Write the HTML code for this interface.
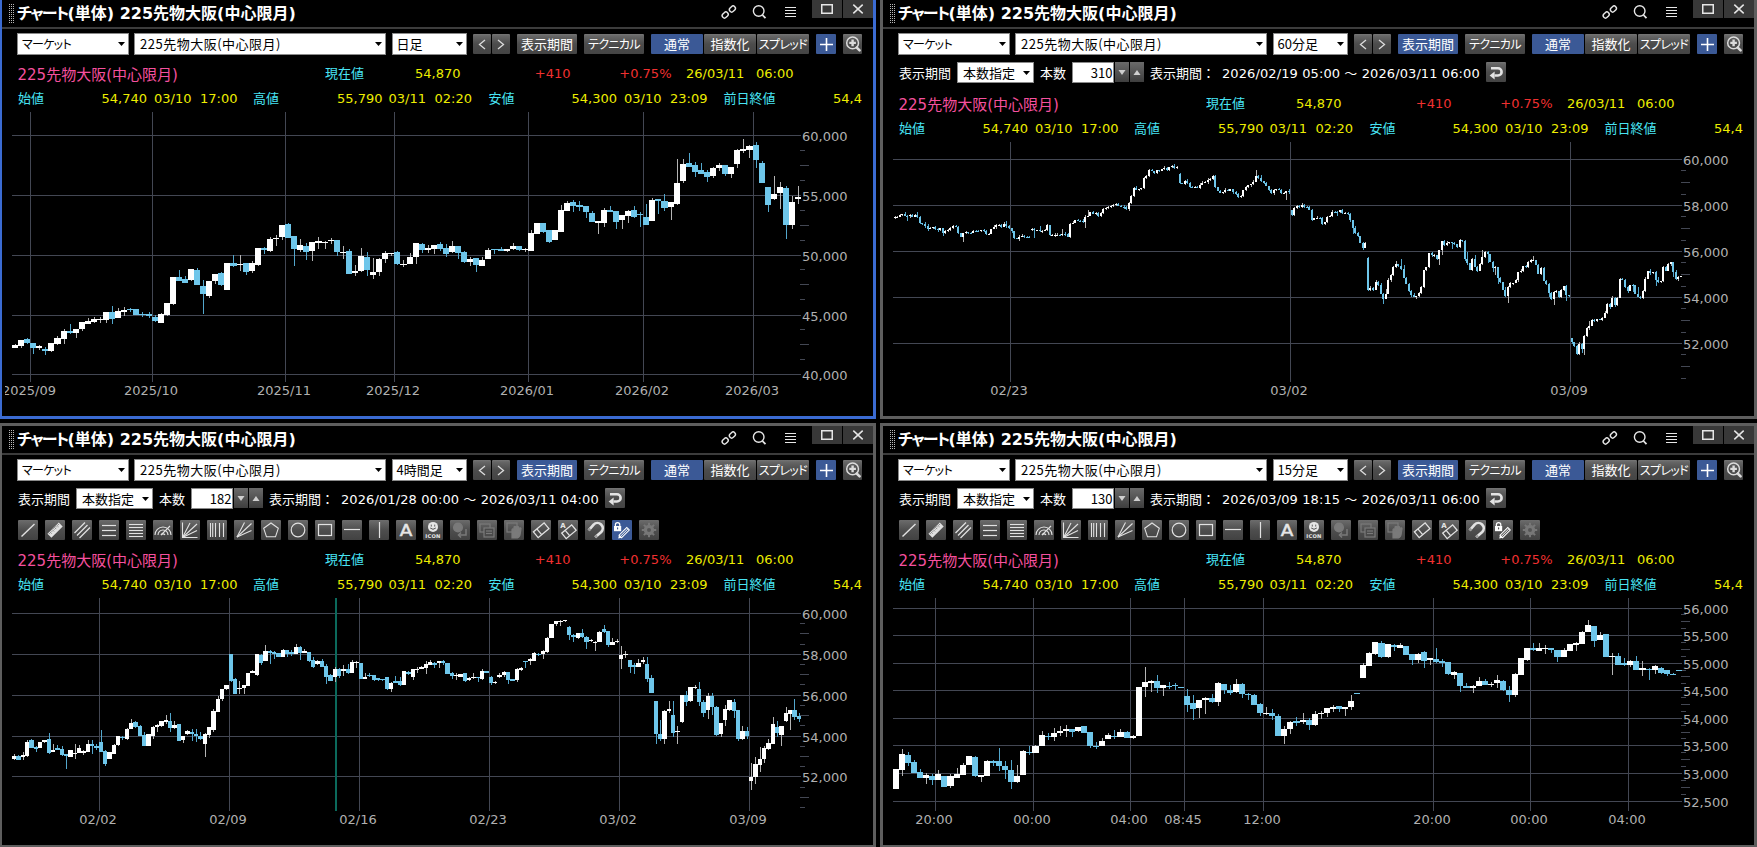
<!DOCTYPE html><html><head><meta charset="utf-8"><title>chart</title><style>html,body{margin:0;padding:0;background:#000;overflow:hidden;width:1757px;height:847px}text{white-space:pre}</style></head><body><svg width="1757" height="847" viewBox="0 0 1757 847" style="display:block"><defs><linearGradient id="gbtn" x1="0" y1="0" x2="0" y2="1"><stop offset="0" stop-color="#757575"/><stop offset="0.1" stop-color="#666"/><stop offset="0.5" stop-color="#4c4c4c"/><stop offset="1" stop-color="#444"/></linearGradient><linearGradient id="gtool" x1="0" y1="0" x2="0" y2="1"><stop offset="0" stop-color="#6c6c6c"/><stop offset="0.5" stop-color="#4e4e4e"/><stop offset="1" stop-color="#424242"/></linearGradient><linearGradient id="gspin" x1="0" y1="0" x2="0" y2="1"><stop offset="0" stop-color="#6a6a6a"/><stop offset="1" stop-color="#3e3e3e"/></linearGradient></defs><rect x="0" y="0" width="1757" height="847" fill="#000" /><rect x="-1" y="-3" width="877" height="3" fill="#3b6bd2" /><rect x="-1" y="416" width="877" height="3" fill="#3b6bd2" /><rect x="-1" y="-3" width="3" height="422" fill="#3b6bd2" /><rect x="873" y="-3" width="3" height="422" fill="#3b6bd2" /><rect x="880" y="-3" width="877" height="3" fill="#5e5e5e" /><rect x="880" y="416" width="877" height="3" fill="#5e5e5e" /><rect x="880" y="-3" width="3" height="422" fill="#5e5e5e" /><rect x="1754" y="-3" width="3" height="422" fill="#5e5e5e" /><rect x="-1" y="423" width="877" height="3" fill="#5e5e5e" /><rect x="-1" y="845" width="877" height="3" fill="#5e5e5e" /><rect x="-1" y="423" width="3" height="425" fill="#5e5e5e" /><rect x="873" y="423" width="3" height="425" fill="#5e5e5e" /><rect x="880" y="423" width="877" height="3" fill="#5e5e5e" /><rect x="880" y="845" width="877" height="3" fill="#5e5e5e" /><rect x="880" y="423" width="3" height="425" fill="#5e5e5e" /><rect x="1754" y="423" width="3" height="425" fill="#5e5e5e" /><rect x="9" y="4" width="1" height="1" fill="#b8b8b8" /><rect x="9" y="6" width="1" height="1" fill="#b8b8b8" /><rect x="9" y="8" width="1" height="1" fill="#b8b8b8" /><rect x="9" y="10" width="1" height="1" fill="#b8b8b8" /><rect x="9" y="12" width="1" height="1" fill="#b8b8b8" /><rect x="9" y="14" width="1" height="1" fill="#b8b8b8" /><rect x="9" y="16" width="1" height="1" fill="#b8b8b8" /><rect x="9" y="18" width="1" height="1" fill="#b8b8b8" /><rect x="9" y="20" width="1" height="1" fill="#b8b8b8" /><rect x="9" y="22" width="1" height="1" fill="#b8b8b8" /><rect x="11" y="4" width="1" height="1" fill="#b8b8b8" /><rect x="11" y="6" width="1" height="1" fill="#b8b8b8" /><rect x="11" y="8" width="1" height="1" fill="#b8b8b8" /><rect x="11" y="10" width="1" height="1" fill="#b8b8b8" /><rect x="11" y="12" width="1" height="1" fill="#b8b8b8" /><rect x="11" y="14" width="1" height="1" fill="#b8b8b8" /><rect x="11" y="16" width="1" height="1" fill="#b8b8b8" /><rect x="11" y="18" width="1" height="1" fill="#b8b8b8" /><rect x="11" y="20" width="1" height="1" fill="#b8b8b8" /><rect x="11" y="22" width="1" height="1" fill="#b8b8b8" /><rect x="13" y="4" width="1" height="1" fill="#b8b8b8" /><rect x="13" y="6" width="1" height="1" fill="#b8b8b8" /><rect x="13" y="8" width="1" height="1" fill="#b8b8b8" /><rect x="13" y="10" width="1" height="1" fill="#b8b8b8" /><rect x="13" y="12" width="1" height="1" fill="#b8b8b8" /><rect x="13" y="14" width="1" height="1" fill="#b8b8b8" /><rect x="13" y="16" width="1" height="1" fill="#b8b8b8" /><rect x="13" y="18" width="1" height="1" fill="#b8b8b8" /><rect x="13" y="20" width="1" height="1" fill="#b8b8b8" /><rect x="13" y="22" width="1" height="1" fill="#b8b8b8" /><text x="17" y="19" fill="#fff" style="font-size:16px;font-weight:bold;font-family:'DejaVu Sans', 'Noto Sans CJK JP', sans-serif;font-feature-settings:'palt'"><tspan style="letter-spacing:-1.7px">チャート</tspan>(単体) 225先物大阪(中心限月)</text><g fill="none" stroke="#e6e6e6" stroke-width="1.4"><rect x="729.1" y="6.7" width="6.6" height="4.6" rx="2.3" transform="rotate(-45 732.4 9)"/><rect x="721.9" y="12.7" width="6.6" height="4.6" rx="2.3" transform="rotate(-45 725.2 15)"/></g><circle cx="758.7" cy="11.0" r="5.3" fill="none" stroke="#e6e6e6" stroke-width="1.4"/><line x1="762.5" y1="15" x2="765.5" y2="18.2" stroke="#e6e6e6" stroke-width="1.8"/><line x1="785" y1="7.5" x2="796" y2="7.5" stroke="#e6e6e6" stroke-width="1"/><line x1="785" y1="10.5" x2="796" y2="10.5" stroke="#e6e6e6" stroke-width="1"/><line x1="785" y1="13.5" x2="796" y2="13.5" stroke="#e6e6e6" stroke-width="1"/><line x1="785" y1="16.5" x2="796" y2="16.5" stroke="#e6e6e6" stroke-width="1"/><rect x="812" y="0" width="30" height="18" fill="#383838" /><rect x="843" y="0" width="30" height="18" fill="#383838" /><rect x="821.75" y="4.75" width="10.5" height="8.5" fill="none" stroke="#e6e6e6" stroke-width="1.5"/><path d="M853.3 4.6 L862.7 13.4 M862.7 4.6 L853.3 13.4" stroke="#e6e6e6" stroke-width="1.5"/><rect x="2" y="27" width="871" height="2" fill="#3c3c3c" /><rect x="890" y="4" width="1" height="1" fill="#b8b8b8" /><rect x="890" y="6" width="1" height="1" fill="#b8b8b8" /><rect x="890" y="8" width="1" height="1" fill="#b8b8b8" /><rect x="890" y="10" width="1" height="1" fill="#b8b8b8" /><rect x="890" y="12" width="1" height="1" fill="#b8b8b8" /><rect x="890" y="14" width="1" height="1" fill="#b8b8b8" /><rect x="890" y="16" width="1" height="1" fill="#b8b8b8" /><rect x="890" y="18" width="1" height="1" fill="#b8b8b8" /><rect x="890" y="20" width="1" height="1" fill="#b8b8b8" /><rect x="890" y="22" width="1" height="1" fill="#b8b8b8" /><rect x="892" y="4" width="1" height="1" fill="#b8b8b8" /><rect x="892" y="6" width="1" height="1" fill="#b8b8b8" /><rect x="892" y="8" width="1" height="1" fill="#b8b8b8" /><rect x="892" y="10" width="1" height="1" fill="#b8b8b8" /><rect x="892" y="12" width="1" height="1" fill="#b8b8b8" /><rect x="892" y="14" width="1" height="1" fill="#b8b8b8" /><rect x="892" y="16" width="1" height="1" fill="#b8b8b8" /><rect x="892" y="18" width="1" height="1" fill="#b8b8b8" /><rect x="892" y="20" width="1" height="1" fill="#b8b8b8" /><rect x="892" y="22" width="1" height="1" fill="#b8b8b8" /><rect x="894" y="4" width="1" height="1" fill="#b8b8b8" /><rect x="894" y="6" width="1" height="1" fill="#b8b8b8" /><rect x="894" y="8" width="1" height="1" fill="#b8b8b8" /><rect x="894" y="10" width="1" height="1" fill="#b8b8b8" /><rect x="894" y="12" width="1" height="1" fill="#b8b8b8" /><rect x="894" y="14" width="1" height="1" fill="#b8b8b8" /><rect x="894" y="16" width="1" height="1" fill="#b8b8b8" /><rect x="894" y="18" width="1" height="1" fill="#b8b8b8" /><rect x="894" y="20" width="1" height="1" fill="#b8b8b8" /><rect x="894" y="22" width="1" height="1" fill="#b8b8b8" /><text x="898" y="19" fill="#fff" style="font-size:16px;font-weight:bold;font-family:'DejaVu Sans', 'Noto Sans CJK JP', sans-serif;font-feature-settings:'palt'"><tspan style="letter-spacing:-1.7px">チャート</tspan>(単体) 225先物大阪(中心限月)</text><g fill="none" stroke="#e6e6e6" stroke-width="1.4"><rect x="1610.1" y="6.7" width="6.6" height="4.6" rx="2.3" transform="rotate(-45 1613.4 9)"/><rect x="1602.9" y="12.7" width="6.6" height="4.6" rx="2.3" transform="rotate(-45 1606.2 15)"/></g><circle cx="1639.7" cy="11.0" r="5.3" fill="none" stroke="#e6e6e6" stroke-width="1.4"/><line x1="1643.5" y1="15" x2="1646.5" y2="18.2" stroke="#e6e6e6" stroke-width="1.8"/><line x1="1666" y1="7.5" x2="1677" y2="7.5" stroke="#e6e6e6" stroke-width="1"/><line x1="1666" y1="10.5" x2="1677" y2="10.5" stroke="#e6e6e6" stroke-width="1"/><line x1="1666" y1="13.5" x2="1677" y2="13.5" stroke="#e6e6e6" stroke-width="1"/><line x1="1666" y1="16.5" x2="1677" y2="16.5" stroke="#e6e6e6" stroke-width="1"/><rect x="1693" y="0" width="30" height="18" fill="#383838" /><rect x="1724" y="0" width="30" height="18" fill="#383838" /><rect x="1702.75" y="4.75" width="10.5" height="8.5" fill="none" stroke="#e6e6e6" stroke-width="1.5"/><path d="M1734.3 4.6 L1743.7 13.4 M1743.7 4.6 L1734.3 13.4" stroke="#e6e6e6" stroke-width="1.5"/><rect x="883" y="27" width="871" height="2" fill="#3c3c3c" /><rect x="9" y="430" width="1" height="1" fill="#b8b8b8" /><rect x="9" y="432" width="1" height="1" fill="#b8b8b8" /><rect x="9" y="434" width="1" height="1" fill="#b8b8b8" /><rect x="9" y="436" width="1" height="1" fill="#b8b8b8" /><rect x="9" y="438" width="1" height="1" fill="#b8b8b8" /><rect x="9" y="440" width="1" height="1" fill="#b8b8b8" /><rect x="9" y="442" width="1" height="1" fill="#b8b8b8" /><rect x="9" y="444" width="1" height="1" fill="#b8b8b8" /><rect x="9" y="446" width="1" height="1" fill="#b8b8b8" /><rect x="9" y="448" width="1" height="1" fill="#b8b8b8" /><rect x="11" y="430" width="1" height="1" fill="#b8b8b8" /><rect x="11" y="432" width="1" height="1" fill="#b8b8b8" /><rect x="11" y="434" width="1" height="1" fill="#b8b8b8" /><rect x="11" y="436" width="1" height="1" fill="#b8b8b8" /><rect x="11" y="438" width="1" height="1" fill="#b8b8b8" /><rect x="11" y="440" width="1" height="1" fill="#b8b8b8" /><rect x="11" y="442" width="1" height="1" fill="#b8b8b8" /><rect x="11" y="444" width="1" height="1" fill="#b8b8b8" /><rect x="11" y="446" width="1" height="1" fill="#b8b8b8" /><rect x="11" y="448" width="1" height="1" fill="#b8b8b8" /><rect x="13" y="430" width="1" height="1" fill="#b8b8b8" /><rect x="13" y="432" width="1" height="1" fill="#b8b8b8" /><rect x="13" y="434" width="1" height="1" fill="#b8b8b8" /><rect x="13" y="436" width="1" height="1" fill="#b8b8b8" /><rect x="13" y="438" width="1" height="1" fill="#b8b8b8" /><rect x="13" y="440" width="1" height="1" fill="#b8b8b8" /><rect x="13" y="442" width="1" height="1" fill="#b8b8b8" /><rect x="13" y="444" width="1" height="1" fill="#b8b8b8" /><rect x="13" y="446" width="1" height="1" fill="#b8b8b8" /><rect x="13" y="448" width="1" height="1" fill="#b8b8b8" /><text x="17" y="445" fill="#fff" style="font-size:16px;font-weight:bold;font-family:'DejaVu Sans', 'Noto Sans CJK JP', sans-serif;font-feature-settings:'palt'"><tspan style="letter-spacing:-1.7px">チャート</tspan>(単体) 225先物大阪(中心限月)</text><g fill="none" stroke="#e6e6e6" stroke-width="1.4"><rect x="729.1" y="432.7" width="6.6" height="4.6" rx="2.3" transform="rotate(-45 732.4 435)"/><rect x="721.9" y="438.7" width="6.6" height="4.6" rx="2.3" transform="rotate(-45 725.2 441)"/></g><circle cx="758.7" cy="437.0" r="5.3" fill="none" stroke="#e6e6e6" stroke-width="1.4"/><line x1="762.5" y1="441" x2="765.5" y2="444.2" stroke="#e6e6e6" stroke-width="1.8"/><line x1="785" y1="433.5" x2="796" y2="433.5" stroke="#e6e6e6" stroke-width="1"/><line x1="785" y1="436.5" x2="796" y2="436.5" stroke="#e6e6e6" stroke-width="1"/><line x1="785" y1="439.5" x2="796" y2="439.5" stroke="#e6e6e6" stroke-width="1"/><line x1="785" y1="442.5" x2="796" y2="442.5" stroke="#e6e6e6" stroke-width="1"/><rect x="812" y="426" width="30" height="18" fill="#383838" /><rect x="843" y="426" width="30" height="18" fill="#383838" /><rect x="821.75" y="430.75" width="10.5" height="8.5" fill="none" stroke="#e6e6e6" stroke-width="1.5"/><path d="M853.3 430.6 L862.7 439.4 M862.7 430.6 L853.3 439.4" stroke="#e6e6e6" stroke-width="1.5"/><rect x="2" y="453" width="871" height="2" fill="#3c3c3c" /><rect x="890" y="430" width="1" height="1" fill="#b8b8b8" /><rect x="890" y="432" width="1" height="1" fill="#b8b8b8" /><rect x="890" y="434" width="1" height="1" fill="#b8b8b8" /><rect x="890" y="436" width="1" height="1" fill="#b8b8b8" /><rect x="890" y="438" width="1" height="1" fill="#b8b8b8" /><rect x="890" y="440" width="1" height="1" fill="#b8b8b8" /><rect x="890" y="442" width="1" height="1" fill="#b8b8b8" /><rect x="890" y="444" width="1" height="1" fill="#b8b8b8" /><rect x="890" y="446" width="1" height="1" fill="#b8b8b8" /><rect x="890" y="448" width="1" height="1" fill="#b8b8b8" /><rect x="892" y="430" width="1" height="1" fill="#b8b8b8" /><rect x="892" y="432" width="1" height="1" fill="#b8b8b8" /><rect x="892" y="434" width="1" height="1" fill="#b8b8b8" /><rect x="892" y="436" width="1" height="1" fill="#b8b8b8" /><rect x="892" y="438" width="1" height="1" fill="#b8b8b8" /><rect x="892" y="440" width="1" height="1" fill="#b8b8b8" /><rect x="892" y="442" width="1" height="1" fill="#b8b8b8" /><rect x="892" y="444" width="1" height="1" fill="#b8b8b8" /><rect x="892" y="446" width="1" height="1" fill="#b8b8b8" /><rect x="892" y="448" width="1" height="1" fill="#b8b8b8" /><rect x="894" y="430" width="1" height="1" fill="#b8b8b8" /><rect x="894" y="432" width="1" height="1" fill="#b8b8b8" /><rect x="894" y="434" width="1" height="1" fill="#b8b8b8" /><rect x="894" y="436" width="1" height="1" fill="#b8b8b8" /><rect x="894" y="438" width="1" height="1" fill="#b8b8b8" /><rect x="894" y="440" width="1" height="1" fill="#b8b8b8" /><rect x="894" y="442" width="1" height="1" fill="#b8b8b8" /><rect x="894" y="444" width="1" height="1" fill="#b8b8b8" /><rect x="894" y="446" width="1" height="1" fill="#b8b8b8" /><rect x="894" y="448" width="1" height="1" fill="#b8b8b8" /><text x="898" y="445" fill="#fff" style="font-size:16px;font-weight:bold;font-family:'DejaVu Sans', 'Noto Sans CJK JP', sans-serif;font-feature-settings:'palt'"><tspan style="letter-spacing:-1.7px">チャート</tspan>(単体) 225先物大阪(中心限月)</text><g fill="none" stroke="#e6e6e6" stroke-width="1.4"><rect x="1610.1" y="432.7" width="6.6" height="4.6" rx="2.3" transform="rotate(-45 1613.4 435)"/><rect x="1602.9" y="438.7" width="6.6" height="4.6" rx="2.3" transform="rotate(-45 1606.2 441)"/></g><circle cx="1639.7" cy="437.0" r="5.3" fill="none" stroke="#e6e6e6" stroke-width="1.4"/><line x1="1643.5" y1="441" x2="1646.5" y2="444.2" stroke="#e6e6e6" stroke-width="1.8"/><line x1="1666" y1="433.5" x2="1677" y2="433.5" stroke="#e6e6e6" stroke-width="1"/><line x1="1666" y1="436.5" x2="1677" y2="436.5" stroke="#e6e6e6" stroke-width="1"/><line x1="1666" y1="439.5" x2="1677" y2="439.5" stroke="#e6e6e6" stroke-width="1"/><line x1="1666" y1="442.5" x2="1677" y2="442.5" stroke="#e6e6e6" stroke-width="1"/><rect x="1693" y="426" width="30" height="18" fill="#383838" /><rect x="1724" y="426" width="30" height="18" fill="#383838" /><rect x="1702.75" y="430.75" width="10.5" height="8.5" fill="none" stroke="#e6e6e6" stroke-width="1.5"/><path d="M1734.3 430.6 L1743.7 439.4 M1743.7 430.6 L1734.3 439.4" stroke="#e6e6e6" stroke-width="1.5"/><rect x="883" y="453" width="871" height="2" fill="#3c3c3c" /><rect x="17.5" y="33.5" width="111" height="21" fill="#ffffff" stroke="#8a8a8a" stroke-width="1"/><path d="M118 42 L125 42 L121.5 46 Z" fill="#000"/><text x="22" y="49" fill="#000" style="font-size:12px;font-family:'Noto Sans CJK JP', sans-serif;font-feature-settings:'palt';letter-spacing:-0.7px;">マーケット</text><rect x="134.5" y="33.5" width="251" height="21" fill="#ffffff" stroke="#8a8a8a" stroke-width="1"/><path d="M375 42 L382 42 L378.5 46 Z" fill="#000"/><text x="140" y="49" fill="#000" style="font-size:13px;font-family:'Noto Sans CJK JP', sans-serif;letter-spacing:0.5px;">225先物大阪(中心限月)</text><rect x="392.5" y="33.5" width="74" height="21" fill="#ffffff" stroke="#8a8a8a" stroke-width="1"/><path d="M456 42 L463 42 L459.5 46 Z" fill="#000"/><text x="396.5" y="49" fill="#000" style="font-size:13px;font-family:'Noto Sans CJK JP', sans-serif;">日足</text><rect x="473" y="34" width="18" height="20" rx="1" fill="url(#gbtn)"/><rect x="492" y="34" width="18" height="20" rx="1" fill="url(#gbtn)"/><path d="M485 40 L479.5 44.5 L485 49" fill="none" stroke="#dcdcdc" stroke-width="1.3"/><path d="M498 40 L503.5 44.5 L498 49" fill="none" stroke="#dcdcdc" stroke-width="1.3"/><rect x="517" y="34" width="60" height="20" rx="1" fill="url(#gbtn)"/><text x="547.0" y="49" fill="#fff" text-anchor="middle" style="font-size:13px;font-family:'Noto Sans CJK JP', sans-serif;">表示期間</text><rect x="584" y="34" width="60" height="20" rx="1" fill="url(#gbtn)"/><text x="614.0" y="49" fill="#fff" text-anchor="middle" style="font-size:12px;font-family:'Noto Sans CJK JP', sans-serif;font-feature-settings:'palt';letter-spacing:-0.6px;">テクニカル</text><rect x="651" y="34" width="52" height="20" rx="1" fill="#3b5996"/><text x="677.0" y="49" fill="#fff" text-anchor="middle" style="font-size:13px;font-family:'Noto Sans CJK JP', sans-serif;">通常</text><rect x="704" y="34" width="52" height="20" rx="1" fill="url(#gbtn)"/><text x="730.0" y="49" fill="#fff" text-anchor="middle" style="font-size:13px;font-family:'Noto Sans CJK JP', sans-serif;">指数化</text><rect x="757" y="34" width="52" height="20" rx="1" fill="url(#gbtn)"/><text x="783.0" y="49" fill="#fff" text-anchor="middle" style="font-size:12px;font-family:'Noto Sans CJK JP', sans-serif;font-feature-settings:'palt';letter-spacing:-0.6px;">スプレッド</text><rect x="816" y="34" width="20" height="20" rx="1" fill="#3b5996"/><path d="M820 44.5 L833 44.5 M826.5 38 L826.5 51" stroke="#fff" stroke-width="1.6"/><rect x="843" y="34" width="19" height="20" rx="1" fill="url(#gbtn)"/><circle cx="852.6" cy="42.9" r="5.9" fill="none" stroke="#dcdcdc" stroke-width="1.5"/><path d="M849.3 42.9 L855.9 42.9 M852.6 39.6 L852.6 46.2" stroke="#dcdcdc" stroke-width="2.4"/><line x1="856.8" y1="47.6" x2="859.6" y2="50.4" stroke="#dcdcdc" stroke-width="2.6" stroke-linecap="round"/><rect x="898.5" y="33.5" width="111" height="21" fill="#ffffff" stroke="#8a8a8a" stroke-width="1"/><path d="M999 42 L1006 42 L1002.5 46 Z" fill="#000"/><text x="903" y="49" fill="#000" style="font-size:12px;font-family:'Noto Sans CJK JP', sans-serif;font-feature-settings:'palt';letter-spacing:-0.7px;">マーケット</text><rect x="1015.5" y="33.5" width="251" height="21" fill="#ffffff" stroke="#8a8a8a" stroke-width="1"/><path d="M1256 42 L1263 42 L1259.5 46 Z" fill="#000"/><text x="1021" y="49" fill="#000" style="font-size:13px;font-family:'Noto Sans CJK JP', sans-serif;letter-spacing:0.5px;">225先物大阪(中心限月)</text><rect x="1273.5" y="33.5" width="74" height="21" fill="#ffffff" stroke="#8a8a8a" stroke-width="1"/><path d="M1337 42 L1344 42 L1340.5 46 Z" fill="#000"/><text x="1277.5" y="49" fill="#000" style="font-size:13px;font-family:'Noto Sans CJK JP', sans-serif;">60分足</text><rect x="1354" y="34" width="18" height="20" rx="1" fill="url(#gbtn)"/><rect x="1373" y="34" width="18" height="20" rx="1" fill="url(#gbtn)"/><path d="M1366 40 L1360.5 44.5 L1366 49" fill="none" stroke="#dcdcdc" stroke-width="1.3"/><path d="M1379 40 L1384.5 44.5 L1379 49" fill="none" stroke="#dcdcdc" stroke-width="1.3"/><rect x="1398" y="34" width="60" height="20" rx="1" fill="#3b5996"/><text x="1428.0" y="49" fill="#fff" text-anchor="middle" style="font-size:13px;font-family:'Noto Sans CJK JP', sans-serif;">表示期間</text><rect x="1465" y="34" width="60" height="20" rx="1" fill="url(#gbtn)"/><text x="1495.0" y="49" fill="#fff" text-anchor="middle" style="font-size:12px;font-family:'Noto Sans CJK JP', sans-serif;font-feature-settings:'palt';letter-spacing:-0.6px;">テクニカル</text><rect x="1532" y="34" width="52" height="20" rx="1" fill="#3b5996"/><text x="1558.0" y="49" fill="#fff" text-anchor="middle" style="font-size:13px;font-family:'Noto Sans CJK JP', sans-serif;">通常</text><rect x="1585" y="34" width="52" height="20" rx="1" fill="url(#gbtn)"/><text x="1611.0" y="49" fill="#fff" text-anchor="middle" style="font-size:13px;font-family:'Noto Sans CJK JP', sans-serif;">指数化</text><rect x="1638" y="34" width="52" height="20" rx="1" fill="url(#gbtn)"/><text x="1664.0" y="49" fill="#fff" text-anchor="middle" style="font-size:12px;font-family:'Noto Sans CJK JP', sans-serif;font-feature-settings:'palt';letter-spacing:-0.6px;">スプレッド</text><rect x="1697" y="34" width="20" height="20" rx="1" fill="#3b5996"/><path d="M1701 44.5 L1714 44.5 M1707.5 38 L1707.5 51" stroke="#fff" stroke-width="1.6"/><rect x="1724" y="34" width="19" height="20" rx="1" fill="url(#gbtn)"/><circle cx="1733.6" cy="42.9" r="5.9" fill="none" stroke="#dcdcdc" stroke-width="1.5"/><path d="M1730.3 42.9 L1736.9 42.9 M1733.6 39.6 L1733.6 46.2" stroke="#dcdcdc" stroke-width="2.4"/><line x1="1737.8" y1="47.6" x2="1740.6" y2="50.4" stroke="#dcdcdc" stroke-width="2.6" stroke-linecap="round"/><rect x="17.5" y="459.5" width="111" height="21" fill="#ffffff" stroke="#8a8a8a" stroke-width="1"/><path d="M118 468 L125 468 L121.5 472 Z" fill="#000"/><text x="22" y="475" fill="#000" style="font-size:12px;font-family:'Noto Sans CJK JP', sans-serif;font-feature-settings:'palt';letter-spacing:-0.7px;">マーケット</text><rect x="134.5" y="459.5" width="251" height="21" fill="#ffffff" stroke="#8a8a8a" stroke-width="1"/><path d="M375 468 L382 468 L378.5 472 Z" fill="#000"/><text x="140" y="475" fill="#000" style="font-size:13px;font-family:'Noto Sans CJK JP', sans-serif;letter-spacing:0.5px;">225先物大阪(中心限月)</text><rect x="392.5" y="459.5" width="74" height="21" fill="#ffffff" stroke="#8a8a8a" stroke-width="1"/><path d="M456 468 L463 468 L459.5 472 Z" fill="#000"/><text x="396.5" y="475" fill="#000" style="font-size:13px;font-family:'Noto Sans CJK JP', sans-serif;">4時間足</text><rect x="473" y="460" width="18" height="20" rx="1" fill="url(#gbtn)"/><rect x="492" y="460" width="18" height="20" rx="1" fill="url(#gbtn)"/><path d="M485 466 L479.5 470.5 L485 475" fill="none" stroke="#dcdcdc" stroke-width="1.3"/><path d="M498 466 L503.5 470.5 L498 475" fill="none" stroke="#dcdcdc" stroke-width="1.3"/><rect x="517" y="460" width="60" height="20" rx="1" fill="#3b5996"/><text x="547.0" y="475" fill="#fff" text-anchor="middle" style="font-size:13px;font-family:'Noto Sans CJK JP', sans-serif;">表示期間</text><rect x="584" y="460" width="60" height="20" rx="1" fill="url(#gbtn)"/><text x="614.0" y="475" fill="#fff" text-anchor="middle" style="font-size:12px;font-family:'Noto Sans CJK JP', sans-serif;font-feature-settings:'palt';letter-spacing:-0.6px;">テクニカル</text><rect x="651" y="460" width="52" height="20" rx="1" fill="#3b5996"/><text x="677.0" y="475" fill="#fff" text-anchor="middle" style="font-size:13px;font-family:'Noto Sans CJK JP', sans-serif;">通常</text><rect x="704" y="460" width="52" height="20" rx="1" fill="url(#gbtn)"/><text x="730.0" y="475" fill="#fff" text-anchor="middle" style="font-size:13px;font-family:'Noto Sans CJK JP', sans-serif;">指数化</text><rect x="757" y="460" width="52" height="20" rx="1" fill="url(#gbtn)"/><text x="783.0" y="475" fill="#fff" text-anchor="middle" style="font-size:12px;font-family:'Noto Sans CJK JP', sans-serif;font-feature-settings:'palt';letter-spacing:-0.6px;">スプレッド</text><rect x="816" y="460" width="20" height="20" rx="1" fill="#3b5996"/><path d="M820 470.5 L833 470.5 M826.5 464 L826.5 477" stroke="#fff" stroke-width="1.6"/><rect x="843" y="460" width="19" height="20" rx="1" fill="url(#gbtn)"/><circle cx="852.6" cy="468.9" r="5.9" fill="none" stroke="#dcdcdc" stroke-width="1.5"/><path d="M849.3 468.9 L855.9 468.9 M852.6 465.6 L852.6 472.2" stroke="#dcdcdc" stroke-width="2.4"/><line x1="856.8" y1="473.6" x2="859.6" y2="476.4" stroke="#dcdcdc" stroke-width="2.6" stroke-linecap="round"/><rect x="898.5" y="459.5" width="111" height="21" fill="#ffffff" stroke="#8a8a8a" stroke-width="1"/><path d="M999 468 L1006 468 L1002.5 472 Z" fill="#000"/><text x="903" y="475" fill="#000" style="font-size:12px;font-family:'Noto Sans CJK JP', sans-serif;font-feature-settings:'palt';letter-spacing:-0.7px;">マーケット</text><rect x="1015.5" y="459.5" width="251" height="21" fill="#ffffff" stroke="#8a8a8a" stroke-width="1"/><path d="M1256 468 L1263 468 L1259.5 472 Z" fill="#000"/><text x="1021" y="475" fill="#000" style="font-size:13px;font-family:'Noto Sans CJK JP', sans-serif;letter-spacing:0.5px;">225先物大阪(中心限月)</text><rect x="1273.5" y="459.5" width="74" height="21" fill="#ffffff" stroke="#8a8a8a" stroke-width="1"/><path d="M1337 468 L1344 468 L1340.5 472 Z" fill="#000"/><text x="1277.5" y="475" fill="#000" style="font-size:13px;font-family:'Noto Sans CJK JP', sans-serif;">15分足</text><rect x="1354" y="460" width="18" height="20" rx="1" fill="url(#gbtn)"/><rect x="1373" y="460" width="18" height="20" rx="1" fill="url(#gbtn)"/><path d="M1366 466 L1360.5 470.5 L1366 475" fill="none" stroke="#dcdcdc" stroke-width="1.3"/><path d="M1379 466 L1384.5 470.5 L1379 475" fill="none" stroke="#dcdcdc" stroke-width="1.3"/><rect x="1398" y="460" width="60" height="20" rx="1" fill="#3b5996"/><text x="1428.0" y="475" fill="#fff" text-anchor="middle" style="font-size:13px;font-family:'Noto Sans CJK JP', sans-serif;">表示期間</text><rect x="1465" y="460" width="60" height="20" rx="1" fill="url(#gbtn)"/><text x="1495.0" y="475" fill="#fff" text-anchor="middle" style="font-size:12px;font-family:'Noto Sans CJK JP', sans-serif;font-feature-settings:'palt';letter-spacing:-0.6px;">テクニカル</text><rect x="1532" y="460" width="52" height="20" rx="1" fill="#3b5996"/><text x="1558.0" y="475" fill="#fff" text-anchor="middle" style="font-size:13px;font-family:'Noto Sans CJK JP', sans-serif;">通常</text><rect x="1585" y="460" width="52" height="20" rx="1" fill="url(#gbtn)"/><text x="1611.0" y="475" fill="#fff" text-anchor="middle" style="font-size:13px;font-family:'Noto Sans CJK JP', sans-serif;">指数化</text><rect x="1638" y="460" width="52" height="20" rx="1" fill="url(#gbtn)"/><text x="1664.0" y="475" fill="#fff" text-anchor="middle" style="font-size:12px;font-family:'Noto Sans CJK JP', sans-serif;font-feature-settings:'palt';letter-spacing:-0.6px;">スプレッド</text><rect x="1697" y="460" width="20" height="20" rx="1" fill="#3b5996"/><path d="M1701 470.5 L1714 470.5 M1707.5 464 L1707.5 477" stroke="#fff" stroke-width="1.6"/><rect x="1724" y="460" width="19" height="20" rx="1" fill="url(#gbtn)"/><circle cx="1733.6" cy="468.9" r="5.9" fill="none" stroke="#dcdcdc" stroke-width="1.5"/><path d="M1730.3 468.9 L1736.9 468.9 M1733.6 465.6 L1733.6 472.2" stroke="#dcdcdc" stroke-width="2.4"/><line x1="1737.8" y1="473.6" x2="1740.6" y2="476.4" stroke="#dcdcdc" stroke-width="2.6" stroke-linecap="round"/><text x="899" y="78" fill="#fff" style="font-size:13px;font-family:'Noto Sans CJK JP', sans-serif;" >表示期間</text><rect x="957.5" y="62.5" width="76" height="20" fill="#ffffff" stroke="#8a8a8a" stroke-width="1"/><path d="M1023 71 L1030 71 L1026.5 75 Z" fill="#000"/><text x="963" y="78" fill="#000" style="font-size:13px;font-family:'Noto Sans CJK JP', sans-serif;">本数指定</text><text x="1040" y="78" fill="#fff" style="font-size:13px;font-family:'Noto Sans CJK JP', sans-serif;" >本数</text><rect x="1072.5" y="62.5" width="41" height="20" fill="#fff" stroke="#8a8a8a"/><text x="1112.5" y="78" fill="#000" style="font-size:13px;font-family:'Noto Sans CJK JP', sans-serif;" text-anchor="end" >310</text><rect x="1115" y="62" width="14" height="20" fill="url(#gspin)"/><rect x="1130" y="62" width="14" height="20" fill="url(#gspin)"/><path d="M1118.5 70 L1125.5 70 L1122 75 Z" fill="#cfcfcf"/><path d="M1133.5 75 L1140.5 75 L1137 70 Z" fill="#cfcfcf"/><text x="1150" y="78" fill="#fff" style="font-size:13px;font-family:'Noto Sans CJK JP', sans-serif;" >表示期間：</text><text x="1222" y="78" fill="#fff" style="font-size:13px;font-family:'DejaVu Sans', 'Noto Sans CJK JP', sans-serif;" letter-spacing="0.1">2026/02/19 05:00 ～ 2026/03/11 06:00</text><rect x="1486" y="62" width="20" height="20" rx="1" fill="url(#gbtn)"/><path d="M1491 68.3 L1498 68.3 A3.6 3.6 0 0 1 1498 75.5 L1494.5 75.5" fill="none" stroke="#e4e4e4" stroke-width="2.6"/><path d="M1489.6 75.5 L1494.6 71.6 L1494.6 79.4 Z" fill="#e4e4e4"/><text x="18" y="504" fill="#fff" style="font-size:13px;font-family:'Noto Sans CJK JP', sans-serif;" >表示期間</text><rect x="76.5" y="488.5" width="76" height="20" fill="#ffffff" stroke="#8a8a8a" stroke-width="1"/><path d="M142 497 L149 497 L145.5 501 Z" fill="#000"/><text x="82" y="504" fill="#000" style="font-size:13px;font-family:'Noto Sans CJK JP', sans-serif;">本数指定</text><text x="159" y="504" fill="#fff" style="font-size:13px;font-family:'Noto Sans CJK JP', sans-serif;" >本数</text><rect x="191.5" y="488.5" width="41" height="20" fill="#fff" stroke="#8a8a8a"/><text x="231.5" y="504" fill="#000" style="font-size:13px;font-family:'Noto Sans CJK JP', sans-serif;" text-anchor="end" >182</text><rect x="234" y="488" width="14" height="20" fill="url(#gspin)"/><rect x="249" y="488" width="14" height="20" fill="url(#gspin)"/><path d="M237.5 496 L244.5 496 L241 501 Z" fill="#cfcfcf"/><path d="M252.5 501 L259.5 501 L256 496 Z" fill="#cfcfcf"/><text x="269" y="504" fill="#fff" style="font-size:13px;font-family:'Noto Sans CJK JP', sans-serif;" >表示期間：</text><text x="341" y="504" fill="#fff" style="font-size:13px;font-family:'DejaVu Sans', 'Noto Sans CJK JP', sans-serif;" letter-spacing="0.1">2026/01/28 00:00 ～ 2026/03/11 04:00</text><rect x="605" y="488" width="20" height="20" rx="1" fill="url(#gbtn)"/><path d="M610 494.3 L617 494.3 A3.6 3.6 0 0 1 617 501.5 L613.5 501.5" fill="none" stroke="#e4e4e4" stroke-width="2.6"/><path d="M608.6 501.5 L613.6 497.6 L613.6 505.4 Z" fill="#e4e4e4"/><text x="899" y="504" fill="#fff" style="font-size:13px;font-family:'Noto Sans CJK JP', sans-serif;" >表示期間</text><rect x="957.5" y="488.5" width="76" height="20" fill="#ffffff" stroke="#8a8a8a" stroke-width="1"/><path d="M1023 497 L1030 497 L1026.5 501 Z" fill="#000"/><text x="963" y="504" fill="#000" style="font-size:13px;font-family:'Noto Sans CJK JP', sans-serif;">本数指定</text><text x="1040" y="504" fill="#fff" style="font-size:13px;font-family:'Noto Sans CJK JP', sans-serif;" >本数</text><rect x="1072.5" y="488.5" width="41" height="20" fill="#fff" stroke="#8a8a8a"/><text x="1112.5" y="504" fill="#000" style="font-size:13px;font-family:'Noto Sans CJK JP', sans-serif;" text-anchor="end" >130</text><rect x="1115" y="488" width="14" height="20" fill="url(#gspin)"/><rect x="1130" y="488" width="14" height="20" fill="url(#gspin)"/><path d="M1118.5 496 L1125.5 496 L1122 501 Z" fill="#cfcfcf"/><path d="M1133.5 501 L1140.5 501 L1137 496 Z" fill="#cfcfcf"/><text x="1150" y="504" fill="#fff" style="font-size:13px;font-family:'Noto Sans CJK JP', sans-serif;" >表示期間：</text><text x="1222" y="504" fill="#fff" style="font-size:13px;font-family:'DejaVu Sans', 'Noto Sans CJK JP', sans-serif;" letter-spacing="0.1">2026/03/09 18:15 ～ 2026/03/11 06:00</text><rect x="1486" y="488" width="20" height="20" rx="1" fill="url(#gbtn)"/><path d="M1491 494.3 L1498 494.3 A3.6 3.6 0 0 1 1498 501.5 L1494.5 501.5" fill="none" stroke="#e4e4e4" stroke-width="2.6"/><path d="M1489.6 501.5 L1494.6 497.6 L1494.6 505.4 Z" fill="#e4e4e4"/><text x="17.5" y="80" fill="#f5509e" style="font-size:15px;font-family:'DejaVu Sans', 'Noto Sans CJK JP', sans-serif;" >225先物大阪(中心限月)</text><text x="325" y="78" fill="#48e4f4" style="font-size:13px;font-family:'DejaVu Sans', 'Noto Sans CJK JP', sans-serif;" >現在値</text><text x="460.5" y="78" fill="#eded00" style="font-size:13px;font-family:'DejaVu Sans', 'Noto Sans CJK JP', sans-serif;" text-anchor="end" >54,870</text><text x="570.5" y="78" fill="#f03030" style="font-size:13px;font-family:'DejaVu Sans', 'Noto Sans CJK JP', sans-serif;" text-anchor="end" >+410</text><text x="671.5" y="78" fill="#f03030" style="font-size:13px;font-family:'DejaVu Sans', 'Noto Sans CJK JP', sans-serif;" text-anchor="end" >+0.75%</text><text x="686" y="78" fill="#eded00" style="font-size:13px;font-family:'DejaVu Sans', 'Noto Sans CJK JP', sans-serif;" >26/03/11</text><text x="756" y="78" fill="#eded00" style="font-size:13px;font-family:'DejaVu Sans', 'Noto Sans CJK JP', sans-serif;" >06:00</text><svg x="0" y="83" width="862" height="30" overflow="hidden"><text x="18" y="20" fill="#48e4f4" style="font-size:13px;font-family:'DejaVu Sans', 'Noto Sans CJK JP', sans-serif;" >始値</text><text x="147" y="20" fill="#eded00" style="font-size:13px;font-family:'DejaVu Sans', 'Noto Sans CJK JP', sans-serif;" text-anchor="end" >54,740</text><text x="154" y="20" fill="#eded00" style="font-size:13px;font-family:'DejaVu Sans', 'Noto Sans CJK JP', sans-serif;" >03/10</text><text x="200" y="20" fill="#eded00" style="font-size:13px;font-family:'DejaVu Sans', 'Noto Sans CJK JP', sans-serif;" >17:00</text><text x="253" y="20" fill="#48e4f4" style="font-size:13px;font-family:'DejaVu Sans', 'Noto Sans CJK JP', sans-serif;" >高値</text><text x="382.5" y="20" fill="#eded00" style="font-size:13px;font-family:'DejaVu Sans', 'Noto Sans CJK JP', sans-serif;" text-anchor="end" >55,790</text><text x="388.5" y="20" fill="#eded00" style="font-size:13px;font-family:'DejaVu Sans', 'Noto Sans CJK JP', sans-serif;" >03/11</text><text x="434.5" y="20" fill="#eded00" style="font-size:13px;font-family:'DejaVu Sans', 'Noto Sans CJK JP', sans-serif;" >02:20</text><text x="488.5" y="20" fill="#48e4f4" style="font-size:13px;font-family:'DejaVu Sans', 'Noto Sans CJK JP', sans-serif;" >安値</text><text x="617" y="20" fill="#eded00" style="font-size:13px;font-family:'DejaVu Sans', 'Noto Sans CJK JP', sans-serif;" text-anchor="end" >54,300</text><text x="624" y="20" fill="#eded00" style="font-size:13px;font-family:'DejaVu Sans', 'Noto Sans CJK JP', sans-serif;" >03/10</text><text x="670" y="20" fill="#eded00" style="font-size:13px;font-family:'DejaVu Sans', 'Noto Sans CJK JP', sans-serif;" >23:09</text><text x="723.5" y="20" fill="#48e4f4" style="font-size:13px;font-family:'DejaVu Sans', 'Noto Sans CJK JP', sans-serif;" >前日終値</text><text x="833" y="20" fill="#eded00" style="font-size:13px;font-family:'DejaVu Sans', 'Noto Sans CJK JP', sans-serif;" >54,460</text></svg><text x="898.5" y="110" fill="#f5509e" style="font-size:15px;font-family:'DejaVu Sans', 'Noto Sans CJK JP', sans-serif;" >225先物大阪(中心限月)</text><text x="1206" y="108" fill="#48e4f4" style="font-size:13px;font-family:'DejaVu Sans', 'Noto Sans CJK JP', sans-serif;" >現在値</text><text x="1341.5" y="108" fill="#eded00" style="font-size:13px;font-family:'DejaVu Sans', 'Noto Sans CJK JP', sans-serif;" text-anchor="end" >54,870</text><text x="1451.5" y="108" fill="#f03030" style="font-size:13px;font-family:'DejaVu Sans', 'Noto Sans CJK JP', sans-serif;" text-anchor="end" >+410</text><text x="1552.5" y="108" fill="#f03030" style="font-size:13px;font-family:'DejaVu Sans', 'Noto Sans CJK JP', sans-serif;" text-anchor="end" >+0.75%</text><text x="1567" y="108" fill="#eded00" style="font-size:13px;font-family:'DejaVu Sans', 'Noto Sans CJK JP', sans-serif;" >26/03/11</text><text x="1637" y="108" fill="#eded00" style="font-size:13px;font-family:'DejaVu Sans', 'Noto Sans CJK JP', sans-serif;" >06:00</text><svg x="881" y="113" width="862" height="30" overflow="hidden"><text x="18" y="20" fill="#48e4f4" style="font-size:13px;font-family:'DejaVu Sans', 'Noto Sans CJK JP', sans-serif;" >始値</text><text x="147" y="20" fill="#eded00" style="font-size:13px;font-family:'DejaVu Sans', 'Noto Sans CJK JP', sans-serif;" text-anchor="end" >54,740</text><text x="154" y="20" fill="#eded00" style="font-size:13px;font-family:'DejaVu Sans', 'Noto Sans CJK JP', sans-serif;" >03/10</text><text x="200" y="20" fill="#eded00" style="font-size:13px;font-family:'DejaVu Sans', 'Noto Sans CJK JP', sans-serif;" >17:00</text><text x="253" y="20" fill="#48e4f4" style="font-size:13px;font-family:'DejaVu Sans', 'Noto Sans CJK JP', sans-serif;" >高値</text><text x="382.5" y="20" fill="#eded00" style="font-size:13px;font-family:'DejaVu Sans', 'Noto Sans CJK JP', sans-serif;" text-anchor="end" >55,790</text><text x="388.5" y="20" fill="#eded00" style="font-size:13px;font-family:'DejaVu Sans', 'Noto Sans CJK JP', sans-serif;" >03/11</text><text x="434.5" y="20" fill="#eded00" style="font-size:13px;font-family:'DejaVu Sans', 'Noto Sans CJK JP', sans-serif;" >02:20</text><text x="488.5" y="20" fill="#48e4f4" style="font-size:13px;font-family:'DejaVu Sans', 'Noto Sans CJK JP', sans-serif;" >安値</text><text x="617" y="20" fill="#eded00" style="font-size:13px;font-family:'DejaVu Sans', 'Noto Sans CJK JP', sans-serif;" text-anchor="end" >54,300</text><text x="624" y="20" fill="#eded00" style="font-size:13px;font-family:'DejaVu Sans', 'Noto Sans CJK JP', sans-serif;" >03/10</text><text x="670" y="20" fill="#eded00" style="font-size:13px;font-family:'DejaVu Sans', 'Noto Sans CJK JP', sans-serif;" >23:09</text><text x="723.5" y="20" fill="#48e4f4" style="font-size:13px;font-family:'DejaVu Sans', 'Noto Sans CJK JP', sans-serif;" >前日終値</text><text x="833" y="20" fill="#eded00" style="font-size:13px;font-family:'DejaVu Sans', 'Noto Sans CJK JP', sans-serif;" >54,460</text></svg><text x="17.5" y="566" fill="#f5509e" style="font-size:15px;font-family:'DejaVu Sans', 'Noto Sans CJK JP', sans-serif;" >225先物大阪(中心限月)</text><text x="325" y="564" fill="#48e4f4" style="font-size:13px;font-family:'DejaVu Sans', 'Noto Sans CJK JP', sans-serif;" >現在値</text><text x="460.5" y="564" fill="#eded00" style="font-size:13px;font-family:'DejaVu Sans', 'Noto Sans CJK JP', sans-serif;" text-anchor="end" >54,870</text><text x="570.5" y="564" fill="#f03030" style="font-size:13px;font-family:'DejaVu Sans', 'Noto Sans CJK JP', sans-serif;" text-anchor="end" >+410</text><text x="671.5" y="564" fill="#f03030" style="font-size:13px;font-family:'DejaVu Sans', 'Noto Sans CJK JP', sans-serif;" text-anchor="end" >+0.75%</text><text x="686" y="564" fill="#eded00" style="font-size:13px;font-family:'DejaVu Sans', 'Noto Sans CJK JP', sans-serif;" >26/03/11</text><text x="756" y="564" fill="#eded00" style="font-size:13px;font-family:'DejaVu Sans', 'Noto Sans CJK JP', sans-serif;" >06:00</text><svg x="0" y="569" width="862" height="30" overflow="hidden"><text x="18" y="20" fill="#48e4f4" style="font-size:13px;font-family:'DejaVu Sans', 'Noto Sans CJK JP', sans-serif;" >始値</text><text x="147" y="20" fill="#eded00" style="font-size:13px;font-family:'DejaVu Sans', 'Noto Sans CJK JP', sans-serif;" text-anchor="end" >54,740</text><text x="154" y="20" fill="#eded00" style="font-size:13px;font-family:'DejaVu Sans', 'Noto Sans CJK JP', sans-serif;" >03/10</text><text x="200" y="20" fill="#eded00" style="font-size:13px;font-family:'DejaVu Sans', 'Noto Sans CJK JP', sans-serif;" >17:00</text><text x="253" y="20" fill="#48e4f4" style="font-size:13px;font-family:'DejaVu Sans', 'Noto Sans CJK JP', sans-serif;" >高値</text><text x="382.5" y="20" fill="#eded00" style="font-size:13px;font-family:'DejaVu Sans', 'Noto Sans CJK JP', sans-serif;" text-anchor="end" >55,790</text><text x="388.5" y="20" fill="#eded00" style="font-size:13px;font-family:'DejaVu Sans', 'Noto Sans CJK JP', sans-serif;" >03/11</text><text x="434.5" y="20" fill="#eded00" style="font-size:13px;font-family:'DejaVu Sans', 'Noto Sans CJK JP', sans-serif;" >02:20</text><text x="488.5" y="20" fill="#48e4f4" style="font-size:13px;font-family:'DejaVu Sans', 'Noto Sans CJK JP', sans-serif;" >安値</text><text x="617" y="20" fill="#eded00" style="font-size:13px;font-family:'DejaVu Sans', 'Noto Sans CJK JP', sans-serif;" text-anchor="end" >54,300</text><text x="624" y="20" fill="#eded00" style="font-size:13px;font-family:'DejaVu Sans', 'Noto Sans CJK JP', sans-serif;" >03/10</text><text x="670" y="20" fill="#eded00" style="font-size:13px;font-family:'DejaVu Sans', 'Noto Sans CJK JP', sans-serif;" >23:09</text><text x="723.5" y="20" fill="#48e4f4" style="font-size:13px;font-family:'DejaVu Sans', 'Noto Sans CJK JP', sans-serif;" >前日終値</text><text x="833" y="20" fill="#eded00" style="font-size:13px;font-family:'DejaVu Sans', 'Noto Sans CJK JP', sans-serif;" >54,460</text></svg><text x="898.5" y="566" fill="#f5509e" style="font-size:15px;font-family:'DejaVu Sans', 'Noto Sans CJK JP', sans-serif;" >225先物大阪(中心限月)</text><text x="1206" y="564" fill="#48e4f4" style="font-size:13px;font-family:'DejaVu Sans', 'Noto Sans CJK JP', sans-serif;" >現在値</text><text x="1341.5" y="564" fill="#eded00" style="font-size:13px;font-family:'DejaVu Sans', 'Noto Sans CJK JP', sans-serif;" text-anchor="end" >54,870</text><text x="1451.5" y="564" fill="#f03030" style="font-size:13px;font-family:'DejaVu Sans', 'Noto Sans CJK JP', sans-serif;" text-anchor="end" >+410</text><text x="1552.5" y="564" fill="#f03030" style="font-size:13px;font-family:'DejaVu Sans', 'Noto Sans CJK JP', sans-serif;" text-anchor="end" >+0.75%</text><text x="1567" y="564" fill="#eded00" style="font-size:13px;font-family:'DejaVu Sans', 'Noto Sans CJK JP', sans-serif;" >26/03/11</text><text x="1637" y="564" fill="#eded00" style="font-size:13px;font-family:'DejaVu Sans', 'Noto Sans CJK JP', sans-serif;" >06:00</text><svg x="881" y="569" width="862" height="30" overflow="hidden"><text x="18" y="20" fill="#48e4f4" style="font-size:13px;font-family:'DejaVu Sans', 'Noto Sans CJK JP', sans-serif;" >始値</text><text x="147" y="20" fill="#eded00" style="font-size:13px;font-family:'DejaVu Sans', 'Noto Sans CJK JP', sans-serif;" text-anchor="end" >54,740</text><text x="154" y="20" fill="#eded00" style="font-size:13px;font-family:'DejaVu Sans', 'Noto Sans CJK JP', sans-serif;" >03/10</text><text x="200" y="20" fill="#eded00" style="font-size:13px;font-family:'DejaVu Sans', 'Noto Sans CJK JP', sans-serif;" >17:00</text><text x="253" y="20" fill="#48e4f4" style="font-size:13px;font-family:'DejaVu Sans', 'Noto Sans CJK JP', sans-serif;" >高値</text><text x="382.5" y="20" fill="#eded00" style="font-size:13px;font-family:'DejaVu Sans', 'Noto Sans CJK JP', sans-serif;" text-anchor="end" >55,790</text><text x="388.5" y="20" fill="#eded00" style="font-size:13px;font-family:'DejaVu Sans', 'Noto Sans CJK JP', sans-serif;" >03/11</text><text x="434.5" y="20" fill="#eded00" style="font-size:13px;font-family:'DejaVu Sans', 'Noto Sans CJK JP', sans-serif;" >02:20</text><text x="488.5" y="20" fill="#48e4f4" style="font-size:13px;font-family:'DejaVu Sans', 'Noto Sans CJK JP', sans-serif;" >安値</text><text x="617" y="20" fill="#eded00" style="font-size:13px;font-family:'DejaVu Sans', 'Noto Sans CJK JP', sans-serif;" text-anchor="end" >54,300</text><text x="624" y="20" fill="#eded00" style="font-size:13px;font-family:'DejaVu Sans', 'Noto Sans CJK JP', sans-serif;" >03/10</text><text x="670" y="20" fill="#eded00" style="font-size:13px;font-family:'DejaVu Sans', 'Noto Sans CJK JP', sans-serif;" >23:09</text><text x="723.5" y="20" fill="#48e4f4" style="font-size:13px;font-family:'DejaVu Sans', 'Noto Sans CJK JP', sans-serif;" >前日終値</text><text x="833" y="20" fill="#eded00" style="font-size:13px;font-family:'DejaVu Sans', 'Noto Sans CJK JP', sans-serif;" >54,460</text></svg><rect x="18" y="520" width="20" height="20" rx="1" fill="url(#gtool)"/><g transform="translate(18,520)"><line x1="3.5" y1="16.5" x2="16.5" y2="4" stroke="#e2e2e2" fill="none" stroke-width="1.4"/></g><rect x="45" y="520" width="20" height="20" rx="1" fill="url(#gtool)"/><g transform="translate(45,520)"><g transform="rotate(-45 10 10)"><rect x="2" y="7.3" width="16" height="5.6" fill="#e2e2e2"/><line x1="3.5" y1="7.3" x2="3.5" y2="9.3" stroke="#555" stroke-width="0.6"/><line x1="5.1" y1="7.3" x2="5.1" y2="10.3" stroke="#555" stroke-width="0.6"/><line x1="6.7" y1="7.3" x2="6.7" y2="9.3" stroke="#555" stroke-width="0.6"/><line x1="8.3" y1="7.3" x2="8.3" y2="10.3" stroke="#555" stroke-width="0.6"/><line x1="9.9" y1="7.3" x2="9.9" y2="9.3" stroke="#555" stroke-width="0.6"/><line x1="11.5" y1="7.3" x2="11.5" y2="10.3" stroke="#555" stroke-width="0.6"/><line x1="13.100000000000001" y1="7.3" x2="13.100000000000001" y2="9.3" stroke="#555" stroke-width="0.6"/><line x1="14.700000000000001" y1="7.3" x2="14.700000000000001" y2="10.3" stroke="#555" stroke-width="0.6"/><line x1="16.3" y1="7.3" x2="16.3" y2="9.3" stroke="#555" stroke-width="0.6"/></g></g><rect x="72" y="520" width="20" height="20" rx="1" fill="url(#gtool)"/><g transform="translate(72,520)"><g stroke="#e2e2e2" fill="none" stroke-width="1.3"><line x1="2.5" y1="13" x2="13" y2="2.5"/><line x1="5" y1="15.5" x2="15.5" y2="5"/><line x1="7.5" y1="18" x2="18" y2="7.5"/></g></g><rect x="99" y="520" width="20" height="20" rx="1" fill="url(#gtool)"/><g transform="translate(99,520)"><g stroke="#e2e2e2" fill="none" stroke-width="1.2"><line x1="3" y1="5.5" x2="17" y2="5.5"/><line x1="3" y1="10.5" x2="17" y2="10.5"/><line x1="3" y1="15.5" x2="17" y2="15.5"/></g></g><rect x="126" y="520" width="20" height="20" rx="1" fill="url(#gtool)"/><g transform="translate(126,520)"><g stroke="#e2e2e2" fill="none" stroke-width="1.1"><line x1="3" y1="4.5" x2="17" y2="4.5"/><line x1="3" y1="7.5" x2="17" y2="7.5"/><line x1="3" y1="10.5" x2="17" y2="10.5"/><line x1="3" y1="13.5" x2="17" y2="13.5"/><line x1="3" y1="16.5" x2="17" y2="16.5"/></g></g><rect x="153" y="520" width="20" height="20" rx="1" fill="url(#gtool)"/><g transform="translate(153,520)"><g stroke="#e2e2e2" fill="none" stroke-width="1.1"><path d="M2 15 A8 8 0 0 1 18 15"/><path d="M5 15 A5 5 0 0 1 15 15"/><path d="M8 15 A2.3 2.3 0 0 1 12 15"/><line x1="8" y1="15" x2="17" y2="6"/></g></g><rect x="180" y="520" width="20" height="20" rx="1" fill="url(#gtool)"/><g transform="translate(180,520)"><g stroke="#e2e2e2" fill="none" stroke-width="1.1"><path d="M2.5 2.5 L2.5 17.5 L17.5 17.5"/><line x1="2.5" y1="17.5" x2="10" y2="3"/><line x1="2.5" y1="17.5" x2="17" y2="4"/><line x1="2.5" y1="17.5" x2="17" y2="10.5"/></g></g><rect x="207" y="520" width="20" height="20" rx="1" fill="url(#gtool)"/><g transform="translate(207,520)"><g stroke="#e2e2e2" fill="none" stroke-width="1.1"><line x1="3.5" y1="3" x2="3.5" y2="17"/><line x1="5.7" y1="3" x2="5.7" y2="17"/><line x1="8.5" y1="3" x2="8.5" y2="17"/><line x1="12.5" y1="3" x2="12.5" y2="17"/><line x1="16.5" y1="3" x2="16.5" y2="17"/></g></g><rect x="234" y="520" width="20" height="20" rx="1" fill="url(#gtool)"/><g transform="translate(234,520)"><g stroke="#e2e2e2" fill="none" stroke-width="1.1"><line x1="3" y1="17" x2="10.5" y2="2.5"/><line x1="3" y1="17" x2="17.5" y2="3.5"/><line x1="3" y1="17" x2="17.5" y2="10.5"/></g></g><rect x="261" y="520" width="20" height="20" rx="1" fill="url(#gtool)"/><g transform="translate(261,520)"><path d="M10 3 L17.3 8.3 L14.5 16.8 L5.5 16.8 L2.7 8.3 Z" stroke="#e2e2e2" fill="none" stroke-width="1.1"/></g><rect x="288" y="520" width="20" height="20" rx="1" fill="url(#gtool)"/><g transform="translate(288,520)"><circle cx="10" cy="10" r="6.8" stroke="#e2e2e2" fill="none" stroke-width="1.2"/></g><rect x="315" y="520" width="20" height="20" rx="1" fill="url(#gtool)"/><g transform="translate(315,520)"><rect x="3.5" y="4.5" width="13" height="11" stroke="#e2e2e2" fill="none" stroke-width="1.2"/></g><rect x="342" y="520" width="20" height="20" rx="1" fill="url(#gtool)"/><g transform="translate(342,520)"><line x1="2" y1="9.5" x2="18" y2="9.5" stroke="#e2e2e2" fill="none" stroke-width="1.2"/></g><rect x="369" y="520" width="20" height="20" rx="1" fill="url(#gtool)"/><g transform="translate(369,520)"><line x1="10.5" y1="2" x2="10.5" y2="18" stroke="#e2e2e2" fill="none" stroke-width="1.2"/></g><rect x="396" y="520" width="20" height="20" rx="1" fill="url(#gtool)"/><g transform="translate(396,520)"><text x="10" y="16" text-anchor="middle" fill="#e6e6e6" stroke="#e6e6e6" stroke-width="0.5" transform="translate(10 0) scale(1.15 1) translate(-10 0)" style="font-size:16px;font-family:'DejaVu Sans',sans-serif">A</text></g><rect x="423" y="520" width="20" height="20" rx="1" fill="url(#gtool)"/><g transform="translate(423,520)"><circle cx="10" cy="6.9" r="5" fill="#e6e6e6"/><rect x="7.8" y="4.6" width="0.9" height="2" fill="#555"/><rect x="11.3" y="4.6" width="0.9" height="2" fill="#555"/><path d="M7.2 8 Q10 10.6 12.8 8" stroke="#555" fill="none" stroke-width="1"/><text x="10" y="18" text-anchor="middle" fill="#e6e6e6" style="font-size:5.2px;font-weight:bold;letter-spacing:0.2px;font-family:'DejaVu Sans',sans-serif">ICON</text></g><rect x="450" y="520" width="20" height="20" rx="1" fill="url(#gtool)"/><g transform="translate(450,520)"><g stroke="#7a7a7a" fill="none" stroke-width="1.5"><circle cx="8" cy="7.5" r="4.3" fill="#7a7a7a"/><path d="M16 9 L16 15 L9 15"/><path d="M11 12.5 L8.5 15 L11 17.5"/></g></g><rect x="477" y="520" width="20" height="20" rx="1" fill="url(#gtool)"/><g transform="translate(477,520)"><g stroke="#7a7a7a" fill="none" stroke-width="1.2"><rect x="3" y="4" width="10" height="8"/><rect x="7" y="8" width="10" height="9" fill="#4a4a4a"/><line x1="9" y1="11" x2="15" y2="11"/><line x1="9" y1="13.5" x2="15" y2="13.5"/></g></g><rect x="504" y="520" width="20" height="20" rx="1" fill="url(#gtool)"/><g transform="translate(504,520)"><g stroke="#7a7a7a" fill="none" stroke-width="1.2"><rect x="3" y="3" width="10" height="9"/><path d="M8 18 L8 10 Q8 8.5 9.5 9 L10 12 L10 7 Q11 6 12 7 L12 11 L13 6.5 Q14 6 14.5 7 L14.5 11 L15.5 8 Q16.5 7.5 17 8.5 L16 15 Q15 18 12 18 Z" fill="#7a7a7a"/></g></g><rect x="531" y="520" width="20" height="20" rx="1" fill="url(#gtool)"/><g transform="translate(531,520)"><g transform="rotate(-40 10 10)"><rect x="3" y="6.5" width="14" height="7.5" stroke="#e2e2e2" fill="none" stroke-width="1.3"/><line x1="7.5" y1="6.5" x2="7.5" y2="14" stroke="#e2e2e2" fill="none" stroke-width="1.3"/></g></g><rect x="558" y="520" width="20" height="20" rx="1" fill="url(#gtool)"/><g transform="translate(558,520)"><g transform="rotate(-40 11 11)"><rect x="4" y="8" width="13" height="7" stroke="#e2e2e2" fill="none" stroke-width="1.3"/><line x1="8.5" y1="8" x2="8.5" y2="15" stroke="#e2e2e2" fill="none" stroke-width="1.3"/></g><text x="5" y="8" text-anchor="middle" fill="#e6e6e6" style="font-size:7px;font-weight:bold;font-family:'DejaVu Sans',sans-serif">A</text></g><rect x="585" y="520" width="20" height="20" rx="1" fill="url(#gtool)"/><g transform="translate(585,520)"><path d="M3.6 10.4 L8.6 4.6 A5.3 5.3 0 0 1 16.2 12 L10.2 17.2" stroke="#e2e2e2" stroke-width="2.7" fill="none"/><path d="M3.6 10.4 L5.2 8.6 M10.2 17.2 L12 15.6" stroke="#9a9a9a" stroke-width="2.7" fill="none"/></g><rect x="612" y="520" width="20" height="20" rx="1" fill="#3b5996"/><g transform="translate(612,520)"><rect x="2" y="6" width="7.2" height="5.2" fill="#fff"/><ellipse cx="5.6" cy="8.4" rx="0.6" ry="1.1" fill="#3b5996"/><path d="M3.4 6 L3.4 4.8 A2.2 2.2 0 0 1 7.8 4.8 L7.8 6" stroke="#fff" stroke-width="1.2" fill="none"/><g transform="translate(1.3 -0.6) rotate(-45 10.5 13.6)"><rect x="5.5" y="11.8" width="11" height="3.6" fill="#3b5996" stroke="#fff" stroke-width="1"/><line x1="5.5" y1="13.6" x2="16.5" y2="13.6" stroke="#fff" stroke-width="0.9"/><path d="M5.5 11.8 L2.6 13.6 L5.5 15.4 Z" fill="#fff"/></g></g><rect x="639" y="520" width="20" height="20" rx="1" fill="url(#gtool)"/><g transform="translate(639,520)"><g fill="#777"><circle cx="10" cy="10" r="5.2"/><rect x="9" y="2.8" width="2" height="3" transform="rotate(0 10 10)"/><rect x="9" y="2.8" width="2" height="3" transform="rotate(45 10 10)"/><rect x="9" y="2.8" width="2" height="3" transform="rotate(90 10 10)"/><rect x="9" y="2.8" width="2" height="3" transform="rotate(135 10 10)"/><rect x="9" y="2.8" width="2" height="3" transform="rotate(180 10 10)"/><rect x="9" y="2.8" width="2" height="3" transform="rotate(225 10 10)"/><rect x="9" y="2.8" width="2" height="3" transform="rotate(270 10 10)"/><rect x="9" y="2.8" width="2" height="3" transform="rotate(315 10 10)"/><circle cx="10" cy="10" r="2" fill="#555"/></g></g><rect x="899" y="520" width="20" height="20" rx="1" fill="url(#gtool)"/><g transform="translate(899,520)"><line x1="3.5" y1="16.5" x2="16.5" y2="4" stroke="#e2e2e2" fill="none" stroke-width="1.4"/></g><rect x="926" y="520" width="20" height="20" rx="1" fill="url(#gtool)"/><g transform="translate(926,520)"><g transform="rotate(-45 10 10)"><rect x="2" y="7.3" width="16" height="5.6" fill="#e2e2e2"/><line x1="3.5" y1="7.3" x2="3.5" y2="9.3" stroke="#555" stroke-width="0.6"/><line x1="5.1" y1="7.3" x2="5.1" y2="10.3" stroke="#555" stroke-width="0.6"/><line x1="6.7" y1="7.3" x2="6.7" y2="9.3" stroke="#555" stroke-width="0.6"/><line x1="8.3" y1="7.3" x2="8.3" y2="10.3" stroke="#555" stroke-width="0.6"/><line x1="9.9" y1="7.3" x2="9.9" y2="9.3" stroke="#555" stroke-width="0.6"/><line x1="11.5" y1="7.3" x2="11.5" y2="10.3" stroke="#555" stroke-width="0.6"/><line x1="13.100000000000001" y1="7.3" x2="13.100000000000001" y2="9.3" stroke="#555" stroke-width="0.6"/><line x1="14.700000000000001" y1="7.3" x2="14.700000000000001" y2="10.3" stroke="#555" stroke-width="0.6"/><line x1="16.3" y1="7.3" x2="16.3" y2="9.3" stroke="#555" stroke-width="0.6"/></g></g><rect x="953" y="520" width="20" height="20" rx="1" fill="url(#gtool)"/><g transform="translate(953,520)"><g stroke="#e2e2e2" fill="none" stroke-width="1.3"><line x1="2.5" y1="13" x2="13" y2="2.5"/><line x1="5" y1="15.5" x2="15.5" y2="5"/><line x1="7.5" y1="18" x2="18" y2="7.5"/></g></g><rect x="980" y="520" width="20" height="20" rx="1" fill="url(#gtool)"/><g transform="translate(980,520)"><g stroke="#e2e2e2" fill="none" stroke-width="1.2"><line x1="3" y1="5.5" x2="17" y2="5.5"/><line x1="3" y1="10.5" x2="17" y2="10.5"/><line x1="3" y1="15.5" x2="17" y2="15.5"/></g></g><rect x="1007" y="520" width="20" height="20" rx="1" fill="url(#gtool)"/><g transform="translate(1007,520)"><g stroke="#e2e2e2" fill="none" stroke-width="1.1"><line x1="3" y1="4.5" x2="17" y2="4.5"/><line x1="3" y1="7.5" x2="17" y2="7.5"/><line x1="3" y1="10.5" x2="17" y2="10.5"/><line x1="3" y1="13.5" x2="17" y2="13.5"/><line x1="3" y1="16.5" x2="17" y2="16.5"/></g></g><rect x="1034" y="520" width="20" height="20" rx="1" fill="url(#gtool)"/><g transform="translate(1034,520)"><g stroke="#e2e2e2" fill="none" stroke-width="1.1"><path d="M2 15 A8 8 0 0 1 18 15"/><path d="M5 15 A5 5 0 0 1 15 15"/><path d="M8 15 A2.3 2.3 0 0 1 12 15"/><line x1="8" y1="15" x2="17" y2="6"/></g></g><rect x="1061" y="520" width="20" height="20" rx="1" fill="url(#gtool)"/><g transform="translate(1061,520)"><g stroke="#e2e2e2" fill="none" stroke-width="1.1"><path d="M2.5 2.5 L2.5 17.5 L17.5 17.5"/><line x1="2.5" y1="17.5" x2="10" y2="3"/><line x1="2.5" y1="17.5" x2="17" y2="4"/><line x1="2.5" y1="17.5" x2="17" y2="10.5"/></g></g><rect x="1088" y="520" width="20" height="20" rx="1" fill="url(#gtool)"/><g transform="translate(1088,520)"><g stroke="#e2e2e2" fill="none" stroke-width="1.1"><line x1="3.5" y1="3" x2="3.5" y2="17"/><line x1="5.7" y1="3" x2="5.7" y2="17"/><line x1="8.5" y1="3" x2="8.5" y2="17"/><line x1="12.5" y1="3" x2="12.5" y2="17"/><line x1="16.5" y1="3" x2="16.5" y2="17"/></g></g><rect x="1115" y="520" width="20" height="20" rx="1" fill="url(#gtool)"/><g transform="translate(1115,520)"><g stroke="#e2e2e2" fill="none" stroke-width="1.1"><line x1="3" y1="17" x2="10.5" y2="2.5"/><line x1="3" y1="17" x2="17.5" y2="3.5"/><line x1="3" y1="17" x2="17.5" y2="10.5"/></g></g><rect x="1142" y="520" width="20" height="20" rx="1" fill="url(#gtool)"/><g transform="translate(1142,520)"><path d="M10 3 L17.3 8.3 L14.5 16.8 L5.5 16.8 L2.7 8.3 Z" stroke="#e2e2e2" fill="none" stroke-width="1.1"/></g><rect x="1169" y="520" width="20" height="20" rx="1" fill="url(#gtool)"/><g transform="translate(1169,520)"><circle cx="10" cy="10" r="6.8" stroke="#e2e2e2" fill="none" stroke-width="1.2"/></g><rect x="1196" y="520" width="20" height="20" rx="1" fill="url(#gtool)"/><g transform="translate(1196,520)"><rect x="3.5" y="4.5" width="13" height="11" stroke="#e2e2e2" fill="none" stroke-width="1.2"/></g><rect x="1223" y="520" width="20" height="20" rx="1" fill="url(#gtool)"/><g transform="translate(1223,520)"><line x1="2" y1="9.5" x2="18" y2="9.5" stroke="#e2e2e2" fill="none" stroke-width="1.2"/></g><rect x="1250" y="520" width="20" height="20" rx="1" fill="url(#gtool)"/><g transform="translate(1250,520)"><line x1="10.5" y1="2" x2="10.5" y2="18" stroke="#e2e2e2" fill="none" stroke-width="1.2"/></g><rect x="1277" y="520" width="20" height="20" rx="1" fill="url(#gtool)"/><g transform="translate(1277,520)"><text x="10" y="16" text-anchor="middle" fill="#e6e6e6" stroke="#e6e6e6" stroke-width="0.5" transform="translate(10 0) scale(1.15 1) translate(-10 0)" style="font-size:16px;font-family:'DejaVu Sans',sans-serif">A</text></g><rect x="1304" y="520" width="20" height="20" rx="1" fill="url(#gtool)"/><g transform="translate(1304,520)"><circle cx="10" cy="6.9" r="5" fill="#e6e6e6"/><rect x="7.8" y="4.6" width="0.9" height="2" fill="#555"/><rect x="11.3" y="4.6" width="0.9" height="2" fill="#555"/><path d="M7.2 8 Q10 10.6 12.8 8" stroke="#555" fill="none" stroke-width="1"/><text x="10" y="18" text-anchor="middle" fill="#e6e6e6" style="font-size:5.2px;font-weight:bold;letter-spacing:0.2px;font-family:'DejaVu Sans',sans-serif">ICON</text></g><rect x="1331" y="520" width="20" height="20" rx="1" fill="url(#gtool)"/><g transform="translate(1331,520)"><g stroke="#7a7a7a" fill="none" stroke-width="1.5"><circle cx="8" cy="7.5" r="4.3" fill="#7a7a7a"/><path d="M16 9 L16 15 L9 15"/><path d="M11 12.5 L8.5 15 L11 17.5"/></g></g><rect x="1358" y="520" width="20" height="20" rx="1" fill="url(#gtool)"/><g transform="translate(1358,520)"><g stroke="#7a7a7a" fill="none" stroke-width="1.2"><rect x="3" y="4" width="10" height="8"/><rect x="7" y="8" width="10" height="9" fill="#4a4a4a"/><line x1="9" y1="11" x2="15" y2="11"/><line x1="9" y1="13.5" x2="15" y2="13.5"/></g></g><rect x="1385" y="520" width="20" height="20" rx="1" fill="url(#gtool)"/><g transform="translate(1385,520)"><g stroke="#7a7a7a" fill="none" stroke-width="1.2"><rect x="3" y="3" width="10" height="9"/><path d="M8 18 L8 10 Q8 8.5 9.5 9 L10 12 L10 7 Q11 6 12 7 L12 11 L13 6.5 Q14 6 14.5 7 L14.5 11 L15.5 8 Q16.5 7.5 17 8.5 L16 15 Q15 18 12 18 Z" fill="#7a7a7a"/></g></g><rect x="1412" y="520" width="20" height="20" rx="1" fill="url(#gtool)"/><g transform="translate(1412,520)"><g transform="rotate(-40 10 10)"><rect x="3" y="6.5" width="14" height="7.5" stroke="#e2e2e2" fill="none" stroke-width="1.3"/><line x1="7.5" y1="6.5" x2="7.5" y2="14" stroke="#e2e2e2" fill="none" stroke-width="1.3"/></g></g><rect x="1439" y="520" width="20" height="20" rx="1" fill="url(#gtool)"/><g transform="translate(1439,520)"><g transform="rotate(-40 11 11)"><rect x="4" y="8" width="13" height="7" stroke="#e2e2e2" fill="none" stroke-width="1.3"/><line x1="8.5" y1="8" x2="8.5" y2="15" stroke="#e2e2e2" fill="none" stroke-width="1.3"/></g><text x="5" y="8" text-anchor="middle" fill="#e6e6e6" style="font-size:7px;font-weight:bold;font-family:'DejaVu Sans',sans-serif">A</text></g><rect x="1466" y="520" width="20" height="20" rx="1" fill="url(#gtool)"/><g transform="translate(1466,520)"><path d="M3.6 10.4 L8.6 4.6 A5.3 5.3 0 0 1 16.2 12 L10.2 17.2" stroke="#e2e2e2" stroke-width="2.7" fill="none"/><path d="M3.6 10.4 L5.2 8.6 M10.2 17.2 L12 15.6" stroke="#9a9a9a" stroke-width="2.7" fill="none"/></g><rect x="1493" y="520" width="20" height="20" rx="1" fill="url(#gtool)"/><g transform="translate(1493,520)"><rect x="2" y="6" width="7.2" height="5.2" fill="#fff"/><ellipse cx="5.6" cy="8.4" rx="0.6" ry="1.1" fill="#555"/><path d="M3.4 6 L3.4 4.8 A2.2 2.2 0 0 1 7.8 4.8 L7.8 6" stroke="#fff" stroke-width="1.2" fill="none"/><g transform="translate(1.3 -0.6) rotate(-45 10.5 13.6)"><rect x="5.5" y="11.8" width="11" height="3.6" fill="#555" stroke="#fff" stroke-width="1"/><line x1="5.5" y1="13.6" x2="16.5" y2="13.6" stroke="#fff" stroke-width="0.9"/><path d="M5.5 11.8 L2.6 13.6 L5.5 15.4 Z" fill="#fff"/></g></g><rect x="1520" y="520" width="20" height="20" rx="1" fill="url(#gtool)"/><g transform="translate(1520,520)"><g fill="#777"><circle cx="10" cy="10" r="5.2"/><rect x="9" y="2.8" width="2" height="3" transform="rotate(0 10 10)"/><rect x="9" y="2.8" width="2" height="3" transform="rotate(45 10 10)"/><rect x="9" y="2.8" width="2" height="3" transform="rotate(90 10 10)"/><rect x="9" y="2.8" width="2" height="3" transform="rotate(135 10 10)"/><rect x="9" y="2.8" width="2" height="3" transform="rotate(180 10 10)"/><rect x="9" y="2.8" width="2" height="3" transform="rotate(225 10 10)"/><rect x="9" y="2.8" width="2" height="3" transform="rotate(270 10 10)"/><rect x="9" y="2.8" width="2" height="3" transform="rotate(315 10 10)"/><circle cx="10" cy="10" r="2" fill="#555"/></g></g><svg x="5" y="0" width="868" height="416" overflow="hidden"><rect x="7" y="135" width="789" height="1" fill="#434753" /><rect x="7" y="195" width="789" height="1" fill="#434753" /><rect x="7" y="255" width="789" height="1" fill="#434753" /><rect x="7" y="315" width="789" height="1" fill="#434753" /><rect x="7" y="374" width="789" height="1" fill="#434753" /><rect x="25" y="112" width="1" height="270" fill="#434753" /><rect x="147" y="112" width="1" height="270" fill="#434753" /><rect x="280" y="112" width="1" height="270" fill="#434753" /><rect x="389" y="112" width="1" height="270" fill="#434753" /><rect x="523" y="112" width="1" height="270" fill="#434753" /><rect x="638" y="112" width="1" height="270" fill="#434753" /><rect x="748" y="112" width="1" height="270" fill="#434753" /><text x="24" y="395" fill="#b0b0b0" style="font-size:13px;font-family:'DejaVu Sans', 'Noto Sans CJK JP', sans-serif;" text-anchor="middle" >2025/09</text><text x="146" y="395" fill="#b0b0b0" style="font-size:13px;font-family:'DejaVu Sans', 'Noto Sans CJK JP', sans-serif;" text-anchor="middle" >2025/10</text><text x="279" y="395" fill="#b0b0b0" style="font-size:13px;font-family:'DejaVu Sans', 'Noto Sans CJK JP', sans-serif;" text-anchor="middle" >2025/11</text><text x="388" y="395" fill="#b0b0b0" style="font-size:13px;font-family:'DejaVu Sans', 'Noto Sans CJK JP', sans-serif;" text-anchor="middle" >2025/12</text><text x="522" y="395" fill="#b0b0b0" style="font-size:13px;font-family:'DejaVu Sans', 'Noto Sans CJK JP', sans-serif;" text-anchor="middle" >2026/01</text><text x="637" y="395" fill="#b0b0b0" style="font-size:13px;font-family:'DejaVu Sans', 'Noto Sans CJK JP', sans-serif;" text-anchor="middle" >2026/02</text><text x="747" y="395" fill="#b0b0b0" style="font-size:13px;font-family:'DejaVu Sans', 'Noto Sans CJK JP', sans-serif;" text-anchor="middle" >2026/03</text><text x="797" y="141" fill="#b0b0b0" style="font-size:13px;font-family:'DejaVu Sans', 'Noto Sans CJK JP', sans-serif;" >60,000</text><text x="797" y="201" fill="#b0b0b0" style="font-size:13px;font-family:'DejaVu Sans', 'Noto Sans CJK JP', sans-serif;" >55,000</text><text x="797" y="261" fill="#b0b0b0" style="font-size:13px;font-family:'DejaVu Sans', 'Noto Sans CJK JP', sans-serif;" >50,000</text><text x="797" y="321" fill="#b0b0b0" style="font-size:13px;font-family:'DejaVu Sans', 'Noto Sans CJK JP', sans-serif;" >45,000</text><text x="797" y="380" fill="#b0b0b0" style="font-size:13px;font-family:'DejaVu Sans', 'Noto Sans CJK JP', sans-serif;" >40,000</text><rect x="795" y="150" width="5" height="1" fill="#434753" /><rect x="795" y="165" width="9" height="1" fill="#434753" /><rect x="795" y="180" width="5" height="1" fill="#434753" /><rect x="795" y="210" width="5" height="1" fill="#434753" /><rect x="795" y="225" width="9" height="1" fill="#434753" /><rect x="795" y="240" width="5" height="1" fill="#434753" /><rect x="795" y="269" width="5" height="1" fill="#434753" /><rect x="795" y="284" width="9" height="1" fill="#434753" /><rect x="795" y="299" width="5" height="1" fill="#434753" /><rect x="795" y="329" width="5" height="1" fill="#434753" /><rect x="795" y="344" width="9" height="1" fill="#434753" /><rect x="795" y="359" width="5" height="1" fill="#434753" /></svg><rect x="893" y="159" width="789" height="1" fill="#434753" /><rect x="893" y="205" width="789" height="1" fill="#434753" /><rect x="893" y="251" width="789" height="1" fill="#434753" /><rect x="893" y="297" width="789" height="1" fill="#434753" /><rect x="893" y="343" width="789" height="1" fill="#434753" /><rect x="1010" y="142" width="1" height="240" fill="#434753" /><rect x="1290" y="142" width="1" height="240" fill="#434753" /><rect x="1570" y="142" width="1" height="240" fill="#434753" /><text x="1009" y="395" fill="#b0b0b0" style="font-size:13px;font-family:'DejaVu Sans', 'Noto Sans CJK JP', sans-serif;" text-anchor="middle" >02/23</text><text x="1289" y="395" fill="#b0b0b0" style="font-size:13px;font-family:'DejaVu Sans', 'Noto Sans CJK JP', sans-serif;" text-anchor="middle" >03/02</text><text x="1569" y="395" fill="#b0b0b0" style="font-size:13px;font-family:'DejaVu Sans', 'Noto Sans CJK JP', sans-serif;" text-anchor="middle" >03/09</text><text x="1683" y="165" fill="#b0b0b0" style="font-size:13px;font-family:'DejaVu Sans', 'Noto Sans CJK JP', sans-serif;" >60,000</text><text x="1683" y="211" fill="#b0b0b0" style="font-size:13px;font-family:'DejaVu Sans', 'Noto Sans CJK JP', sans-serif;" >58,000</text><text x="1683" y="257" fill="#b0b0b0" style="font-size:13px;font-family:'DejaVu Sans', 'Noto Sans CJK JP', sans-serif;" >56,000</text><text x="1683" y="303" fill="#b0b0b0" style="font-size:13px;font-family:'DejaVu Sans', 'Noto Sans CJK JP', sans-serif;" >54,000</text><text x="1683" y="349" fill="#b0b0b0" style="font-size:13px;font-family:'DejaVu Sans', 'Noto Sans CJK JP', sans-serif;" >52,000</text><rect x="1681" y="170" width="5" height="1" fill="#434753" /><rect x="1681" y="182" width="9" height="1" fill="#434753" /><rect x="1681" y="194" width="5" height="1" fill="#434753" /><rect x="1681" y="216" width="5" height="1" fill="#434753" /><rect x="1681" y="228" width="9" height="1" fill="#434753" /><rect x="1681" y="240" width="5" height="1" fill="#434753" /><rect x="1681" y="262" width="5" height="1" fill="#434753" /><rect x="1681" y="274" width="9" height="1" fill="#434753" /><rect x="1681" y="286" width="5" height="1" fill="#434753" /><rect x="1681" y="308" width="5" height="1" fill="#434753" /><rect x="1681" y="320" width="9" height="1" fill="#434753" /><rect x="1681" y="332" width="5" height="1" fill="#434753" /><rect x="1681" y="354" width="5" height="1" fill="#434753" /><rect x="1681" y="366" width="9" height="1" fill="#434753" /><rect x="1681" y="378" width="5" height="1" fill="#434753" /><rect x="12" y="613" width="789" height="1" fill="#434753" /><rect x="12" y="654" width="789" height="1" fill="#434753" /><rect x="12" y="695" width="789" height="1" fill="#434753" /><rect x="12" y="736" width="789" height="1" fill="#434753" /><rect x="12" y="776" width="789" height="1" fill="#434753" /><rect x="99" y="598" width="1" height="213" fill="#434753" /><rect x="229" y="598" width="1" height="213" fill="#434753" /><rect x="359" y="598" width="1" height="213" fill="#434753" /><rect x="489" y="598" width="1" height="213" fill="#434753" /><rect x="619" y="598" width="1" height="213" fill="#434753" /><rect x="749" y="598" width="1" height="213" fill="#434753" /><text x="98" y="824" fill="#b0b0b0" style="font-size:13px;font-family:'DejaVu Sans', 'Noto Sans CJK JP', sans-serif;" text-anchor="middle" >02/02</text><text x="228" y="824" fill="#b0b0b0" style="font-size:13px;font-family:'DejaVu Sans', 'Noto Sans CJK JP', sans-serif;" text-anchor="middle" >02/09</text><text x="358" y="824" fill="#b0b0b0" style="font-size:13px;font-family:'DejaVu Sans', 'Noto Sans CJK JP', sans-serif;" text-anchor="middle" >02/16</text><text x="488" y="824" fill="#b0b0b0" style="font-size:13px;font-family:'DejaVu Sans', 'Noto Sans CJK JP', sans-serif;" text-anchor="middle" >02/23</text><text x="618" y="824" fill="#b0b0b0" style="font-size:13px;font-family:'DejaVu Sans', 'Noto Sans CJK JP', sans-serif;" text-anchor="middle" >03/02</text><text x="748" y="824" fill="#b0b0b0" style="font-size:13px;font-family:'DejaVu Sans', 'Noto Sans CJK JP', sans-serif;" text-anchor="middle" >03/09</text><text x="802" y="619" fill="#b0b0b0" style="font-size:13px;font-family:'DejaVu Sans', 'Noto Sans CJK JP', sans-serif;" >60,000</text><text x="802" y="660" fill="#b0b0b0" style="font-size:13px;font-family:'DejaVu Sans', 'Noto Sans CJK JP', sans-serif;" >58,000</text><text x="802" y="701" fill="#b0b0b0" style="font-size:13px;font-family:'DejaVu Sans', 'Noto Sans CJK JP', sans-serif;" >56,000</text><text x="802" y="742" fill="#b0b0b0" style="font-size:13px;font-family:'DejaVu Sans', 'Noto Sans CJK JP', sans-serif;" >54,000</text><text x="802" y="782" fill="#b0b0b0" style="font-size:13px;font-family:'DejaVu Sans', 'Noto Sans CJK JP', sans-serif;" >52,000</text><rect x="800" y="623" width="5" height="1" fill="#434753" /><rect x="800" y="633" width="9" height="1" fill="#434753" /><rect x="800" y="644" width="5" height="1" fill="#434753" /><rect x="800" y="664" width="5" height="1" fill="#434753" /><rect x="800" y="674" width="9" height="1" fill="#434753" /><rect x="800" y="684" width="5" height="1" fill="#434753" /><rect x="800" y="705" width="5" height="1" fill="#434753" /><rect x="800" y="715" width="9" height="1" fill="#434753" /><rect x="800" y="725" width="5" height="1" fill="#434753" /><rect x="800" y="746" width="5" height="1" fill="#434753" /><rect x="800" y="756" width="9" height="1" fill="#434753" /><rect x="800" y="766" width="5" height="1" fill="#434753" /><rect x="800" y="787" width="5" height="1" fill="#434753" /><rect x="800" y="797" width="9" height="1" fill="#434753" /><rect x="800" y="807" width="5" height="1" fill="#434753" /><rect x="335" y="598" width="2" height="213" fill="#0b6a5c" /><rect x="893" y="608" width="789" height="1" fill="#434753" /><rect x="893" y="635" width="789" height="1" fill="#434753" /><rect x="893" y="663" width="789" height="1" fill="#434753" /><rect x="893" y="690" width="789" height="1" fill="#434753" /><rect x="893" y="718" width="789" height="1" fill="#434753" /><rect x="893" y="745" width="789" height="1" fill="#434753" /><rect x="893" y="773" width="789" height="1" fill="#434753" /><rect x="893" y="801" width="789" height="1" fill="#434753" /><rect x="935" y="598" width="1" height="213" fill="#434753" /><rect x="1033" y="598" width="1" height="213" fill="#434753" /><rect x="1130" y="598" width="1" height="213" fill="#434753" /><rect x="1184" y="598" width="1" height="213" fill="#434753" /><rect x="1263" y="598" width="1" height="213" fill="#434753" /><rect x="1433" y="598" width="1" height="213" fill="#434753" /><rect x="1530" y="598" width="1" height="213" fill="#434753" /><rect x="1628" y="598" width="1" height="213" fill="#434753" /><text x="934" y="824" fill="#b0b0b0" style="font-size:13px;font-family:'DejaVu Sans', 'Noto Sans CJK JP', sans-serif;" text-anchor="middle" >20:00</text><text x="1032" y="824" fill="#b0b0b0" style="font-size:13px;font-family:'DejaVu Sans', 'Noto Sans CJK JP', sans-serif;" text-anchor="middle" >00:00</text><text x="1129" y="824" fill="#b0b0b0" style="font-size:13px;font-family:'DejaVu Sans', 'Noto Sans CJK JP', sans-serif;" text-anchor="middle" >04:00</text><text x="1183" y="824" fill="#b0b0b0" style="font-size:13px;font-family:'DejaVu Sans', 'Noto Sans CJK JP', sans-serif;" text-anchor="middle" >08:45</text><text x="1262" y="824" fill="#b0b0b0" style="font-size:13px;font-family:'DejaVu Sans', 'Noto Sans CJK JP', sans-serif;" text-anchor="middle" >12:00</text><text x="1432" y="824" fill="#b0b0b0" style="font-size:13px;font-family:'DejaVu Sans', 'Noto Sans CJK JP', sans-serif;" text-anchor="middle" >20:00</text><text x="1529" y="824" fill="#b0b0b0" style="font-size:13px;font-family:'DejaVu Sans', 'Noto Sans CJK JP', sans-serif;" text-anchor="middle" >00:00</text><text x="1627" y="824" fill="#b0b0b0" style="font-size:13px;font-family:'DejaVu Sans', 'Noto Sans CJK JP', sans-serif;" text-anchor="middle" >04:00</text><text x="1683" y="614" fill="#b0b0b0" style="font-size:13px;font-family:'DejaVu Sans', 'Noto Sans CJK JP', sans-serif;" >56,000</text><text x="1683" y="641" fill="#b0b0b0" style="font-size:13px;font-family:'DejaVu Sans', 'Noto Sans CJK JP', sans-serif;" >55,500</text><text x="1683" y="669" fill="#b0b0b0" style="font-size:13px;font-family:'DejaVu Sans', 'Noto Sans CJK JP', sans-serif;" >55,000</text><text x="1683" y="696" fill="#b0b0b0" style="font-size:13px;font-family:'DejaVu Sans', 'Noto Sans CJK JP', sans-serif;" >54,500</text><text x="1683" y="724" fill="#b0b0b0" style="font-size:13px;font-family:'DejaVu Sans', 'Noto Sans CJK JP', sans-serif;" >54,000</text><text x="1683" y="751" fill="#b0b0b0" style="font-size:13px;font-family:'DejaVu Sans', 'Noto Sans CJK JP', sans-serif;" >53,500</text><text x="1683" y="779" fill="#b0b0b0" style="font-size:13px;font-family:'DejaVu Sans', 'Noto Sans CJK JP', sans-serif;" >53,000</text><text x="1683" y="807" fill="#b0b0b0" style="font-size:13px;font-family:'DejaVu Sans', 'Noto Sans CJK JP', sans-serif;" >52,500</text><rect x="1681" y="614" width="5" height="1" fill="#434753" /><rect x="1681" y="621" width="9" height="1" fill="#434753" /><rect x="1681" y="628" width="5" height="1" fill="#434753" /><rect x="1681" y="642" width="5" height="1" fill="#434753" /><rect x="1681" y="649" width="9" height="1" fill="#434753" /><rect x="1681" y="656" width="5" height="1" fill="#434753" /><rect x="1681" y="670" width="5" height="1" fill="#434753" /><rect x="1681" y="676" width="9" height="1" fill="#434753" /><rect x="1681" y="683" width="5" height="1" fill="#434753" /><rect x="1681" y="697" width="5" height="1" fill="#434753" /><rect x="1681" y="704" width="9" height="1" fill="#434753" /><rect x="1681" y="711" width="5" height="1" fill="#434753" /><rect x="1681" y="725" width="5" height="1" fill="#434753" /><rect x="1681" y="732" width="9" height="1" fill="#434753" /><rect x="1681" y="738" width="5" height="1" fill="#434753" /><rect x="1681" y="752" width="5" height="1" fill="#434753" /><rect x="1681" y="759" width="9" height="1" fill="#434753" /><rect x="1681" y="766" width="5" height="1" fill="#434753" /><rect x="1681" y="780" width="5" height="1" fill="#434753" /><rect x="1681" y="787" width="9" height="1" fill="#434753" /><rect x="1681" y="794" width="5" height="1" fill="#434753" /><rect x="15" y="344" width="1" height="4" fill="#b4b4b4"/><rect x="12" y="345" width="6" height="3" fill="#ffffff"/><rect x="21" y="340" width="1" height="8" fill="#b4b4b4"/><rect x="18" y="340" width="6" height="6" fill="#ffffff"/><rect x="27" y="338" width="1" height="6" fill="#52a6cc"/><rect x="24" y="339" width="6" height="4" fill="#6ec6ea"/><rect x="33" y="343" width="1" height="11" fill="#52a6cc"/><rect x="30" y="343" width="6" height="5" fill="#6ec6ea"/><rect x="39" y="345" width="1" height="5" fill="#b4b4b4"/><rect x="36" y="346" width="6" height="2" fill="#ffffff"/><rect x="45" y="347" width="1" height="8" fill="#52a6cc"/><rect x="42" y="349" width="6" height="2" fill="#6ec6ea"/><rect x="51" y="343" width="1" height="9" fill="#b4b4b4"/><rect x="48" y="343" width="6" height="8" fill="#ffffff"/><rect x="57" y="336" width="1" height="9" fill="#b4b4b4"/><rect x="54" y="338" width="7" height="6" fill="#ffffff"/><rect x="64" y="329" width="1" height="15" fill="#b4b4b4"/><rect x="61" y="331" width="6" height="8" fill="#ffffff"/><rect x="70" y="324" width="1" height="10" fill="#52a6cc"/><rect x="67" y="331" width="6" height="2" fill="#6ec6ea"/><rect x="76" y="329" width="1" height="9" fill="#b4b4b4"/><rect x="73" y="329" width="6" height="4" fill="#ffffff"/><rect x="82" y="322" width="1" height="9" fill="#b4b4b4"/><rect x="79" y="322" width="6" height="7" fill="#ffffff"/><rect x="88" y="318" width="1" height="6" fill="#b4b4b4"/><rect x="85" y="321" width="6" height="3" fill="#ffffff"/><rect x="94" y="317" width="1" height="6" fill="#b4b4b4"/><rect x="91" y="319" width="6" height="3" fill="#ffffff"/><rect x="100" y="317" width="1" height="6" fill="#b4b4b4"/><rect x="97" y="319" width="6" height="1" fill="#ffffff"/><rect x="106" y="312" width="1" height="11" fill="#b4b4b4"/><rect x="103" y="312" width="6" height="8" fill="#ffffff"/><rect x="112" y="306" width="1" height="18" fill="#52a6cc"/><rect x="109" y="312" width="6" height="7" fill="#6ec6ea"/><rect x="118" y="308" width="1" height="10" fill="#b4b4b4"/><rect x="115" y="311" width="6" height="7" fill="#ffffff"/><rect x="124" y="307" width="1" height="9" fill="#b4b4b4"/><rect x="121" y="310" width="6" height="2" fill="#ffffff"/><rect x="130" y="308" width="1" height="4" fill="#52a6cc"/><rect x="127" y="309" width="6" height="1" fill="#6ec6ea"/><rect x="136" y="309" width="1" height="6" fill="#52a6cc"/><rect x="133" y="309" width="6" height="6" fill="#6ec6ea"/><rect x="142" y="312" width="1" height="5" fill="#52a6cc"/><rect x="139" y="314" width="7" height="1" fill="#6ec6ea"/><rect x="149" y="312" width="1" height="6" fill="#52a6cc"/><rect x="146" y="314" width="6" height="2" fill="#6ec6ea"/><rect x="155" y="315" width="1" height="7" fill="#52a6cc"/><rect x="152" y="317" width="6" height="4" fill="#6ec6ea"/><rect x="161" y="313" width="1" height="10" fill="#b4b4b4"/><rect x="158" y="314" width="6" height="9" fill="#ffffff"/><rect x="167" y="303" width="1" height="13" fill="#b4b4b4"/><rect x="164" y="303" width="6" height="12" fill="#ffffff"/><rect x="173" y="277" width="1" height="28" fill="#b4b4b4"/><rect x="170" y="277" width="6" height="27" fill="#ffffff"/><rect x="179" y="270" width="1" height="11" fill="#52a6cc"/><rect x="176" y="277" width="6" height="4" fill="#6ec6ea"/><rect x="185" y="276" width="1" height="7" fill="#52a6cc"/><rect x="182" y="279" width="6" height="4" fill="#6ec6ea"/><rect x="191" y="269" width="1" height="12" fill="#b4b4b4"/><rect x="188" y="269" width="6" height="11" fill="#ffffff"/><rect x="197" y="268" width="1" height="17" fill="#52a6cc"/><rect x="194" y="270" width="6" height="15" fill="#6ec6ea"/><rect x="203" y="280" width="1" height="34" fill="#52a6cc"/><rect x="200" y="286" width="6" height="8" fill="#6ec6ea"/><rect x="209" y="281" width="1" height="17" fill="#b4b4b4"/><rect x="206" y="281" width="6" height="15" fill="#ffffff"/><rect x="215" y="274" width="1" height="10" fill="#b4b4b4"/><rect x="212" y="274" width="6" height="7" fill="#ffffff"/><rect x="221" y="272" width="1" height="14" fill="#52a6cc"/><rect x="218" y="273" width="6" height="12" fill="#6ec6ea"/><rect x="227" y="263" width="1" height="27" fill="#b4b4b4"/><rect x="224" y="263" width="6" height="27" fill="#ffffff"/><rect x="233" y="255" width="1" height="12" fill="#52a6cc"/><rect x="230" y="263" width="7" height="3" fill="#6ec6ea"/><rect x="240" y="255" width="1" height="16" fill="#b4b4b4"/><rect x="237" y="264" width="6" height="1" fill="#ffffff"/><rect x="246" y="263" width="1" height="12" fill="#52a6cc"/><rect x="243" y="263" width="6" height="9" fill="#6ec6ea"/><rect x="252" y="261" width="1" height="12" fill="#b4b4b4"/><rect x="249" y="263" width="6" height="8" fill="#ffffff"/><rect x="258" y="248" width="1" height="18" fill="#b4b4b4"/><rect x="255" y="248" width="6" height="17" fill="#ffffff"/><rect x="264" y="247" width="1" height="7" fill="#52a6cc"/><rect x="261" y="248" width="6" height="2" fill="#6ec6ea"/><rect x="270" y="237" width="1" height="15" fill="#b4b4b4"/><rect x="267" y="239" width="6" height="12" fill="#ffffff"/><rect x="276" y="235" width="1" height="11" fill="#b4b4b4"/><rect x="273" y="238" width="6" height="1" fill="#ffffff"/><rect x="282" y="225" width="1" height="15" fill="#b4b4b4"/><rect x="279" y="225" width="6" height="12" fill="#ffffff"/><rect x="288" y="223" width="1" height="15" fill="#52a6cc"/><rect x="285" y="224" width="6" height="14" fill="#6ec6ea"/><rect x="294" y="236" width="1" height="30" fill="#52a6cc"/><rect x="291" y="236" width="6" height="13" fill="#6ec6ea"/><rect x="300" y="239" width="1" height="13" fill="#b4b4b4"/><rect x="297" y="245" width="6" height="5" fill="#ffffff"/><rect x="306" y="243" width="1" height="17" fill="#52a6cc"/><rect x="303" y="246" width="6" height="6" fill="#6ec6ea"/><rect x="312" y="242" width="1" height="19" fill="#b4b4b4"/><rect x="309" y="242" width="6" height="9" fill="#ffffff"/><rect x="318" y="237" width="1" height="12" fill="#b4b4b4"/><rect x="315" y="241" width="7" height="2" fill="#ffffff"/><rect x="325" y="241" width="1" height="8" fill="#b4b4b4"/><rect x="322" y="242" width="6" height="1" fill="#ffffff"/><rect x="331" y="238" width="1" height="6" fill="#b4b4b4"/><rect x="328" y="240" width="6" height="1" fill="#ffffff"/><rect x="337" y="240" width="1" height="16" fill="#52a6cc"/><rect x="334" y="240" width="6" height="12" fill="#6ec6ea"/><rect x="343" y="246" width="1" height="13" fill="#b4b4b4"/><rect x="340" y="252" width="6" height="1" fill="#ffffff"/><rect x="349" y="249" width="1" height="25" fill="#52a6cc"/><rect x="346" y="251" width="6" height="23" fill="#6ec6ea"/><rect x="355" y="265" width="1" height="11" fill="#b4b4b4"/><rect x="352" y="271" width="6" height="2" fill="#ffffff"/><rect x="361" y="248" width="1" height="24" fill="#b4b4b4"/><rect x="358" y="256" width="6" height="15" fill="#ffffff"/><rect x="367" y="252" width="1" height="24" fill="#52a6cc"/><rect x="364" y="257" width="6" height="13" fill="#6ec6ea"/><rect x="373" y="258" width="1" height="21" fill="#b4b4b4"/><rect x="370" y="272" width="6" height="3" fill="#ffffff"/><rect x="379" y="258" width="1" height="18" fill="#b4b4b4"/><rect x="376" y="259" width="6" height="13" fill="#ffffff"/><rect x="385" y="251" width="1" height="12" fill="#b4b4b4"/><rect x="382" y="253" width="6" height="6" fill="#ffffff"/><rect x="391" y="253" width="1" height="3" fill="#b4b4b4"/><rect x="388" y="253" width="6" height="1" fill="#ffffff"/><rect x="397" y="251" width="1" height="14" fill="#52a6cc"/><rect x="394" y="252" width="6" height="12" fill="#6ec6ea"/><rect x="403" y="260" width="1" height="7" fill="#b4b4b4"/><rect x="400" y="264" width="7" height="1" fill="#ffffff"/><rect x="410" y="253" width="1" height="11" fill="#b4b4b4"/><rect x="407" y="257" width="6" height="7" fill="#ffffff"/><rect x="416" y="243" width="1" height="21" fill="#b4b4b4"/><rect x="413" y="243" width="6" height="14" fill="#ffffff"/><rect x="422" y="243" width="1" height="10" fill="#52a6cc"/><rect x="419" y="244" width="6" height="6" fill="#6ec6ea"/><rect x="428" y="245" width="1" height="8" fill="#b4b4b4"/><rect x="425" y="248" width="6" height="2" fill="#ffffff"/><rect x="434" y="245" width="1" height="9" fill="#b4b4b4"/><rect x="431" y="245" width="6" height="4" fill="#ffffff"/><rect x="440" y="242" width="1" height="9" fill="#52a6cc"/><rect x="437" y="244" width="6" height="5" fill="#6ec6ea"/><rect x="446" y="244" width="1" height="13" fill="#52a6cc"/><rect x="443" y="248" width="6" height="6" fill="#6ec6ea"/><rect x="452" y="241" width="1" height="12" fill="#b4b4b4"/><rect x="449" y="246" width="6" height="6" fill="#ffffff"/><rect x="458" y="246" width="1" height="13" fill="#52a6cc"/><rect x="455" y="246" width="6" height="7" fill="#6ec6ea"/><rect x="464" y="251" width="1" height="12" fill="#52a6cc"/><rect x="461" y="252" width="6" height="10" fill="#6ec6ea"/><rect x="470" y="257" width="1" height="9" fill="#b4b4b4"/><rect x="467" y="259" width="6" height="3" fill="#ffffff"/><rect x="476" y="258" width="1" height="14" fill="#52a6cc"/><rect x="473" y="258" width="6" height="7" fill="#6ec6ea"/><rect x="482" y="257" width="1" height="9" fill="#b4b4b4"/><rect x="479" y="260" width="6" height="6" fill="#ffffff"/><rect x="488" y="248" width="1" height="11" fill="#b4b4b4"/><rect x="485" y="250" width="6" height="9" fill="#ffffff"/><rect x="494" y="249" width="1" height="5" fill="#52a6cc"/><rect x="491" y="249" width="7" height="1" fill="#6ec6ea"/><rect x="501" y="247" width="1" height="4" fill="#52a6cc"/><rect x="498" y="249" width="6" height="2" fill="#6ec6ea"/><rect x="507" y="249" width="1" height="3" fill="#b4b4b4"/><rect x="504" y="249" width="6" height="2" fill="#ffffff"/><rect x="513" y="243" width="1" height="7" fill="#b4b4b4"/><rect x="510" y="246" width="6" height="3" fill="#ffffff"/><rect x="519" y="246" width="1" height="5" fill="#52a6cc"/><rect x="516" y="246" width="6" height="4" fill="#6ec6ea"/><rect x="525" y="248" width="1" height="4" fill="#b4b4b4"/><rect x="522" y="249" width="6" height="1" fill="#ffffff"/><rect x="531" y="230" width="1" height="21" fill="#b4b4b4"/><rect x="528" y="233" width="6" height="18" fill="#ffffff"/><rect x="537" y="223" width="1" height="11" fill="#b4b4b4"/><rect x="534" y="223" width="6" height="11" fill="#ffffff"/><rect x="543" y="223" width="1" height="10" fill="#52a6cc"/><rect x="540" y="223" width="6" height="9" fill="#6ec6ea"/><rect x="549" y="230" width="1" height="13" fill="#52a6cc"/><rect x="546" y="230" width="6" height="12" fill="#6ec6ea"/><rect x="555" y="230" width="1" height="10" fill="#b4b4b4"/><rect x="552" y="230" width="6" height="10" fill="#ffffff"/><rect x="561" y="205" width="1" height="27" fill="#b4b4b4"/><rect x="558" y="210" width="6" height="22" fill="#ffffff"/><rect x="567" y="201" width="1" height="10" fill="#b4b4b4"/><rect x="564" y="203" width="6" height="8" fill="#ffffff"/><rect x="573" y="200" width="1" height="12" fill="#52a6cc"/><rect x="570" y="202" width="6" height="4" fill="#6ec6ea"/><rect x="579" y="201" width="1" height="10" fill="#52a6cc"/><rect x="576" y="205" width="7" height="2" fill="#6ec6ea"/><rect x="586" y="206" width="1" height="12" fill="#52a6cc"/><rect x="583" y="206" width="6" height="6" fill="#6ec6ea"/><rect x="592" y="211" width="1" height="11" fill="#52a6cc"/><rect x="589" y="213" width="6" height="9" fill="#6ec6ea"/><rect x="598" y="221" width="1" height="13" fill="#b4b4b4"/><rect x="595" y="221" width="6" height="2" fill="#ffffff"/><rect x="604" y="208" width="1" height="19" fill="#b4b4b4"/><rect x="601" y="210" width="6" height="13" fill="#ffffff"/><rect x="610" y="206" width="1" height="6" fill="#52a6cc"/><rect x="607" y="210" width="6" height="2" fill="#6ec6ea"/><rect x="616" y="211" width="1" height="18" fill="#52a6cc"/><rect x="613" y="211" width="6" height="11" fill="#6ec6ea"/><rect x="622" y="215" width="1" height="14" fill="#b4b4b4"/><rect x="619" y="215" width="6" height="5" fill="#ffffff"/><rect x="628" y="210" width="1" height="13" fill="#b4b4b4"/><rect x="625" y="211" width="6" height="5" fill="#ffffff"/><rect x="634" y="206" width="1" height="12" fill="#52a6cc"/><rect x="631" y="210" width="6" height="7" fill="#6ec6ea"/><rect x="640" y="212" width="1" height="15" fill="#52a6cc"/><rect x="637" y="214" width="6" height="1" fill="#6ec6ea"/><rect x="646" y="204" width="1" height="21" fill="#52a6cc"/><rect x="643" y="217" width="6" height="8" fill="#6ec6ea"/><rect x="652" y="198" width="1" height="23" fill="#b4b4b4"/><rect x="649" y="200" width="6" height="21" fill="#ffffff"/><rect x="658" y="199" width="1" height="15" fill="#52a6cc"/><rect x="655" y="199" width="6" height="2" fill="#6ec6ea"/><rect x="664" y="194" width="1" height="17" fill="#52a6cc"/><rect x="661" y="201" width="7" height="7" fill="#6ec6ea"/><rect x="671" y="202" width="1" height="18" fill="#b4b4b4"/><rect x="668" y="202" width="6" height="5" fill="#ffffff"/><rect x="677" y="159" width="1" height="46" fill="#b4b4b4"/><rect x="674" y="183" width="6" height="21" fill="#ffffff"/><rect x="683" y="159" width="1" height="24" fill="#b4b4b4"/><rect x="680" y="164" width="6" height="17" fill="#ffffff"/><rect x="689" y="153" width="1" height="14" fill="#52a6cc"/><rect x="686" y="163" width="6" height="4" fill="#6ec6ea"/><rect x="695" y="162" width="1" height="15" fill="#52a6cc"/><rect x="692" y="165" width="6" height="7" fill="#6ec6ea"/><rect x="701" y="163" width="1" height="11" fill="#52a6cc"/><rect x="698" y="170" width="6" height="4" fill="#6ec6ea"/><rect x="707" y="170" width="1" height="12" fill="#52a6cc"/><rect x="704" y="172" width="6" height="5" fill="#6ec6ea"/><rect x="713" y="167" width="1" height="11" fill="#b4b4b4"/><rect x="710" y="168" width="6" height="8" fill="#ffffff"/><rect x="719" y="163" width="1" height="8" fill="#b4b4b4"/><rect x="716" y="165" width="6" height="3" fill="#ffffff"/><rect x="725" y="165" width="1" height="11" fill="#52a6cc"/><rect x="722" y="165" width="6" height="9" fill="#6ec6ea"/><rect x="731" y="167" width="1" height="11" fill="#b4b4b4"/><rect x="728" y="167" width="6" height="7" fill="#ffffff"/><rect x="737" y="149" width="1" height="19" fill="#b4b4b4"/><rect x="734" y="150" width="6" height="14" fill="#ffffff"/><rect x="743" y="139" width="1" height="14" fill="#b4b4b4"/><rect x="740" y="149" width="6" height="2" fill="#ffffff"/><rect x="749" y="145" width="1" height="13" fill="#b4b4b4"/><rect x="746" y="146" width="7" height="4" fill="#ffffff"/><rect x="756" y="142" width="1" height="26" fill="#52a6cc"/><rect x="753" y="145" width="6" height="15" fill="#6ec6ea"/><rect x="762" y="161" width="1" height="22" fill="#52a6cc"/><rect x="759" y="163" width="6" height="20" fill="#6ec6ea"/><rect x="768" y="187" width="1" height="25" fill="#52a6cc"/><rect x="765" y="187" width="6" height="18" fill="#6ec6ea"/><rect x="774" y="176" width="1" height="24" fill="#b4b4b4"/><rect x="771" y="194" width="6" height="5" fill="#ffffff"/><rect x="780" y="182" width="1" height="27" fill="#b4b4b4"/><rect x="777" y="187" width="6" height="6" fill="#ffffff"/><rect x="786" y="186" width="1" height="53" fill="#52a6cc"/><rect x="783" y="188" width="6" height="37" fill="#6ec6ea"/><rect x="792" y="196" width="1" height="33" fill="#b4b4b4"/><rect x="789" y="202" width="6" height="23" fill="#ffffff"/><rect x="798" y="186" width="1" height="18" fill="#b4b4b4"/><rect x="795" y="197" width="6" height="2" fill="#ffffff"/><rect x="895" y="216" width="1" height="3" fill="#b4b4b4"/><rect x="894" y="217" width="2" height="1" fill="#ffffff"/><rect x="897" y="216" width="1" height="1" fill="#b4b4b4"/><rect x="896" y="217" width="2" height="1" fill="#ffffff"/><rect x="900" y="214" width="1" height="3" fill="#b4b4b4"/><rect x="899" y="215" width="2" height="2" fill="#ffffff"/><rect x="902" y="214" width="1" height="2" fill="#b4b4b4"/><rect x="901" y="214" width="2" height="1" fill="#ffffff"/><rect x="905" y="212" width="1" height="4" fill="#52a6cc"/><rect x="904" y="214" width="2" height="2" fill="#6ec6ea"/><rect x="907" y="215" width="1" height="6" fill="#52a6cc"/><rect x="906" y="216" width="2" height="1" fill="#6ec6ea"/><rect x="910" y="214" width="1" height="4" fill="#b4b4b4"/><rect x="909" y="215" width="2" height="1" fill="#ffffff"/><rect x="912" y="214" width="1" height="3" fill="#52a6cc"/><rect x="911" y="215" width="2" height="2" fill="#6ec6ea"/><rect x="915" y="214" width="1" height="3" fill="#b4b4b4"/><rect x="914" y="215" width="2" height="2" fill="#ffffff"/><rect x="917" y="212" width="1" height="6" fill="#52a6cc"/><rect x="916" y="215" width="2" height="2" fill="#6ec6ea"/><rect x="920" y="216" width="1" height="8" fill="#52a6cc"/><rect x="919" y="217" width="2" height="6" fill="#6ec6ea"/><rect x="922" y="223" width="1" height="2" fill="#52a6cc"/><rect x="921" y="223" width="2" height="1" fill="#6ec6ea"/><rect x="925" y="222" width="1" height="6" fill="#52a6cc"/><rect x="924" y="224" width="2" height="2" fill="#6ec6ea"/><rect x="928" y="224" width="1" height="7" fill="#52a6cc"/><rect x="927" y="226" width="2" height="3" fill="#6ec6ea"/><rect x="930" y="227" width="1" height="2" fill="#b4b4b4"/><rect x="929" y="228" width="2" height="1" fill="#ffffff"/><rect x="933" y="227" width="1" height="2" fill="#b4b4b4"/><rect x="932" y="227" width="2" height="1" fill="#ffffff"/><rect x="935" y="226" width="1" height="4" fill="#52a6cc"/><rect x="934" y="227" width="2" height="2" fill="#6ec6ea"/><rect x="938" y="228" width="1" height="4" fill="#52a6cc"/><rect x="937" y="229" width="2" height="1" fill="#6ec6ea"/><rect x="940" y="228" width="1" height="3" fill="#b4b4b4"/><rect x="939" y="228" width="2" height="2" fill="#ffffff"/><rect x="943" y="228" width="1" height="8" fill="#52a6cc"/><rect x="942" y="228" width="2" height="5" fill="#6ec6ea"/><rect x="945" y="230" width="1" height="4" fill="#b4b4b4"/><rect x="944" y="231" width="2" height="2" fill="#ffffff"/><rect x="948" y="229" width="1" height="3" fill="#b4b4b4"/><rect x="947" y="230" width="2" height="1" fill="#ffffff"/><rect x="950" y="227" width="1" height="4" fill="#b4b4b4"/><rect x="949" y="228" width="2" height="2" fill="#ffffff"/><rect x="953" y="225" width="1" height="4" fill="#b4b4b4"/><rect x="952" y="226" width="2" height="2" fill="#ffffff"/><rect x="956" y="225" width="1" height="2" fill="#52a6cc"/><rect x="955" y="226" width="2" height="1" fill="#6ec6ea"/><rect x="958" y="226" width="1" height="8" fill="#52a6cc"/><rect x="957" y="227" width="2" height="6" fill="#6ec6ea"/><rect x="961" y="233" width="1" height="4" fill="#52a6cc"/><rect x="960" y="233" width="2" height="4" fill="#6ec6ea"/><rect x="963" y="233" width="1" height="9" fill="#b4b4b4"/><rect x="962" y="233" width="2" height="4" fill="#ffffff"/><rect x="966" y="231" width="1" height="3" fill="#b4b4b4"/><rect x="965" y="232" width="2" height="1" fill="#ffffff"/><rect x="968" y="232" width="1" height="2" fill="#52a6cc"/><rect x="967" y="232" width="2" height="1" fill="#6ec6ea"/><rect x="971" y="232" width="1" height="2" fill="#52a6cc"/><rect x="970" y="233" width="2" height="1" fill="#6ec6ea"/><rect x="973" y="230" width="1" height="3" fill="#b4b4b4"/><rect x="972" y="231" width="2" height="2" fill="#ffffff"/><rect x="976" y="230" width="1" height="2" fill="#52a6cc"/><rect x="975" y="231" width="2" height="1" fill="#6ec6ea"/><rect x="978" y="230" width="1" height="1" fill="#52a6cc"/><rect x="977" y="231" width="2" height="1" fill="#6ec6ea"/><rect x="981" y="230" width="1" height="2" fill="#b4b4b4"/><rect x="980" y="230" width="2" height="1" fill="#ffffff"/><rect x="984" y="229" width="1" height="3" fill="#52a6cc"/><rect x="983" y="230" width="2" height="1" fill="#6ec6ea"/><rect x="986" y="230" width="1" height="5" fill="#52a6cc"/><rect x="985" y="231" width="2" height="3" fill="#6ec6ea"/><rect x="989" y="233" width="1" height="2" fill="#b4b4b4"/><rect x="988" y="234" width="2" height="1" fill="#ffffff"/><rect x="991" y="229" width="1" height="5" fill="#b4b4b4"/><rect x="990" y="229" width="2" height="5" fill="#ffffff"/><rect x="994" y="225" width="1" height="4" fill="#b4b4b4"/><rect x="993" y="227" width="2" height="2" fill="#ffffff"/><rect x="996" y="224" width="1" height="5" fill="#b4b4b4"/><rect x="995" y="225" width="2" height="2" fill="#ffffff"/><rect x="999" y="224" width="1" height="1" fill="#b4b4b4"/><rect x="998" y="225" width="2" height="1" fill="#ffffff"/><rect x="1001" y="224" width="1" height="4" fill="#52a6cc"/><rect x="1000" y="225" width="2" height="2" fill="#6ec6ea"/><rect x="1004" y="222" width="1" height="5" fill="#b4b4b4"/><rect x="1003" y="224" width="2" height="3" fill="#ffffff"/><rect x="1006" y="221" width="1" height="7" fill="#52a6cc"/><rect x="1005" y="224" width="2" height="2" fill="#6ec6ea"/><rect x="1009" y="225" width="1" height="4" fill="#52a6cc"/><rect x="1008" y="226" width="2" height="2" fill="#6ec6ea"/><rect x="1012" y="228" width="1" height="5" fill="#52a6cc"/><rect x="1011" y="228" width="2" height="3" fill="#6ec6ea"/><rect x="1014" y="231" width="1" height="8" fill="#52a6cc"/><rect x="1013" y="231" width="2" height="7" fill="#6ec6ea"/><rect x="1017" y="238" width="1" height="1" fill="#52a6cc"/><rect x="1016" y="238" width="2" height="1" fill="#6ec6ea"/><rect x="1019" y="235" width="1" height="6" fill="#b4b4b4"/><rect x="1018" y="237" width="2" height="2" fill="#ffffff"/><rect x="1022" y="234" width="1" height="3" fill="#b4b4b4"/><rect x="1021" y="236" width="2" height="1" fill="#ffffff"/><rect x="1024" y="235" width="1" height="3" fill="#52a6cc"/><rect x="1023" y="236" width="2" height="1" fill="#6ec6ea"/><rect x="1027" y="236" width="1" height="2" fill="#52a6cc"/><rect x="1026" y="237" width="2" height="1" fill="#6ec6ea"/><rect x="1029" y="236" width="1" height="2" fill="#52a6cc"/><rect x="1028" y="237" width="2" height="1" fill="#6ec6ea"/><rect x="1032" y="228" width="1" height="3" fill="#b4b4b4"/><rect x="1031" y="229" width="2" height="1" fill="#ffffff"/><rect x="1034" y="228" width="1" height="10" fill="#52a6cc"/><rect x="1033" y="229" width="2" height="1" fill="#6ec6ea"/><rect x="1037" y="230" width="1" height="1" fill="#b4b4b4"/><rect x="1036" y="230" width="2" height="1" fill="#ffffff"/><rect x="1040" y="226" width="1" height="6" fill="#52a6cc"/><rect x="1039" y="230" width="2" height="1" fill="#6ec6ea"/><rect x="1042" y="230" width="1" height="3" fill="#b4b4b4"/><rect x="1041" y="231" width="2" height="1" fill="#ffffff"/><rect x="1045" y="229" width="1" height="2" fill="#b4b4b4"/><rect x="1044" y="230" width="2" height="1" fill="#ffffff"/><rect x="1047" y="224" width="1" height="7" fill="#b4b4b4"/><rect x="1046" y="225" width="2" height="5" fill="#ffffff"/><rect x="1050" y="225" width="1" height="11" fill="#52a6cc"/><rect x="1049" y="225" width="2" height="10" fill="#6ec6ea"/><rect x="1052" y="234" width="1" height="2" fill="#b4b4b4"/><rect x="1051" y="235" width="2" height="1" fill="#ffffff"/><rect x="1055" y="233" width="1" height="4" fill="#b4b4b4"/><rect x="1054" y="235" width="2" height="1" fill="#ffffff"/><rect x="1057" y="233" width="1" height="3" fill="#b4b4b4"/><rect x="1056" y="235" width="2" height="1" fill="#ffffff"/><rect x="1060" y="234" width="1" height="2" fill="#52a6cc"/><rect x="1059" y="235" width="2" height="1" fill="#6ec6ea"/><rect x="1062" y="229" width="1" height="7" fill="#b4b4b4"/><rect x="1061" y="234" width="2" height="1" fill="#ffffff"/><rect x="1065" y="232" width="1" height="4" fill="#52a6cc"/><rect x="1064" y="234" width="2" height="1" fill="#6ec6ea"/><rect x="1068" y="233" width="1" height="4" fill="#52a6cc"/><rect x="1067" y="234" width="2" height="3" fill="#6ec6ea"/><rect x="1070" y="223" width="1" height="15" fill="#b4b4b4"/><rect x="1069" y="224" width="2" height="13" fill="#ffffff"/><rect x="1073" y="221" width="1" height="3" fill="#b4b4b4"/><rect x="1072" y="223" width="2" height="1" fill="#ffffff"/><rect x="1075" y="220" width="1" height="3" fill="#b4b4b4"/><rect x="1074" y="220" width="2" height="3" fill="#ffffff"/><rect x="1078" y="219" width="1" height="2" fill="#52a6cc"/><rect x="1077" y="220" width="2" height="1" fill="#6ec6ea"/><rect x="1080" y="220" width="1" height="1" fill="#52a6cc"/><rect x="1079" y="221" width="2" height="1" fill="#6ec6ea"/><rect x="1083" y="219" width="1" height="4" fill="#52a6cc"/><rect x="1082" y="221" width="2" height="1" fill="#6ec6ea"/><rect x="1085" y="215" width="1" height="13" fill="#b4b4b4"/><rect x="1084" y="217" width="2" height="5" fill="#ffffff"/><rect x="1088" y="210" width="1" height="7" fill="#b4b4b4"/><rect x="1087" y="216" width="2" height="1" fill="#ffffff"/><rect x="1090" y="212" width="1" height="4" fill="#b4b4b4"/><rect x="1089" y="212" width="2" height="4" fill="#ffffff"/><rect x="1093" y="211" width="1" height="3" fill="#52a6cc"/><rect x="1092" y="212" width="2" height="2" fill="#6ec6ea"/><rect x="1096" y="212" width="1" height="3" fill="#b4b4b4"/><rect x="1095" y="213" width="2" height="1" fill="#ffffff"/><rect x="1098" y="212" width="1" height="5" fill="#52a6cc"/><rect x="1097" y="213" width="2" height="3" fill="#6ec6ea"/><rect x="1101" y="212" width="1" height="5" fill="#b4b4b4"/><rect x="1100" y="213" width="2" height="3" fill="#ffffff"/><rect x="1103" y="208" width="1" height="6" fill="#b4b4b4"/><rect x="1102" y="209" width="2" height="4" fill="#ffffff"/><rect x="1106" y="207" width="1" height="3" fill="#b4b4b4"/><rect x="1105" y="208" width="2" height="1" fill="#ffffff"/><rect x="1108" y="206" width="1" height="3" fill="#b4b4b4"/><rect x="1107" y="207" width="2" height="1" fill="#ffffff"/><rect x="1111" y="205" width="1" height="3" fill="#b4b4b4"/><rect x="1110" y="206" width="2" height="1" fill="#ffffff"/><rect x="1113" y="204" width="1" height="3" fill="#b4b4b4"/><rect x="1112" y="205" width="2" height="1" fill="#ffffff"/><rect x="1116" y="203" width="1" height="3" fill="#b4b4b4"/><rect x="1115" y="204" width="2" height="1" fill="#ffffff"/><rect x="1118" y="203" width="1" height="3" fill="#52a6cc"/><rect x="1117" y="204" width="2" height="2" fill="#6ec6ea"/><rect x="1121" y="205" width="1" height="2" fill="#52a6cc"/><rect x="1120" y="206" width="2" height="1" fill="#6ec6ea"/><rect x="1124" y="205" width="1" height="4" fill="#52a6cc"/><rect x="1123" y="207" width="2" height="1" fill="#6ec6ea"/><rect x="1126" y="206" width="1" height="4" fill="#52a6cc"/><rect x="1125" y="207" width="2" height="2" fill="#6ec6ea"/><rect x="1129" y="202" width="1" height="9" fill="#b4b4b4"/><rect x="1128" y="203" width="2" height="6" fill="#ffffff"/><rect x="1131" y="195" width="1" height="9" fill="#b4b4b4"/><rect x="1130" y="196" width="2" height="7" fill="#ffffff"/><rect x="1134" y="187" width="1" height="10" fill="#b4b4b4"/><rect x="1133" y="188" width="2" height="8" fill="#ffffff"/><rect x="1136" y="186" width="1" height="4" fill="#52a6cc"/><rect x="1135" y="188" width="2" height="2" fill="#6ec6ea"/><rect x="1139" y="189" width="1" height="2" fill="#b4b4b4"/><rect x="1138" y="189" width="2" height="1" fill="#ffffff"/><rect x="1141" y="188" width="1" height="2" fill="#b4b4b4"/><rect x="1140" y="188" width="2" height="1" fill="#ffffff"/><rect x="1144" y="177" width="1" height="12" fill="#b4b4b4"/><rect x="1143" y="178" width="2" height="10" fill="#ffffff"/><rect x="1146" y="175" width="1" height="4" fill="#b4b4b4"/><rect x="1145" y="176" width="2" height="2" fill="#ffffff"/><rect x="1149" y="169" width="1" height="8" fill="#b4b4b4"/><rect x="1148" y="170" width="2" height="6" fill="#ffffff"/><rect x="1152" y="169" width="1" height="2" fill="#52a6cc"/><rect x="1151" y="170" width="2" height="1" fill="#6ec6ea"/><rect x="1154" y="171" width="1" height="3" fill="#52a6cc"/><rect x="1153" y="171" width="2" height="2" fill="#6ec6ea"/><rect x="1157" y="170" width="1" height="4" fill="#b4b4b4"/><rect x="1156" y="170" width="2" height="3" fill="#ffffff"/><rect x="1159" y="170" width="1" height="2" fill="#52a6cc"/><rect x="1158" y="170" width="2" height="1" fill="#6ec6ea"/><rect x="1162" y="169" width="1" height="2" fill="#b4b4b4"/><rect x="1161" y="169" width="2" height="2" fill="#ffffff"/><rect x="1164" y="166" width="1" height="4" fill="#b4b4b4"/><rect x="1163" y="168" width="2" height="1" fill="#ffffff"/><rect x="1167" y="167" width="1" height="4" fill="#52a6cc"/><rect x="1166" y="168" width="2" height="2" fill="#6ec6ea"/><rect x="1169" y="167" width="1" height="4" fill="#b4b4b4"/><rect x="1168" y="167" width="2" height="3" fill="#ffffff"/><rect x="1172" y="165" width="1" height="3" fill="#b4b4b4"/><rect x="1171" y="166" width="2" height="1" fill="#ffffff"/><rect x="1174" y="164" width="1" height="5" fill="#52a6cc"/><rect x="1173" y="166" width="2" height="2" fill="#6ec6ea"/><rect x="1177" y="166" width="1" height="3" fill="#b4b4b4"/><rect x="1176" y="167" width="2" height="1" fill="#ffffff"/><rect x="1180" y="173" width="1" height="11" fill="#52a6cc"/><rect x="1179" y="174" width="2" height="9" fill="#6ec6ea"/><rect x="1182" y="183" width="1" height="1" fill="#52a6cc"/><rect x="1181" y="183" width="2" height="1" fill="#6ec6ea"/><rect x="1185" y="180" width="1" height="5" fill="#b4b4b4"/><rect x="1184" y="181" width="2" height="3" fill="#ffffff"/><rect x="1187" y="179" width="1" height="5" fill="#52a6cc"/><rect x="1186" y="181" width="2" height="2" fill="#6ec6ea"/><rect x="1190" y="182" width="1" height="6" fill="#52a6cc"/><rect x="1189" y="183" width="2" height="4" fill="#6ec6ea"/><rect x="1192" y="186" width="1" height="2" fill="#52a6cc"/><rect x="1191" y="187" width="2" height="1" fill="#6ec6ea"/><rect x="1195" y="186" width="1" height="2" fill="#b4b4b4"/><rect x="1194" y="187" width="2" height="1" fill="#ffffff"/><rect x="1197" y="186" width="1" height="2" fill="#52a6cc"/><rect x="1196" y="187" width="2" height="1" fill="#6ec6ea"/><rect x="1200" y="183" width="1" height="6" fill="#b4b4b4"/><rect x="1199" y="185" width="2" height="3" fill="#ffffff"/><rect x="1202" y="181" width="1" height="4" fill="#b4b4b4"/><rect x="1201" y="183" width="2" height="2" fill="#ffffff"/><rect x="1205" y="181" width="1" height="2" fill="#b4b4b4"/><rect x="1204" y="182" width="2" height="1" fill="#ffffff"/><rect x="1208" y="178" width="1" height="6" fill="#b4b4b4"/><rect x="1207" y="180" width="2" height="2" fill="#ffffff"/><rect x="1210" y="178" width="1" height="3" fill="#b4b4b4"/><rect x="1209" y="179" width="2" height="1" fill="#ffffff"/><rect x="1213" y="175" width="1" height="5" fill="#b4b4b4"/><rect x="1212" y="176" width="2" height="3" fill="#ffffff"/><rect x="1215" y="175" width="1" height="13" fill="#52a6cc"/><rect x="1214" y="176" width="2" height="11" fill="#6ec6ea"/><rect x="1218" y="187" width="1" height="4" fill="#52a6cc"/><rect x="1217" y="187" width="2" height="4" fill="#6ec6ea"/><rect x="1220" y="190" width="1" height="3" fill="#52a6cc"/><rect x="1219" y="191" width="2" height="2" fill="#6ec6ea"/><rect x="1223" y="192" width="1" height="2" fill="#b4b4b4"/><rect x="1222" y="192" width="2" height="1" fill="#ffffff"/><rect x="1225" y="188" width="1" height="5" fill="#b4b4b4"/><rect x="1224" y="190" width="2" height="2" fill="#ffffff"/><rect x="1228" y="189" width="1" height="2" fill="#52a6cc"/><rect x="1227" y="190" width="2" height="1" fill="#6ec6ea"/><rect x="1230" y="189" width="1" height="2" fill="#b4b4b4"/><rect x="1229" y="189" width="2" height="2" fill="#ffffff"/><rect x="1233" y="189" width="1" height="5" fill="#52a6cc"/><rect x="1232" y="189" width="2" height="3" fill="#6ec6ea"/><rect x="1236" y="191" width="1" height="4" fill="#52a6cc"/><rect x="1235" y="192" width="2" height="2" fill="#6ec6ea"/><rect x="1238" y="193" width="1" height="5" fill="#52a6cc"/><rect x="1237" y="194" width="2" height="3" fill="#6ec6ea"/><rect x="1241" y="195" width="1" height="3" fill="#b4b4b4"/><rect x="1240" y="196" width="2" height="1" fill="#ffffff"/><rect x="1243" y="190" width="1" height="7" fill="#b4b4b4"/><rect x="1242" y="190" width="2" height="6" fill="#ffffff"/><rect x="1246" y="186" width="1" height="5" fill="#b4b4b4"/><rect x="1245" y="187" width="2" height="3" fill="#ffffff"/><rect x="1248" y="185" width="1" height="3" fill="#b4b4b4"/><rect x="1247" y="185" width="2" height="2" fill="#ffffff"/><rect x="1251" y="184" width="1" height="3" fill="#b4b4b4"/><rect x="1250" y="184" width="2" height="1" fill="#ffffff"/><rect x="1253" y="180" width="1" height="5" fill="#b4b4b4"/><rect x="1252" y="182" width="2" height="2" fill="#ffffff"/><rect x="1256" y="170" width="1" height="12" fill="#b4b4b4"/><rect x="1255" y="176" width="2" height="6" fill="#ffffff"/><rect x="1258" y="175" width="1" height="4" fill="#52a6cc"/><rect x="1257" y="176" width="2" height="2" fill="#6ec6ea"/><rect x="1261" y="175" width="1" height="7" fill="#52a6cc"/><rect x="1260" y="178" width="2" height="3" fill="#6ec6ea"/><rect x="1264" y="181" width="1" height="3" fill="#52a6cc"/><rect x="1263" y="181" width="2" height="2" fill="#6ec6ea"/><rect x="1266" y="182" width="1" height="4" fill="#52a6cc"/><rect x="1265" y="183" width="2" height="3" fill="#6ec6ea"/><rect x="1269" y="186" width="1" height="5" fill="#52a6cc"/><rect x="1268" y="186" width="2" height="4" fill="#6ec6ea"/><rect x="1271" y="189" width="1" height="5" fill="#52a6cc"/><rect x="1270" y="190" width="2" height="3" fill="#6ec6ea"/><rect x="1274" y="189" width="1" height="6" fill="#b4b4b4"/><rect x="1273" y="190" width="2" height="3" fill="#ffffff"/><rect x="1276" y="189" width="1" height="2" fill="#b4b4b4"/><rect x="1275" y="189" width="2" height="1" fill="#ffffff"/><rect x="1279" y="188" width="1" height="2" fill="#52a6cc"/><rect x="1278" y="189" width="2" height="1" fill="#6ec6ea"/><rect x="1281" y="189" width="1" height="5" fill="#52a6cc"/><rect x="1280" y="190" width="2" height="3" fill="#6ec6ea"/><rect x="1284" y="192" width="1" height="2" fill="#b4b4b4"/><rect x="1283" y="193" width="2" height="1" fill="#ffffff"/><rect x="1286" y="191" width="1" height="9" fill="#b4b4b4"/><rect x="1285" y="191" width="2" height="2" fill="#ffffff"/><rect x="1289" y="189" width="1" height="5" fill="#52a6cc"/><rect x="1288" y="191" width="2" height="1" fill="#6ec6ea"/><rect x="1292" y="210" width="1" height="6" fill="#52a6cc"/><rect x="1291" y="210" width="2" height="5" fill="#6ec6ea"/><rect x="1294" y="207" width="1" height="9" fill="#b4b4b4"/><rect x="1293" y="208" width="2" height="7" fill="#ffffff"/><rect x="1297" y="205" width="1" height="4" fill="#b4b4b4"/><rect x="1296" y="206" width="2" height="2" fill="#ffffff"/><rect x="1299" y="205" width="1" height="3" fill="#52a6cc"/><rect x="1298" y="206" width="2" height="1" fill="#6ec6ea"/><rect x="1302" y="203" width="1" height="5" fill="#b4b4b4"/><rect x="1301" y="205" width="2" height="2" fill="#ffffff"/><rect x="1304" y="204" width="1" height="4" fill="#52a6cc"/><rect x="1303" y="205" width="2" height="2" fill="#6ec6ea"/><rect x="1307" y="206" width="1" height="1" fill="#52a6cc"/><rect x="1306" y="207" width="2" height="1" fill="#6ec6ea"/><rect x="1309" y="206" width="1" height="4" fill="#52a6cc"/><rect x="1308" y="207" width="2" height="3" fill="#6ec6ea"/><rect x="1312" y="209" width="1" height="12" fill="#52a6cc"/><rect x="1311" y="210" width="2" height="10" fill="#6ec6ea"/><rect x="1314" y="218" width="1" height="2" fill="#b4b4b4"/><rect x="1313" y="218" width="2" height="2" fill="#ffffff"/><rect x="1317" y="216" width="1" height="3" fill="#b4b4b4"/><rect x="1316" y="218" width="2" height="1" fill="#ffffff"/><rect x="1320" y="217" width="1" height="2" fill="#52a6cc"/><rect x="1319" y="218" width="2" height="1" fill="#6ec6ea"/><rect x="1322" y="217" width="1" height="8" fill="#52a6cc"/><rect x="1321" y="218" width="2" height="6" fill="#6ec6ea"/><rect x="1325" y="222" width="1" height="3" fill="#b4b4b4"/><rect x="1324" y="222" width="2" height="2" fill="#ffffff"/><rect x="1327" y="216" width="1" height="7" fill="#b4b4b4"/><rect x="1326" y="217" width="2" height="5" fill="#ffffff"/><rect x="1330" y="215" width="1" height="2" fill="#b4b4b4"/><rect x="1329" y="216" width="2" height="1" fill="#ffffff"/><rect x="1332" y="210" width="1" height="7" fill="#b4b4b4"/><rect x="1331" y="212" width="2" height="4" fill="#ffffff"/><rect x="1335" y="211" width="1" height="2" fill="#52a6cc"/><rect x="1334" y="212" width="2" height="1" fill="#6ec6ea"/><rect x="1337" y="211" width="1" height="5" fill="#52a6cc"/><rect x="1336" y="212" width="2" height="1" fill="#6ec6ea"/><rect x="1340" y="210" width="1" height="3" fill="#b4b4b4"/><rect x="1339" y="210" width="2" height="2" fill="#ffffff"/><rect x="1342" y="209" width="1" height="5" fill="#52a6cc"/><rect x="1341" y="210" width="2" height="3" fill="#6ec6ea"/><rect x="1345" y="212" width="1" height="2" fill="#b4b4b4"/><rect x="1344" y="213" width="2" height="1" fill="#ffffff"/><rect x="1348" y="212" width="1" height="3" fill="#52a6cc"/><rect x="1347" y="213" width="2" height="1" fill="#6ec6ea"/><rect x="1350" y="213" width="1" height="9" fill="#52a6cc"/><rect x="1349" y="214" width="2" height="6" fill="#6ec6ea"/><rect x="1353" y="220" width="1" height="14" fill="#52a6cc"/><rect x="1352" y="220" width="2" height="8" fill="#6ec6ea"/><rect x="1355" y="226" width="1" height="8" fill="#52a6cc"/><rect x="1354" y="228" width="2" height="5" fill="#6ec6ea"/><rect x="1358" y="232" width="1" height="5" fill="#52a6cc"/><rect x="1357" y="233" width="2" height="3" fill="#6ec6ea"/><rect x="1360" y="236" width="1" height="7" fill="#52a6cc"/><rect x="1359" y="236" width="2" height="7" fill="#6ec6ea"/><rect x="1363" y="242" width="1" height="8" fill="#52a6cc"/><rect x="1362" y="243" width="2" height="5" fill="#6ec6ea"/><rect x="1365" y="242" width="1" height="6" fill="#b4b4b4"/><rect x="1364" y="243" width="2" height="5" fill="#ffffff"/><rect x="1368" y="257" width="1" height="34" fill="#52a6cc"/><rect x="1367" y="258" width="2" height="32" fill="#6ec6ea"/><rect x="1370" y="286" width="1" height="5" fill="#b4b4b4"/><rect x="1369" y="288" width="2" height="2" fill="#ffffff"/><rect x="1373" y="287" width="1" height="4" fill="#52a6cc"/><rect x="1372" y="288" width="2" height="2" fill="#6ec6ea"/><rect x="1376" y="280" width="1" height="10" fill="#b4b4b4"/><rect x="1375" y="282" width="2" height="8" fill="#ffffff"/><rect x="1378" y="281" width="1" height="5" fill="#52a6cc"/><rect x="1377" y="282" width="2" height="3" fill="#6ec6ea"/><rect x="1381" y="283" width="1" height="11" fill="#52a6cc"/><rect x="1380" y="285" width="2" height="9" fill="#6ec6ea"/><rect x="1383" y="293" width="1" height="11" fill="#52a6cc"/><rect x="1382" y="294" width="2" height="5" fill="#6ec6ea"/><rect x="1386" y="289" width="1" height="10" fill="#b4b4b4"/><rect x="1385" y="294" width="2" height="5" fill="#ffffff"/><rect x="1388" y="278" width="1" height="16" fill="#b4b4b4"/><rect x="1387" y="280" width="2" height="14" fill="#ffffff"/><rect x="1391" y="274" width="1" height="8" fill="#b4b4b4"/><rect x="1390" y="275" width="2" height="5" fill="#ffffff"/><rect x="1393" y="266" width="1" height="10" fill="#b4b4b4"/><rect x="1392" y="267" width="2" height="8" fill="#ffffff"/><rect x="1396" y="261" width="1" height="7" fill="#b4b4b4"/><rect x="1395" y="264" width="2" height="3" fill="#ffffff"/><rect x="1398" y="264" width="1" height="3" fill="#52a6cc"/><rect x="1397" y="264" width="2" height="2" fill="#6ec6ea"/><rect x="1401" y="259" width="1" height="11" fill="#52a6cc"/><rect x="1400" y="266" width="2" height="3" fill="#6ec6ea"/><rect x="1404" y="265" width="1" height="13" fill="#52a6cc"/><rect x="1403" y="269" width="2" height="9" fill="#6ec6ea"/><rect x="1406" y="277" width="1" height="7" fill="#52a6cc"/><rect x="1405" y="278" width="2" height="6" fill="#6ec6ea"/><rect x="1409" y="283" width="1" height="9" fill="#52a6cc"/><rect x="1408" y="284" width="2" height="7" fill="#6ec6ea"/><rect x="1411" y="290" width="1" height="7" fill="#52a6cc"/><rect x="1410" y="291" width="2" height="4" fill="#6ec6ea"/><rect x="1414" y="293" width="1" height="4" fill="#52a6cc"/><rect x="1413" y="295" width="2" height="2" fill="#6ec6ea"/><rect x="1416" y="296" width="1" height="3" fill="#b4b4b4"/><rect x="1415" y="296" width="2" height="1" fill="#ffffff"/><rect x="1419" y="292" width="1" height="5" fill="#b4b4b4"/><rect x="1418" y="293" width="2" height="3" fill="#ffffff"/><rect x="1421" y="286" width="1" height="8" fill="#b4b4b4"/><rect x="1420" y="287" width="2" height="6" fill="#ffffff"/><rect x="1424" y="270" width="1" height="18" fill="#b4b4b4"/><rect x="1423" y="270" width="2" height="17" fill="#ffffff"/><rect x="1426" y="267" width="1" height="4" fill="#b4b4b4"/><rect x="1425" y="267" width="2" height="3" fill="#ffffff"/><rect x="1429" y="253" width="1" height="15" fill="#b4b4b4"/><rect x="1428" y="253" width="2" height="14" fill="#ffffff"/><rect x="1432" y="252" width="1" height="5" fill="#52a6cc"/><rect x="1431" y="253" width="2" height="2" fill="#6ec6ea"/><rect x="1434" y="254" width="1" height="3" fill="#b4b4b4"/><rect x="1433" y="255" width="2" height="1" fill="#ffffff"/><rect x="1437" y="255" width="1" height="5" fill="#52a6cc"/><rect x="1436" y="255" width="2" height="4" fill="#6ec6ea"/><rect x="1439" y="250" width="1" height="15" fill="#b4b4b4"/><rect x="1438" y="250" width="2" height="9" fill="#ffffff"/><rect x="1442" y="241" width="1" height="14" fill="#b4b4b4"/><rect x="1441" y="241" width="2" height="9" fill="#ffffff"/><rect x="1444" y="240" width="1" height="6" fill="#52a6cc"/><rect x="1443" y="241" width="2" height="4" fill="#6ec6ea"/><rect x="1447" y="241" width="1" height="5" fill="#b4b4b4"/><rect x="1446" y="243" width="2" height="2" fill="#ffffff"/><rect x="1449" y="242" width="1" height="2" fill="#b4b4b4"/><rect x="1448" y="242" width="2" height="1" fill="#ffffff"/><rect x="1452" y="242" width="1" height="7" fill="#52a6cc"/><rect x="1451" y="242" width="2" height="1" fill="#6ec6ea"/><rect x="1454" y="242" width="1" height="3" fill="#52a6cc"/><rect x="1453" y="243" width="2" height="1" fill="#6ec6ea"/><rect x="1457" y="244" width="1" height="4" fill="#52a6cc"/><rect x="1456" y="244" width="2" height="3" fill="#6ec6ea"/><rect x="1460" y="239" width="1" height="9" fill="#b4b4b4"/><rect x="1459" y="240" width="2" height="7" fill="#ffffff"/><rect x="1462" y="240" width="1" height="2" fill="#52a6cc"/><rect x="1461" y="240" width="2" height="1" fill="#6ec6ea"/><rect x="1465" y="240" width="1" height="21" fill="#52a6cc"/><rect x="1464" y="241" width="2" height="18" fill="#6ec6ea"/><rect x="1467" y="252" width="1" height="13" fill="#52a6cc"/><rect x="1466" y="259" width="2" height="4" fill="#6ec6ea"/><rect x="1470" y="263" width="1" height="7" fill="#52a6cc"/><rect x="1469" y="263" width="2" height="7" fill="#6ec6ea"/><rect x="1472" y="258" width="1" height="13" fill="#b4b4b4"/><rect x="1471" y="259" width="2" height="11" fill="#ffffff"/><rect x="1475" y="255" width="1" height="12" fill="#52a6cc"/><rect x="1474" y="259" width="2" height="8" fill="#6ec6ea"/><rect x="1477" y="266" width="1" height="6" fill="#52a6cc"/><rect x="1476" y="267" width="2" height="4" fill="#6ec6ea"/><rect x="1480" y="263" width="1" height="8" fill="#b4b4b4"/><rect x="1479" y="264" width="2" height="7" fill="#ffffff"/><rect x="1482" y="250" width="1" height="15" fill="#b4b4b4"/><rect x="1481" y="257" width="2" height="7" fill="#ffffff"/><rect x="1485" y="251" width="1" height="7" fill="#b4b4b4"/><rect x="1484" y="252" width="2" height="5" fill="#ffffff"/><rect x="1488" y="251" width="1" height="12" fill="#52a6cc"/><rect x="1487" y="252" width="2" height="2" fill="#6ec6ea"/><rect x="1490" y="254" width="1" height="8" fill="#52a6cc"/><rect x="1489" y="254" width="2" height="8" fill="#6ec6ea"/><rect x="1493" y="261" width="1" height="11" fill="#52a6cc"/><rect x="1492" y="262" width="2" height="6" fill="#6ec6ea"/><rect x="1495" y="266" width="1" height="9" fill="#b4b4b4"/><rect x="1494" y="267" width="2" height="1" fill="#ffffff"/><rect x="1498" y="267" width="1" height="17" fill="#52a6cc"/><rect x="1497" y="267" width="2" height="11" fill="#6ec6ea"/><rect x="1500" y="277" width="1" height="6" fill="#52a6cc"/><rect x="1499" y="278" width="2" height="4" fill="#6ec6ea"/><rect x="1503" y="282" width="1" height="8" fill="#52a6cc"/><rect x="1502" y="282" width="2" height="8" fill="#6ec6ea"/><rect x="1505" y="287" width="1" height="10" fill="#52a6cc"/><rect x="1504" y="290" width="2" height="6" fill="#6ec6ea"/><rect x="1508" y="286" width="1" height="17" fill="#b4b4b4"/><rect x="1507" y="287" width="2" height="9" fill="#ffffff"/><rect x="1510" y="282" width="1" height="6" fill="#b4b4b4"/><rect x="1509" y="283" width="2" height="4" fill="#ffffff"/><rect x="1513" y="283" width="1" height="2" fill="#b4b4b4"/><rect x="1512" y="283" width="2" height="1" fill="#ffffff"/><rect x="1516" y="279" width="1" height="4" fill="#b4b4b4"/><rect x="1515" y="280" width="2" height="3" fill="#ffffff"/><rect x="1518" y="272" width="1" height="10" fill="#b4b4b4"/><rect x="1517" y="272" width="2" height="8" fill="#ffffff"/><rect x="1521" y="269" width="1" height="4" fill="#b4b4b4"/><rect x="1520" y="271" width="2" height="1" fill="#ffffff"/><rect x="1523" y="266" width="1" height="6" fill="#b4b4b4"/><rect x="1522" y="266" width="2" height="5" fill="#ffffff"/><rect x="1526" y="265" width="1" height="3" fill="#52a6cc"/><rect x="1525" y="266" width="2" height="1" fill="#6ec6ea"/><rect x="1528" y="261" width="1" height="7" fill="#b4b4b4"/><rect x="1527" y="262" width="2" height="5" fill="#ffffff"/><rect x="1531" y="259" width="1" height="4" fill="#b4b4b4"/><rect x="1530" y="260" width="2" height="2" fill="#ffffff"/><rect x="1533" y="256" width="1" height="5" fill="#b4b4b4"/><rect x="1532" y="260" width="2" height="1" fill="#ffffff"/><rect x="1536" y="260" width="1" height="5" fill="#52a6cc"/><rect x="1535" y="260" width="2" height="5" fill="#6ec6ea"/><rect x="1538" y="264" width="1" height="10" fill="#52a6cc"/><rect x="1537" y="265" width="2" height="9" fill="#6ec6ea"/><rect x="1541" y="267" width="1" height="8" fill="#b4b4b4"/><rect x="1540" y="268" width="2" height="6" fill="#ffffff"/><rect x="1544" y="267" width="1" height="14" fill="#52a6cc"/><rect x="1543" y="268" width="2" height="13" fill="#6ec6ea"/><rect x="1546" y="280" width="1" height="5" fill="#52a6cc"/><rect x="1545" y="281" width="2" height="3" fill="#6ec6ea"/><rect x="1549" y="283" width="1" height="14" fill="#52a6cc"/><rect x="1548" y="284" width="2" height="9" fill="#6ec6ea"/><rect x="1551" y="292" width="1" height="8" fill="#52a6cc"/><rect x="1550" y="293" width="2" height="6" fill="#6ec6ea"/><rect x="1554" y="291" width="1" height="14" fill="#b4b4b4"/><rect x="1553" y="292" width="2" height="7" fill="#ffffff"/><rect x="1556" y="290" width="1" height="3" fill="#b4b4b4"/><rect x="1555" y="291" width="2" height="1" fill="#ffffff"/><rect x="1559" y="291" width="1" height="7" fill="#52a6cc"/><rect x="1558" y="291" width="2" height="6" fill="#6ec6ea"/><rect x="1561" y="289" width="1" height="9" fill="#b4b4b4"/><rect x="1560" y="290" width="2" height="7" fill="#ffffff"/><rect x="1564" y="286" width="1" height="5" fill="#b4b4b4"/><rect x="1563" y="286" width="2" height="4" fill="#ffffff"/><rect x="1566" y="285" width="1" height="16" fill="#52a6cc"/><rect x="1565" y="286" width="2" height="9" fill="#6ec6ea"/><rect x="1569" y="295" width="1" height="2" fill="#52a6cc"/><rect x="1568" y="295" width="2" height="1" fill="#6ec6ea"/><rect x="1572" y="338" width="1" height="6" fill="#52a6cc"/><rect x="1571" y="338" width="2" height="4" fill="#6ec6ea"/><rect x="1574" y="342" width="1" height="5" fill="#52a6cc"/><rect x="1573" y="342" width="2" height="4" fill="#6ec6ea"/><rect x="1577" y="345" width="1" height="10" fill="#52a6cc"/><rect x="1576" y="346" width="2" height="8" fill="#6ec6ea"/><rect x="1579" y="342" width="1" height="13" fill="#b4b4b4"/><rect x="1578" y="344" width="2" height="10" fill="#ffffff"/><rect x="1582" y="343" width="1" height="10" fill="#52a6cc"/><rect x="1581" y="344" width="2" height="5" fill="#6ec6ea"/><rect x="1584" y="335" width="1" height="20" fill="#b4b4b4"/><rect x="1583" y="336" width="2" height="13" fill="#ffffff"/><rect x="1587" y="327" width="1" height="10" fill="#b4b4b4"/><rect x="1586" y="328" width="2" height="8" fill="#ffffff"/><rect x="1589" y="321" width="1" height="9" fill="#b4b4b4"/><rect x="1588" y="326" width="2" height="2" fill="#ffffff"/><rect x="1592" y="319" width="1" height="7" fill="#b4b4b4"/><rect x="1591" y="320" width="2" height="6" fill="#ffffff"/><rect x="1594" y="319" width="1" height="3" fill="#52a6cc"/><rect x="1593" y="320" width="2" height="1" fill="#6ec6ea"/><rect x="1597" y="319" width="1" height="3" fill="#b4b4b4"/><rect x="1596" y="319" width="2" height="2" fill="#ffffff"/><rect x="1600" y="319" width="1" height="1" fill="#52a6cc"/><rect x="1599" y="319" width="2" height="1" fill="#6ec6ea"/><rect x="1602" y="317" width="1" height="4" fill="#b4b4b4"/><rect x="1601" y="318" width="2" height="2" fill="#ffffff"/><rect x="1605" y="311" width="1" height="7" fill="#b4b4b4"/><rect x="1604" y="313" width="2" height="5" fill="#ffffff"/><rect x="1607" y="303" width="1" height="11" fill="#b4b4b4"/><rect x="1606" y="304" width="2" height="9" fill="#ffffff"/><rect x="1610" y="303" width="1" height="6" fill="#52a6cc"/><rect x="1609" y="304" width="2" height="3" fill="#6ec6ea"/><rect x="1612" y="296" width="1" height="11" fill="#b4b4b4"/><rect x="1611" y="298" width="2" height="9" fill="#ffffff"/><rect x="1615" y="297" width="1" height="10" fill="#52a6cc"/><rect x="1614" y="298" width="2" height="7" fill="#6ec6ea"/><rect x="1617" y="297" width="1" height="9" fill="#b4b4b4"/><rect x="1616" y="298" width="2" height="7" fill="#ffffff"/><rect x="1620" y="278" width="1" height="20" fill="#b4b4b4"/><rect x="1619" y="279" width="2" height="19" fill="#ffffff"/><rect x="1622" y="278" width="1" height="2" fill="#52a6cc"/><rect x="1621" y="279" width="2" height="1" fill="#6ec6ea"/><rect x="1625" y="279" width="1" height="9" fill="#52a6cc"/><rect x="1624" y="280" width="2" height="7" fill="#6ec6ea"/><rect x="1628" y="286" width="1" height="7" fill="#52a6cc"/><rect x="1627" y="287" width="2" height="4" fill="#6ec6ea"/><rect x="1630" y="285" width="1" height="6" fill="#b4b4b4"/><rect x="1629" y="285" width="2" height="6" fill="#ffffff"/><rect x="1633" y="284" width="1" height="8" fill="#52a6cc"/><rect x="1632" y="285" width="2" height="1" fill="#6ec6ea"/><rect x="1635" y="285" width="1" height="9" fill="#52a6cc"/><rect x="1634" y="285" width="2" height="9" fill="#6ec6ea"/><rect x="1638" y="287" width="1" height="10" fill="#52a6cc"/><rect x="1637" y="294" width="2" height="3" fill="#6ec6ea"/><rect x="1640" y="296" width="1" height="3" fill="#52a6cc"/><rect x="1639" y="297" width="2" height="1" fill="#6ec6ea"/><rect x="1643" y="290" width="1" height="9" fill="#b4b4b4"/><rect x="1642" y="291" width="2" height="7" fill="#ffffff"/><rect x="1645" y="277" width="1" height="15" fill="#b4b4b4"/><rect x="1644" y="279" width="2" height="12" fill="#ffffff"/><rect x="1648" y="271" width="1" height="8" fill="#b4b4b4"/><rect x="1647" y="271" width="2" height="8" fill="#ffffff"/><rect x="1650" y="269" width="1" height="6" fill="#52a6cc"/><rect x="1649" y="271" width="2" height="2" fill="#6ec6ea"/><rect x="1653" y="272" width="1" height="2" fill="#b4b4b4"/><rect x="1652" y="272" width="2" height="1" fill="#ffffff"/><rect x="1656" y="271" width="1" height="15" fill="#52a6cc"/><rect x="1655" y="272" width="2" height="8" fill="#6ec6ea"/><rect x="1658" y="277" width="1" height="6" fill="#52a6cc"/><rect x="1657" y="280" width="2" height="2" fill="#6ec6ea"/><rect x="1661" y="281" width="1" height="2" fill="#b4b4b4"/><rect x="1660" y="281" width="2" height="1" fill="#ffffff"/><rect x="1663" y="266" width="1" height="16" fill="#b4b4b4"/><rect x="1662" y="267" width="2" height="14" fill="#ffffff"/><rect x="1666" y="266" width="1" height="5" fill="#52a6cc"/><rect x="1665" y="267" width="2" height="4" fill="#6ec6ea"/><rect x="1668" y="263" width="1" height="8" fill="#b4b4b4"/><rect x="1667" y="264" width="2" height="7" fill="#ffffff"/><rect x="1671" y="262" width="1" height="4" fill="#b4b4b4"/><rect x="1670" y="262" width="2" height="2" fill="#ffffff"/><rect x="1673" y="262" width="1" height="15" fill="#52a6cc"/><rect x="1672" y="262" width="2" height="10" fill="#6ec6ea"/><rect x="1676" y="270" width="1" height="10" fill="#52a6cc"/><rect x="1675" y="272" width="2" height="7" fill="#6ec6ea"/><rect x="1678" y="276" width="1" height="5" fill="#b4b4b4"/><rect x="1677" y="277" width="2" height="2" fill="#ffffff"/><rect x="1681" y="276" width="1" height="1" fill="#b4b4b4"/><rect x="1680" y="276" width="2" height="1" fill="#ffffff"/><rect x="14" y="754" width="1" height="6" fill="#b4b4b4"/><rect x="12" y="756" width="4" height="3" fill="#ffffff"/><rect x="18" y="755" width="1" height="5" fill="#52a6cc"/><rect x="16" y="756" width="5" height="4" fill="#6ec6ea"/><rect x="23" y="752" width="1" height="8" fill="#b4b4b4"/><rect x="21" y="755" width="4" height="2" fill="#ffffff"/><rect x="27" y="740" width="1" height="17" fill="#b4b4b4"/><rect x="25" y="742" width="4" height="14" fill="#ffffff"/><rect x="31" y="739" width="1" height="9" fill="#52a6cc"/><rect x="29" y="740" width="5" height="8" fill="#6ec6ea"/><rect x="36" y="746" width="1" height="6" fill="#52a6cc"/><rect x="34" y="747" width="4" height="2" fill="#6ec6ea"/><rect x="40" y="742" width="1" height="6" fill="#b4b4b4"/><rect x="38" y="742" width="4" height="6" fill="#ffffff"/><rect x="44" y="740" width="1" height="3" fill="#b4b4b4"/><rect x="42" y="740" width="5" height="2" fill="#ffffff"/><rect x="49" y="733" width="1" height="21" fill="#52a6cc"/><rect x="47" y="739" width="4" height="14" fill="#6ec6ea"/><rect x="53" y="744" width="1" height="8" fill="#b4b4b4"/><rect x="51" y="750" width="4" height="2" fill="#ffffff"/><rect x="57" y="745" width="1" height="5" fill="#52a6cc"/><rect x="55" y="748" width="5" height="2" fill="#6ec6ea"/><rect x="62" y="746" width="1" height="10" fill="#52a6cc"/><rect x="60" y="749" width="4" height="6" fill="#6ec6ea"/><rect x="66" y="754" width="1" height="15" fill="#52a6cc"/><rect x="64" y="754" width="4" height="2" fill="#6ec6ea"/><rect x="70" y="750" width="1" height="7" fill="#b4b4b4"/><rect x="68" y="750" width="5" height="7" fill="#ffffff"/><rect x="75" y="744" width="1" height="15" fill="#b4b4b4"/><rect x="73" y="753" width="4" height="1" fill="#ffffff"/><rect x="79" y="745" width="1" height="8" fill="#b4b4b4"/><rect x="77" y="748" width="4" height="5" fill="#ffffff"/><rect x="83" y="750" width="1" height="5" fill="#b4b4b4"/><rect x="81" y="751" width="5" height="2" fill="#ffffff"/><rect x="88" y="740" width="1" height="12" fill="#b4b4b4"/><rect x="86" y="744" width="4" height="8" fill="#ffffff"/><rect x="92" y="740" width="1" height="14" fill="#52a6cc"/><rect x="90" y="744" width="4" height="2" fill="#6ec6ea"/><rect x="96" y="744" width="1" height="6" fill="#52a6cc"/><rect x="94" y="746" width="5" height="2" fill="#6ec6ea"/><rect x="101" y="730" width="1" height="22" fill="#52a6cc"/><rect x="99" y="742" width="4" height="10" fill="#6ec6ea"/><rect x="105" y="750" width="1" height="16" fill="#52a6cc"/><rect x="103" y="751" width="4" height="13" fill="#6ec6ea"/><rect x="109" y="752" width="1" height="7" fill="#b4b4b4"/><rect x="107" y="752" width="5" height="7" fill="#ffffff"/><rect x="114" y="744" width="1" height="10" fill="#b4b4b4"/><rect x="112" y="745" width="4" height="9" fill="#ffffff"/><rect x="118" y="736" width="1" height="10" fill="#b4b4b4"/><rect x="116" y="736" width="4" height="9" fill="#ffffff"/><rect x="122" y="736" width="1" height="4" fill="#52a6cc"/><rect x="120" y="737" width="5" height="1" fill="#6ec6ea"/><rect x="127" y="728" width="1" height="12" fill="#b4b4b4"/><rect x="125" y="729" width="4" height="10" fill="#ffffff"/><rect x="131" y="719" width="1" height="10" fill="#b4b4b4"/><rect x="129" y="723" width="4" height="6" fill="#ffffff"/><rect x="135" y="721" width="1" height="7" fill="#52a6cc"/><rect x="133" y="722" width="5" height="5" fill="#6ec6ea"/><rect x="140" y="725" width="1" height="11" fill="#52a6cc"/><rect x="138" y="726" width="4" height="10" fill="#6ec6ea"/><rect x="144" y="732" width="1" height="14" fill="#52a6cc"/><rect x="142" y="735" width="4" height="11" fill="#6ec6ea"/><rect x="148" y="734" width="1" height="12" fill="#b4b4b4"/><rect x="146" y="734" width="5" height="12" fill="#ffffff"/><rect x="153" y="726" width="1" height="13" fill="#b4b4b4"/><rect x="151" y="727" width="4" height="9" fill="#ffffff"/><rect x="157" y="724" width="1" height="8" fill="#b4b4b4"/><rect x="155" y="725" width="4" height="2" fill="#ffffff"/><rect x="161" y="721" width="1" height="6" fill="#b4b4b4"/><rect x="159" y="721" width="5" height="5" fill="#ffffff"/><rect x="166" y="715" width="1" height="9" fill="#b4b4b4"/><rect x="164" y="720" width="4" height="2" fill="#ffffff"/><rect x="170" y="713" width="1" height="19" fill="#52a6cc"/><rect x="168" y="721" width="4" height="7" fill="#6ec6ea"/><rect x="174" y="721" width="1" height="8" fill="#b4b4b4"/><rect x="172" y="725" width="5" height="3" fill="#ffffff"/><rect x="179" y="724" width="1" height="17" fill="#52a6cc"/><rect x="177" y="724" width="4" height="17" fill="#6ec6ea"/><rect x="183" y="736" width="1" height="7" fill="#b4b4b4"/><rect x="181" y="736" width="4" height="4" fill="#ffffff"/><rect x="187" y="730" width="1" height="5" fill="#b4b4b4"/><rect x="185" y="731" width="5" height="3" fill="#ffffff"/><rect x="192" y="729" width="1" height="12" fill="#52a6cc"/><rect x="190" y="732" width="4" height="2" fill="#6ec6ea"/><rect x="196" y="729" width="1" height="13" fill="#52a6cc"/><rect x="194" y="734" width="4" height="2" fill="#6ec6ea"/><rect x="200" y="732" width="1" height="8" fill="#52a6cc"/><rect x="198" y="736" width="5" height="3" fill="#6ec6ea"/><rect x="205" y="733" width="1" height="24" fill="#b4b4b4"/><rect x="203" y="734" width="4" height="10" fill="#ffffff"/><rect x="209" y="727" width="1" height="11" fill="#b4b4b4"/><rect x="207" y="727" width="4" height="8" fill="#ffffff"/><rect x="213" y="709" width="1" height="23" fill="#b4b4b4"/><rect x="211" y="711" width="5" height="19" fill="#ffffff"/><rect x="218" y="696" width="1" height="16" fill="#b4b4b4"/><rect x="216" y="699" width="4" height="13" fill="#ffffff"/><rect x="222" y="689" width="1" height="12" fill="#b4b4b4"/><rect x="220" y="689" width="4" height="10" fill="#ffffff"/><rect x="226" y="685" width="1" height="5" fill="#b4b4b4"/><rect x="224" y="685" width="5" height="4" fill="#ffffff"/><rect x="231" y="654" width="1" height="28" fill="#52a6cc"/><rect x="229" y="654" width="4" height="27" fill="#6ec6ea"/><rect x="235" y="678" width="1" height="16" fill="#52a6cc"/><rect x="233" y="679" width="4" height="15" fill="#6ec6ea"/><rect x="239" y="681" width="1" height="13" fill="#b4b4b4"/><rect x="237" y="688" width="5" height="1" fill="#ffffff"/><rect x="244" y="685" width="1" height="9" fill="#b4b4b4"/><rect x="242" y="685" width="4" height="3" fill="#ffffff"/><rect x="248" y="673" width="1" height="13" fill="#b4b4b4"/><rect x="246" y="673" width="4" height="13" fill="#ffffff"/><rect x="252" y="670" width="1" height="3" fill="#b4b4b4"/><rect x="250" y="671" width="5" height="2" fill="#ffffff"/><rect x="257" y="654" width="1" height="22" fill="#b4b4b4"/><rect x="255" y="654" width="4" height="21" fill="#ffffff"/><rect x="261" y="654" width="1" height="11" fill="#52a6cc"/><rect x="259" y="655" width="4" height="8" fill="#6ec6ea"/><rect x="265" y="645" width="1" height="16" fill="#b4b4b4"/><rect x="263" y="651" width="5" height="10" fill="#ffffff"/><rect x="270" y="650" width="1" height="14" fill="#52a6cc"/><rect x="268" y="651" width="4" height="2" fill="#6ec6ea"/><rect x="274" y="651" width="1" height="8" fill="#52a6cc"/><rect x="272" y="652" width="4" height="2" fill="#6ec6ea"/><rect x="278" y="653" width="1" height="4" fill="#52a6cc"/><rect x="276" y="653" width="5" height="4" fill="#6ec6ea"/><rect x="283" y="649" width="1" height="8" fill="#b4b4b4"/><rect x="281" y="650" width="4" height="7" fill="#ffffff"/><rect x="287" y="650" width="1" height="7" fill="#52a6cc"/><rect x="285" y="650" width="4" height="4" fill="#6ec6ea"/><rect x="291" y="650" width="1" height="6" fill="#52a6cc"/><rect x="289" y="652" width="5" height="2" fill="#6ec6ea"/><rect x="296" y="644" width="1" height="10" fill="#b4b4b4"/><rect x="294" y="647" width="4" height="7" fill="#ffffff"/><rect x="300" y="646" width="1" height="14" fill="#52a6cc"/><rect x="298" y="647" width="4" height="6" fill="#6ec6ea"/><rect x="304" y="649" width="1" height="4" fill="#b4b4b4"/><rect x="302" y="651" width="5" height="2" fill="#ffffff"/><rect x="309" y="652" width="1" height="10" fill="#52a6cc"/><rect x="307" y="652" width="4" height="9" fill="#6ec6ea"/><rect x="313" y="657" width="1" height="11" fill="#52a6cc"/><rect x="311" y="660" width="4" height="7" fill="#6ec6ea"/><rect x="317" y="660" width="1" height="5" fill="#b4b4b4"/><rect x="315" y="661" width="5" height="3" fill="#ffffff"/><rect x="322" y="659" width="1" height="8" fill="#52a6cc"/><rect x="320" y="661" width="4" height="6" fill="#6ec6ea"/><rect x="326" y="664" width="1" height="20" fill="#52a6cc"/><rect x="324" y="666" width="4" height="11" fill="#6ec6ea"/><rect x="330" y="674" width="1" height="7" fill="#52a6cc"/><rect x="328" y="675" width="5" height="6" fill="#6ec6ea"/><rect x="335" y="667" width="1" height="15" fill="#b4b4b4"/><rect x="333" y="669" width="4" height="8" fill="#ffffff"/><rect x="339" y="668" width="1" height="10" fill="#52a6cc"/><rect x="337" y="669" width="4" height="7" fill="#6ec6ea"/><rect x="343" y="665" width="1" height="11" fill="#b4b4b4"/><rect x="341" y="669" width="5" height="2" fill="#ffffff"/><rect x="348" y="664" width="1" height="10" fill="#52a6cc"/><rect x="346" y="669" width="4" height="4" fill="#6ec6ea"/><rect x="352" y="660" width="1" height="13" fill="#b4b4b4"/><rect x="350" y="662" width="4" height="11" fill="#ffffff"/><rect x="356" y="661" width="1" height="7" fill="#b4b4b4"/><rect x="354" y="662" width="5" height="1" fill="#ffffff"/><rect x="361" y="663" width="1" height="16" fill="#52a6cc"/><rect x="359" y="663" width="4" height="16" fill="#6ec6ea"/><rect x="365" y="673" width="1" height="6" fill="#b4b4b4"/><rect x="363" y="677" width="4" height="2" fill="#ffffff"/><rect x="369" y="673" width="1" height="4" fill="#52a6cc"/><rect x="367" y="675" width="5" height="1" fill="#6ec6ea"/><rect x="374" y="675" width="1" height="6" fill="#52a6cc"/><rect x="372" y="675" width="4" height="5" fill="#6ec6ea"/><rect x="378" y="678" width="1" height="3" fill="#52a6cc"/><rect x="376" y="678" width="4" height="2" fill="#6ec6ea"/><rect x="382" y="679" width="1" height="2" fill="#52a6cc"/><rect x="380" y="679" width="5" height="1" fill="#6ec6ea"/><rect x="387" y="677" width="1" height="13" fill="#52a6cc"/><rect x="385" y="677" width="4" height="12" fill="#6ec6ea"/><rect x="391" y="682" width="1" height="10" fill="#b4b4b4"/><rect x="389" y="683" width="4" height="6" fill="#ffffff"/><rect x="395" y="676" width="1" height="7" fill="#52a6cc"/><rect x="393" y="681" width="5" height="2" fill="#6ec6ea"/><rect x="400" y="677" width="1" height="9" fill="#52a6cc"/><rect x="398" y="681" width="4" height="4" fill="#6ec6ea"/><rect x="404" y="671" width="1" height="14" fill="#b4b4b4"/><rect x="402" y="671" width="4" height="14" fill="#ffffff"/><rect x="408" y="671" width="1" height="4" fill="#52a6cc"/><rect x="406" y="672" width="5" height="2" fill="#6ec6ea"/><rect x="413" y="669" width="1" height="11" fill="#b4b4b4"/><rect x="411" y="669" width="4" height="8" fill="#ffffff"/><rect x="417" y="667" width="1" height="6" fill="#b4b4b4"/><rect x="415" y="669" width="4" height="1" fill="#ffffff"/><rect x="421" y="666" width="1" height="3" fill="#b4b4b4"/><rect x="419" y="667" width="5" height="2" fill="#ffffff"/><rect x="426" y="661" width="1" height="13" fill="#b4b4b4"/><rect x="424" y="664" width="4" height="4" fill="#ffffff"/><rect x="430" y="660" width="1" height="5" fill="#b4b4b4"/><rect x="428" y="662" width="4" height="3" fill="#ffffff"/><rect x="434" y="662" width="1" height="6" fill="#52a6cc"/><rect x="432" y="663" width="5" height="2" fill="#6ec6ea"/><rect x="439" y="661" width="1" height="7" fill="#b4b4b4"/><rect x="437" y="661" width="4" height="2" fill="#ffffff"/><rect x="443" y="660" width="1" height="5" fill="#52a6cc"/><rect x="441" y="661" width="4" height="2" fill="#6ec6ea"/><rect x="447" y="663" width="1" height="11" fill="#52a6cc"/><rect x="445" y="663" width="5" height="11" fill="#6ec6ea"/><rect x="452" y="672" width="1" height="7" fill="#52a6cc"/><rect x="450" y="673" width="4" height="3" fill="#6ec6ea"/><rect x="456" y="673" width="1" height="7" fill="#b4b4b4"/><rect x="454" y="675" width="4" height="1" fill="#ffffff"/><rect x="460" y="674" width="1" height="3" fill="#b4b4b4"/><rect x="458" y="674" width="5" height="3" fill="#ffffff"/><rect x="465" y="673" width="1" height="9" fill="#52a6cc"/><rect x="463" y="673" width="4" height="8" fill="#6ec6ea"/><rect x="469" y="677" width="1" height="4" fill="#b4b4b4"/><rect x="467" y="678" width="4" height="2" fill="#ffffff"/><rect x="473" y="673" width="1" height="6" fill="#b4b4b4"/><rect x="471" y="677" width="5" height="1" fill="#ffffff"/><rect x="478" y="677" width="1" height="5" fill="#52a6cc"/><rect x="476" y="677" width="4" height="1" fill="#6ec6ea"/><rect x="482" y="669" width="1" height="11" fill="#b4b4b4"/><rect x="480" y="671" width="4" height="8" fill="#ffffff"/><rect x="486" y="671" width="1" height="2" fill="#52a6cc"/><rect x="484" y="671" width="5" height="2" fill="#6ec6ea"/><rect x="491" y="676" width="1" height="9" fill="#52a6cc"/><rect x="489" y="677" width="4" height="6" fill="#6ec6ea"/><rect x="495" y="681" width="1" height="3" fill="#b4b4b4"/><rect x="493" y="682" width="4" height="1" fill="#ffffff"/><rect x="499" y="673" width="1" height="5" fill="#b4b4b4"/><rect x="497" y="675" width="5" height="2" fill="#ffffff"/><rect x="504" y="671" width="1" height="6" fill="#b4b4b4"/><rect x="502" y="672" width="4" height="3" fill="#ffffff"/><rect x="508" y="672" width="1" height="12" fill="#52a6cc"/><rect x="506" y="672" width="4" height="8" fill="#6ec6ea"/><rect x="512" y="679" width="1" height="2" fill="#52a6cc"/><rect x="510" y="679" width="5" height="2" fill="#6ec6ea"/><rect x="517" y="668" width="1" height="14" fill="#b4b4b4"/><rect x="515" y="669" width="4" height="11" fill="#ffffff"/><rect x="521" y="667" width="1" height="4" fill="#b4b4b4"/><rect x="519" y="668" width="4" height="2" fill="#ffffff"/><rect x="525" y="661" width="1" height="7" fill="#52a6cc"/><rect x="523" y="661" width="5" height="1" fill="#6ec6ea"/><rect x="530" y="658" width="1" height="7" fill="#b4b4b4"/><rect x="528" y="659" width="4" height="2" fill="#ffffff"/><rect x="534" y="652" width="1" height="9" fill="#b4b4b4"/><rect x="532" y="653" width="4" height="8" fill="#ffffff"/><rect x="538" y="653" width="1" height="3" fill="#52a6cc"/><rect x="536" y="654" width="5" height="1" fill="#6ec6ea"/><rect x="543" y="650" width="1" height="9" fill="#b4b4b4"/><rect x="541" y="651" width="4" height="3" fill="#ffffff"/><rect x="547" y="637" width="1" height="16" fill="#b4b4b4"/><rect x="545" y="638" width="4" height="14" fill="#ffffff"/><rect x="551" y="624" width="1" height="14" fill="#b4b4b4"/><rect x="549" y="624" width="5" height="14" fill="#ffffff"/><rect x="556" y="621" width="1" height="5" fill="#b4b4b4"/><rect x="554" y="621" width="4" height="3" fill="#ffffff"/><rect x="560" y="620" width="1" height="6" fill="#b4b4b4"/><rect x="558" y="621" width="5" height="1" fill="#ffffff"/><rect x="565" y="620" width="1" height="2" fill="#b4b4b4"/><rect x="563" y="620" width="4" height="1" fill="#ffffff"/><rect x="569" y="626" width="1" height="14" fill="#52a6cc"/><rect x="567" y="627" width="4" height="8" fill="#6ec6ea"/><rect x="573" y="634" width="1" height="8" fill="#52a6cc"/><rect x="571" y="635" width="5" height="2" fill="#6ec6ea"/><rect x="578" y="633" width="1" height="6" fill="#b4b4b4"/><rect x="576" y="633" width="4" height="5" fill="#ffffff"/><rect x="582" y="629" width="1" height="9" fill="#52a6cc"/><rect x="580" y="633" width="4" height="4" fill="#6ec6ea"/><rect x="586" y="636" width="1" height="13" fill="#52a6cc"/><rect x="584" y="637" width="5" height="5" fill="#6ec6ea"/><rect x="591" y="639" width="1" height="3" fill="#b4b4b4"/><rect x="589" y="640" width="4" height="1" fill="#ffffff"/><rect x="595" y="641" width="1" height="10" fill="#b4b4b4"/><rect x="593" y="642" width="4" height="1" fill="#ffffff"/><rect x="599" y="631" width="1" height="11" fill="#b4b4b4"/><rect x="597" y="632" width="5" height="10" fill="#ffffff"/><rect x="604" y="625" width="1" height="8" fill="#52a6cc"/><rect x="602" y="629" width="4" height="3" fill="#6ec6ea"/><rect x="608" y="631" width="1" height="16" fill="#52a6cc"/><rect x="606" y="631" width="4" height="14" fill="#6ec6ea"/><rect x="612" y="638" width="1" height="7" fill="#b4b4b4"/><rect x="610" y="642" width="5" height="3" fill="#ffffff"/><rect x="617" y="639" width="1" height="4" fill="#b4b4b4"/><rect x="615" y="641" width="4" height="1" fill="#ffffff"/><rect x="621" y="646" width="1" height="23" fill="#b4b4b4"/><rect x="619" y="655" width="4" height="4" fill="#ffffff"/><rect x="625" y="651" width="1" height="7" fill="#b4b4b4"/><rect x="623" y="654" width="5" height="1" fill="#ffffff"/><rect x="630" y="660" width="1" height="13" fill="#52a6cc"/><rect x="628" y="660" width="4" height="7" fill="#6ec6ea"/><rect x="634" y="663" width="1" height="11" fill="#52a6cc"/><rect x="632" y="665" width="4" height="2" fill="#6ec6ea"/><rect x="638" y="659" width="1" height="8" fill="#b4b4b4"/><rect x="636" y="663" width="5" height="4" fill="#ffffff"/><rect x="643" y="657" width="1" height="7" fill="#b4b4b4"/><rect x="641" y="660" width="4" height="2" fill="#ffffff"/><rect x="647" y="657" width="1" height="25" fill="#52a6cc"/><rect x="645" y="664" width="4" height="15" fill="#6ec6ea"/><rect x="651" y="675" width="1" height="18" fill="#52a6cc"/><rect x="649" y="678" width="5" height="15" fill="#6ec6ea"/><rect x="656" y="701" width="1" height="43" fill="#52a6cc"/><rect x="654" y="701" width="4" height="33" fill="#6ec6ea"/><rect x="660" y="720" width="1" height="21" fill="#52a6cc"/><rect x="658" y="734" width="4" height="5" fill="#6ec6ea"/><rect x="664" y="710" width="1" height="34" fill="#b4b4b4"/><rect x="662" y="711" width="5" height="28" fill="#ffffff"/><rect x="669" y="701" width="1" height="12" fill="#b4b4b4"/><rect x="667" y="709" width="4" height="2" fill="#ffffff"/><rect x="673" y="701" width="1" height="36" fill="#52a6cc"/><rect x="671" y="715" width="4" height="18" fill="#6ec6ea"/><rect x="677" y="726" width="1" height="18" fill="#b4b4b4"/><rect x="675" y="731" width="5" height="1" fill="#ffffff"/><rect x="682" y="695" width="1" height="28" fill="#b4b4b4"/><rect x="680" y="695" width="4" height="27" fill="#ffffff"/><rect x="686" y="691" width="1" height="15" fill="#52a6cc"/><rect x="684" y="695" width="4" height="7" fill="#6ec6ea"/><rect x="690" y="687" width="1" height="15" fill="#b4b4b4"/><rect x="688" y="687" width="5" height="14" fill="#ffffff"/><rect x="695" y="685" width="1" height="4" fill="#b4b4b4"/><rect x="693" y="687" width="4" height="1" fill="#ffffff"/><rect x="699" y="682" width="1" height="24" fill="#52a6cc"/><rect x="697" y="689" width="4" height="13" fill="#6ec6ea"/><rect x="703" y="700" width="1" height="17" fill="#52a6cc"/><rect x="701" y="702" width="5" height="11" fill="#6ec6ea"/><rect x="708" y="693" width="1" height="26" fill="#b4b4b4"/><rect x="706" y="696" width="4" height="14" fill="#ffffff"/><rect x="712" y="693" width="1" height="22" fill="#52a6cc"/><rect x="710" y="696" width="4" height="11" fill="#6ec6ea"/><rect x="716" y="706" width="1" height="30" fill="#52a6cc"/><rect x="714" y="707" width="5" height="28" fill="#6ec6ea"/><rect x="721" y="723" width="1" height="14" fill="#b4b4b4"/><rect x="719" y="723" width="4" height="11" fill="#ffffff"/><rect x="725" y="705" width="1" height="21" fill="#b4b4b4"/><rect x="723" y="709" width="4" height="11" fill="#ffffff"/><rect x="729" y="700" width="1" height="11" fill="#b4b4b4"/><rect x="727" y="700" width="5" height="10" fill="#ffffff"/><rect x="734" y="699" width="1" height="19" fill="#52a6cc"/><rect x="732" y="702" width="4" height="9" fill="#6ec6ea"/><rect x="738" y="710" width="1" height="31" fill="#52a6cc"/><rect x="736" y="710" width="4" height="29" fill="#6ec6ea"/><rect x="742" y="726" width="1" height="14" fill="#b4b4b4"/><rect x="740" y="731" width="5" height="8" fill="#ffffff"/><rect x="747" y="727" width="1" height="12" fill="#52a6cc"/><rect x="745" y="731" width="4" height="5" fill="#6ec6ea"/><rect x="751" y="763" width="1" height="27" fill="#b4b4b4"/><rect x="749" y="777" width="4" height="4" fill="#ffffff"/><rect x="755" y="757" width="1" height="27" fill="#b4b4b4"/><rect x="753" y="764" width="5" height="13" fill="#ffffff"/><rect x="760" y="747" width="1" height="25" fill="#b4b4b4"/><rect x="758" y="759" width="4" height="6" fill="#ffffff"/><rect x="764" y="746" width="1" height="17" fill="#b4b4b4"/><rect x="762" y="748" width="4" height="11" fill="#ffffff"/><rect x="768" y="739" width="1" height="11" fill="#b4b4b4"/><rect x="766" y="743" width="5" height="6" fill="#ffffff"/><rect x="773" y="717" width="1" height="27" fill="#b4b4b4"/><rect x="771" y="724" width="4" height="20" fill="#ffffff"/><rect x="777" y="721" width="1" height="16" fill="#52a6cc"/><rect x="775" y="727" width="4" height="6" fill="#6ec6ea"/><rect x="781" y="726" width="1" height="20" fill="#b4b4b4"/><rect x="779" y="726" width="5" height="9" fill="#ffffff"/><rect x="786" y="707" width="1" height="15" fill="#b4b4b4"/><rect x="784" y="713" width="4" height="8" fill="#ffffff"/><rect x="790" y="710" width="1" height="20" fill="#b4b4b4"/><rect x="788" y="710" width="4" height="4" fill="#ffffff"/><rect x="794" y="699" width="1" height="21" fill="#52a6cc"/><rect x="792" y="710" width="5" height="7" fill="#6ec6ea"/><rect x="799" y="713" width="1" height="9" fill="#52a6cc"/><rect x="797" y="716" width="4" height="3" fill="#6ec6ea"/><rect x="896" y="769" width="1" height="20" fill="#b4b4b4"/><rect x="893" y="769" width="6" height="20" fill="#ffffff"/><rect x="902" y="749" width="1" height="27" fill="#b4b4b4"/><rect x="899" y="754" width="6" height="16" fill="#ffffff"/><rect x="908" y="752" width="1" height="14" fill="#52a6cc"/><rect x="905" y="755" width="6" height="8" fill="#6ec6ea"/><rect x="914" y="760" width="1" height="13" fill="#52a6cc"/><rect x="911" y="762" width="6" height="11" fill="#6ec6ea"/><rect x="920" y="769" width="1" height="9" fill="#52a6cc"/><rect x="917" y="772" width="6" height="6" fill="#6ec6ea"/><rect x="926" y="773" width="1" height="11" fill="#b4b4b4"/><rect x="923" y="775" width="6" height="3" fill="#ffffff"/><rect x="932" y="774" width="1" height="11" fill="#52a6cc"/><rect x="929" y="776" width="6" height="4" fill="#6ec6ea"/><rect x="938" y="770" width="1" height="10" fill="#b4b4b4"/><rect x="935" y="774" width="6" height="6" fill="#ffffff"/><rect x="944" y="776" width="1" height="11" fill="#52a6cc"/><rect x="941" y="776" width="6" height="11" fill="#6ec6ea"/><rect x="950" y="774" width="1" height="14" fill="#b4b4b4"/><rect x="947" y="776" width="7" height="10" fill="#ffffff"/><rect x="957" y="768" width="1" height="10" fill="#b4b4b4"/><rect x="954" y="774" width="6" height="4" fill="#ffffff"/><rect x="963" y="763" width="1" height="12" fill="#b4b4b4"/><rect x="960" y="765" width="6" height="10" fill="#ffffff"/><rect x="969" y="756" width="1" height="9" fill="#b4b4b4"/><rect x="966" y="756" width="6" height="9" fill="#ffffff"/><rect x="975" y="756" width="1" height="21" fill="#52a6cc"/><rect x="972" y="757" width="6" height="19" fill="#6ec6ea"/><rect x="981" y="775" width="1" height="7" fill="#b4b4b4"/><rect x="978" y="775" width="6" height="2" fill="#ffffff"/><rect x="987" y="760" width="1" height="16" fill="#b4b4b4"/><rect x="984" y="761" width="6" height="15" fill="#ffffff"/><rect x="993" y="760" width="1" height="6" fill="#52a6cc"/><rect x="990" y="761" width="6" height="2" fill="#6ec6ea"/><rect x="999" y="748" width="1" height="23" fill="#52a6cc"/><rect x="996" y="761" width="6" height="5" fill="#6ec6ea"/><rect x="1005" y="761" width="1" height="18" fill="#52a6cc"/><rect x="1002" y="766" width="6" height="4" fill="#6ec6ea"/><rect x="1011" y="760" width="1" height="29" fill="#52a6cc"/><rect x="1008" y="770" width="6" height="12" fill="#6ec6ea"/><rect x="1017" y="765" width="1" height="18" fill="#b4b4b4"/><rect x="1014" y="776" width="6" height="6" fill="#ffffff"/><rect x="1023" y="750" width="1" height="25" fill="#b4b4b4"/><rect x="1020" y="751" width="6" height="24" fill="#ffffff"/><rect x="1029" y="746" width="1" height="9" fill="#52a6cc"/><rect x="1026" y="752" width="6" height="1" fill="#6ec6ea"/><rect x="1035" y="745" width="1" height="8" fill="#b4b4b4"/><rect x="1032" y="746" width="7" height="7" fill="#ffffff"/><rect x="1042" y="731" width="1" height="15" fill="#b4b4b4"/><rect x="1039" y="735" width="6" height="11" fill="#ffffff"/><rect x="1048" y="733" width="1" height="7" fill="#52a6cc"/><rect x="1045" y="736" width="6" height="1" fill="#6ec6ea"/><rect x="1054" y="728" width="1" height="13" fill="#b4b4b4"/><rect x="1051" y="733" width="6" height="4" fill="#ffffff"/><rect x="1060" y="726" width="1" height="10" fill="#b4b4b4"/><rect x="1057" y="731" width="6" height="2" fill="#ffffff"/><rect x="1066" y="725" width="1" height="12" fill="#b4b4b4"/><rect x="1063" y="729" width="6" height="2" fill="#ffffff"/><rect x="1072" y="729" width="1" height="8" fill="#52a6cc"/><rect x="1069" y="729" width="6" height="3" fill="#6ec6ea"/><rect x="1078" y="727" width="1" height="5" fill="#b4b4b4"/><rect x="1075" y="727" width="6" height="4" fill="#ffffff"/><rect x="1084" y="726" width="1" height="7" fill="#52a6cc"/><rect x="1081" y="726" width="6" height="7" fill="#6ec6ea"/><rect x="1090" y="732" width="1" height="16" fill="#52a6cc"/><rect x="1087" y="732" width="6" height="14" fill="#6ec6ea"/><rect x="1096" y="742" width="1" height="7" fill="#52a6cc"/><rect x="1093" y="746" width="6" height="1" fill="#6ec6ea"/><rect x="1102" y="738" width="1" height="8" fill="#b4b4b4"/><rect x="1099" y="741" width="6" height="5" fill="#ffffff"/><rect x="1108" y="733" width="1" height="6" fill="#b4b4b4"/><rect x="1105" y="735" width="6" height="4" fill="#ffffff"/><rect x="1114" y="730" width="1" height="9" fill="#52a6cc"/><rect x="1111" y="736" width="6" height="1" fill="#6ec6ea"/><rect x="1120" y="729" width="1" height="8" fill="#b4b4b4"/><rect x="1117" y="732" width="7" height="5" fill="#ffffff"/><rect x="1127" y="731" width="1" height="7" fill="#52a6cc"/><rect x="1124" y="732" width="6" height="6" fill="#6ec6ea"/><rect x="1133" y="735" width="1" height="4" fill="#b4b4b4"/><rect x="1130" y="736" width="6" height="2" fill="#ffffff"/><rect x="1139" y="687" width="1" height="49" fill="#b4b4b4"/><rect x="1136" y="687" width="6" height="49" fill="#ffffff"/><rect x="1145" y="667" width="1" height="30" fill="#b4b4b4"/><rect x="1142" y="682" width="6" height="5" fill="#ffffff"/><rect x="1151" y="680" width="1" height="12" fill="#b4b4b4"/><rect x="1148" y="681" width="6" height="2" fill="#ffffff"/><rect x="1157" y="675" width="1" height="18" fill="#52a6cc"/><rect x="1154" y="681" width="6" height="7" fill="#6ec6ea"/><rect x="1163" y="685" width="1" height="11" fill="#b4b4b4"/><rect x="1160" y="685" width="6" height="3" fill="#ffffff"/><rect x="1169" y="682" width="1" height="7" fill="#52a6cc"/><rect x="1166" y="686" width="6" height="1" fill="#6ec6ea"/><rect x="1175" y="683" width="1" height="7" fill="#52a6cc"/><rect x="1172" y="685" width="6" height="1" fill="#6ec6ea"/><rect x="1181" y="687" width="1" height="1" fill="#52a6cc"/><rect x="1178" y="687" width="6" height="1" fill="#6ec6ea"/><rect x="1187" y="689" width="1" height="23" fill="#52a6cc"/><rect x="1184" y="696" width="6" height="9" fill="#6ec6ea"/><rect x="1193" y="695" width="1" height="25" fill="#52a6cc"/><rect x="1190" y="703" width="6" height="6" fill="#6ec6ea"/><rect x="1199" y="700" width="1" height="18" fill="#b4b4b4"/><rect x="1196" y="700" width="6" height="8" fill="#ffffff"/><rect x="1205" y="697" width="1" height="17" fill="#b4b4b4"/><rect x="1202" y="698" width="7" height="2" fill="#ffffff"/><rect x="1212" y="694" width="1" height="9" fill="#52a6cc"/><rect x="1209" y="698" width="6" height="4" fill="#6ec6ea"/><rect x="1218" y="682" width="1" height="24" fill="#b4b4b4"/><rect x="1215" y="683" width="6" height="19" fill="#ffffff"/><rect x="1224" y="684" width="1" height="10" fill="#52a6cc"/><rect x="1221" y="684" width="6" height="6" fill="#6ec6ea"/><rect x="1230" y="685" width="1" height="10" fill="#52a6cc"/><rect x="1227" y="690" width="6" height="3" fill="#6ec6ea"/><rect x="1236" y="679" width="1" height="14" fill="#b4b4b4"/><rect x="1233" y="684" width="6" height="8" fill="#ffffff"/><rect x="1242" y="683" width="1" height="15" fill="#52a6cc"/><rect x="1239" y="684" width="6" height="10" fill="#6ec6ea"/><rect x="1248" y="693" width="1" height="7" fill="#52a6cc"/><rect x="1245" y="694" width="6" height="1" fill="#6ec6ea"/><rect x="1254" y="694" width="1" height="11" fill="#52a6cc"/><rect x="1251" y="695" width="6" height="10" fill="#6ec6ea"/><rect x="1260" y="703" width="1" height="13" fill="#52a6cc"/><rect x="1257" y="704" width="6" height="9" fill="#6ec6ea"/><rect x="1266" y="707" width="1" height="8" fill="#b4b4b4"/><rect x="1263" y="713" width="6" height="1" fill="#ffffff"/><rect x="1272" y="709" width="1" height="11" fill="#52a6cc"/><rect x="1269" y="713" width="6" height="3" fill="#6ec6ea"/><rect x="1278" y="714" width="1" height="22" fill="#52a6cc"/><rect x="1275" y="716" width="6" height="20" fill="#6ec6ea"/><rect x="1284" y="726" width="1" height="18" fill="#b4b4b4"/><rect x="1281" y="729" width="6" height="7" fill="#ffffff"/><rect x="1290" y="721" width="1" height="13" fill="#b4b4b4"/><rect x="1287" y="722" width="6" height="7" fill="#ffffff"/><rect x="1296" y="717" width="1" height="9" fill="#52a6cc"/><rect x="1293" y="721" width="7" height="2" fill="#6ec6ea"/><rect x="1303" y="713" width="1" height="11" fill="#b4b4b4"/><rect x="1300" y="720" width="6" height="2" fill="#ffffff"/><rect x="1309" y="718" width="1" height="12" fill="#52a6cc"/><rect x="1306" y="720" width="6" height="5" fill="#6ec6ea"/><rect x="1315" y="711" width="1" height="15" fill="#b4b4b4"/><rect x="1312" y="714" width="6" height="11" fill="#ffffff"/><rect x="1321" y="711" width="1" height="8" fill="#b4b4b4"/><rect x="1318" y="713" width="6" height="1" fill="#ffffff"/><rect x="1327" y="708" width="1" height="9" fill="#b4b4b4"/><rect x="1324" y="708" width="6" height="5" fill="#ffffff"/><rect x="1333" y="705" width="1" height="7" fill="#b4b4b4"/><rect x="1330" y="707" width="6" height="2" fill="#ffffff"/><rect x="1339" y="706" width="1" height="6" fill="#52a6cc"/><rect x="1336" y="706" width="6" height="3" fill="#6ec6ea"/><rect x="1345" y="707" width="1" height="9" fill="#b4b4b4"/><rect x="1342" y="707" width="6" height="2" fill="#ffffff"/><rect x="1351" y="695" width="1" height="15" fill="#b4b4b4"/><rect x="1348" y="701" width="6" height="6" fill="#ffffff"/><rect x="1357" y="693" width="1" height="1" fill="#52a6cc"/><rect x="1354" y="693" width="6" height="1" fill="#6ec6ea"/><rect x="1363" y="663" width="1" height="15" fill="#b4b4b4"/><rect x="1360" y="665" width="6" height="13" fill="#ffffff"/><rect x="1369" y="652" width="1" height="14" fill="#b4b4b4"/><rect x="1366" y="653" width="6" height="13" fill="#ffffff"/><rect x="1375" y="642" width="1" height="13" fill="#b4b4b4"/><rect x="1372" y="642" width="6" height="12" fill="#ffffff"/><rect x="1381" y="641" width="1" height="17" fill="#52a6cc"/><rect x="1378" y="643" width="7" height="14" fill="#6ec6ea"/><rect x="1388" y="644" width="1" height="14" fill="#b4b4b4"/><rect x="1385" y="644" width="6" height="13" fill="#ffffff"/><rect x="1394" y="644" width="1" height="7" fill="#52a6cc"/><rect x="1391" y="645" width="6" height="2" fill="#6ec6ea"/><rect x="1400" y="643" width="1" height="5" fill="#b4b4b4"/><rect x="1397" y="645" width="6" height="3" fill="#ffffff"/><rect x="1406" y="646" width="1" height="9" fill="#52a6cc"/><rect x="1403" y="646" width="6" height="9" fill="#6ec6ea"/><rect x="1412" y="654" width="1" height="11" fill="#52a6cc"/><rect x="1409" y="654" width="6" height="6" fill="#6ec6ea"/><rect x="1418" y="653" width="1" height="10" fill="#b4b4b4"/><rect x="1415" y="654" width="6" height="6" fill="#ffffff"/><rect x="1424" y="651" width="1" height="17" fill="#52a6cc"/><rect x="1421" y="652" width="6" height="9" fill="#6ec6ea"/><rect x="1430" y="658" width="1" height="7" fill="#b4b4b4"/><rect x="1427" y="658" width="6" height="2" fill="#ffffff"/><rect x="1436" y="648" width="1" height="15" fill="#52a6cc"/><rect x="1433" y="659" width="6" height="3" fill="#6ec6ea"/><rect x="1442" y="659" width="1" height="8" fill="#52a6cc"/><rect x="1439" y="661" width="6" height="2" fill="#6ec6ea"/><rect x="1448" y="662" width="1" height="13" fill="#52a6cc"/><rect x="1445" y="662" width="6" height="12" fill="#6ec6ea"/><rect x="1454" y="671" width="1" height="8" fill="#b4b4b4"/><rect x="1451" y="672" width="6" height="3" fill="#ffffff"/><rect x="1460" y="673" width="1" height="19" fill="#52a6cc"/><rect x="1457" y="673" width="6" height="13" fill="#6ec6ea"/><rect x="1466" y="683" width="1" height="5" fill="#52a6cc"/><rect x="1463" y="686" width="7" height="2" fill="#6ec6ea"/><rect x="1473" y="685" width="1" height="8" fill="#b4b4b4"/><rect x="1470" y="686" width="6" height="2" fill="#ffffff"/><rect x="1479" y="677" width="1" height="9" fill="#b4b4b4"/><rect x="1476" y="681" width="6" height="5" fill="#ffffff"/><rect x="1485" y="679" width="1" height="6" fill="#52a6cc"/><rect x="1482" y="681" width="6" height="4" fill="#6ec6ea"/><rect x="1491" y="682" width="1" height="5" fill="#b4b4b4"/><rect x="1488" y="684" width="6" height="1" fill="#ffffff"/><rect x="1497" y="675" width="1" height="13" fill="#b4b4b4"/><rect x="1494" y="680" width="6" height="3" fill="#ffffff"/><rect x="1503" y="680" width="1" height="11" fill="#52a6cc"/><rect x="1500" y="681" width="6" height="9" fill="#6ec6ea"/><rect x="1509" y="686" width="1" height="16" fill="#52a6cc"/><rect x="1506" y="690" width="6" height="5" fill="#6ec6ea"/><rect x="1515" y="673" width="1" height="24" fill="#b4b4b4"/><rect x="1512" y="674" width="6" height="21" fill="#ffffff"/><rect x="1521" y="658" width="1" height="17" fill="#b4b4b4"/><rect x="1518" y="658" width="6" height="17" fill="#ffffff"/><rect x="1527" y="648" width="1" height="13" fill="#b4b4b4"/><rect x="1524" y="648" width="6" height="12" fill="#ffffff"/><rect x="1533" y="643" width="1" height="8" fill="#52a6cc"/><rect x="1530" y="648" width="6" height="2" fill="#6ec6ea"/><rect x="1539" y="643" width="1" height="8" fill="#b4b4b4"/><rect x="1536" y="648" width="6" height="3" fill="#ffffff"/><rect x="1545" y="645" width="1" height="9" fill="#b4b4b4"/><rect x="1542" y="648" width="6" height="1" fill="#ffffff"/><rect x="1551" y="648" width="1" height="5" fill="#52a6cc"/><rect x="1548" y="648" width="6" height="2" fill="#6ec6ea"/><rect x="1557" y="650" width="1" height="12" fill="#52a6cc"/><rect x="1554" y="650" width="7" height="7" fill="#6ec6ea"/><rect x="1564" y="648" width="1" height="9" fill="#b4b4b4"/><rect x="1561" y="650" width="6" height="7" fill="#ffffff"/><rect x="1570" y="644" width="1" height="7" fill="#b4b4b4"/><rect x="1567" y="644" width="6" height="7" fill="#ffffff"/><rect x="1576" y="642" width="1" height="9" fill="#b4b4b4"/><rect x="1573" y="643" width="6" height="2" fill="#ffffff"/><rect x="1582" y="631" width="1" height="13" fill="#b4b4b4"/><rect x="1579" y="632" width="6" height="12" fill="#ffffff"/><rect x="1588" y="620" width="1" height="12" fill="#b4b4b4"/><rect x="1585" y="625" width="6" height="7" fill="#ffffff"/><rect x="1594" y="626" width="1" height="21" fill="#52a6cc"/><rect x="1591" y="626" width="6" height="15" fill="#6ec6ea"/><rect x="1600" y="632" width="1" height="8" fill="#b4b4b4"/><rect x="1597" y="635" width="6" height="5" fill="#ffffff"/><rect x="1606" y="634" width="1" height="23" fill="#52a6cc"/><rect x="1603" y="634" width="6" height="23" fill="#6ec6ea"/><rect x="1612" y="653" width="1" height="22" fill="#b4b4b4"/><rect x="1609" y="656" width="6" height="1" fill="#ffffff"/><rect x="1618" y="653" width="1" height="12" fill="#52a6cc"/><rect x="1615" y="656" width="6" height="9" fill="#6ec6ea"/><rect x="1624" y="658" width="1" height="8" fill="#52a6cc"/><rect x="1621" y="663" width="6" height="2" fill="#6ec6ea"/><rect x="1630" y="660" width="1" height="7" fill="#b4b4b4"/><rect x="1627" y="661" width="6" height="4" fill="#ffffff"/><rect x="1636" y="656" width="1" height="14" fill="#52a6cc"/><rect x="1633" y="661" width="6" height="9" fill="#6ec6ea"/><rect x="1642" y="661" width="1" height="15" fill="#b4b4b4"/><rect x="1639" y="668" width="7" height="2" fill="#ffffff"/><rect x="1649" y="668" width="1" height="12" fill="#52a6cc"/><rect x="1646" y="669" width="6" height="1" fill="#6ec6ea"/><rect x="1655" y="665" width="1" height="9" fill="#b4b4b4"/><rect x="1652" y="666" width="6" height="4" fill="#ffffff"/><rect x="1661" y="667" width="1" height="7" fill="#52a6cc"/><rect x="1658" y="668" width="6" height="5" fill="#6ec6ea"/><rect x="1667" y="670" width="1" height="6" fill="#52a6cc"/><rect x="1664" y="670" width="6" height="4" fill="#6ec6ea"/><rect x="1673" y="673" width="1" height="2" fill="#52a6cc"/><rect x="1670" y="674" width="6" height="1" fill="#6ec6ea"/><rect x="1679" y="670" width="1" height="1" fill="#52a6cc"/><rect x="1676" y="670" width="6" height="1" fill="#6ec6ea"/></svg></body></html>
